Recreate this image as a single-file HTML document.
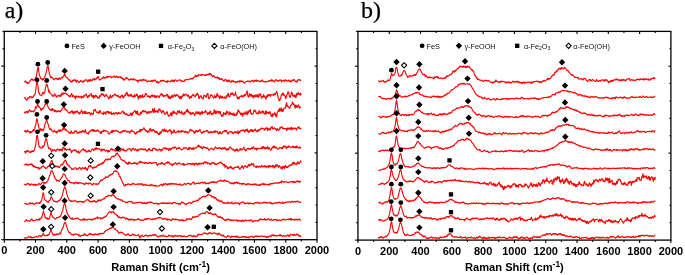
<!DOCTYPE html><html><head><meta charset="utf-8"><style>
html,body{margin:0;padding:0;background:#fff;width:685px;height:275px;overflow:hidden}
svg{display:block;will-change:transform;filter:blur(0.3px)}
.ax{fill:none;stroke:#000;stroke-width:1.3}
.tk{stroke:#000;stroke-width:1.1}
.sp{fill:none;stroke:#ff0000;stroke-width:1.1;stroke-linejoin:round}
.mk{fill:#000}
.od{fill:#fff;stroke:#000;stroke-width:1.1}
text{font-family:"Liberation Sans",sans-serif}
.tl{font-size:11px;font-weight:bold;text-anchor:middle;fill:#000}
.at{font-size:11.1px;font-weight:bold;text-anchor:middle;fill:#000}
.sup{font-size:8.4px}
.sub{font-size:5px}
.lg{font-size:7.3px;fill:#111}
.pl{font-family:"Liberation Serif",serif;font-size:24px;fill:#000;stroke:#000;stroke-width:0.25}
</style></head><body>
<svg width="685" height="275" viewBox="0 0 685 275">
<text class="pl" x="4.7" y="18.2">a)</text>
<text class="pl" x="361.0" y="18.2">b)</text>
<rect class="ax" x="4.25" y="31.40" width="312.75" height="208.30"/>
<line class="tk" x1="4.25" y1="239.70" x2="4.25" y2="242.70"/>
<line class="tk" x1="19.89" y1="239.70" x2="19.89" y2="241.50"/>
<line class="tk" x1="19.89" y1="31.40" x2="19.89" y2="32.90"/>
<line class="tk" x1="35.52" y1="239.70" x2="35.52" y2="242.70"/>
<line class="tk" x1="35.52" y1="31.40" x2="35.52" y2="33.90"/>
<line class="tk" x1="51.16" y1="239.70" x2="51.16" y2="241.50"/>
<line class="tk" x1="51.16" y1="31.40" x2="51.16" y2="32.90"/>
<line class="tk" x1="66.80" y1="239.70" x2="66.80" y2="242.70"/>
<line class="tk" x1="66.80" y1="31.40" x2="66.80" y2="33.90"/>
<line class="tk" x1="82.44" y1="239.70" x2="82.44" y2="241.50"/>
<line class="tk" x1="82.44" y1="31.40" x2="82.44" y2="32.90"/>
<line class="tk" x1="98.07" y1="239.70" x2="98.07" y2="242.70"/>
<line class="tk" x1="98.07" y1="31.40" x2="98.07" y2="33.90"/>
<line class="tk" x1="113.71" y1="239.70" x2="113.71" y2="241.50"/>
<line class="tk" x1="113.71" y1="31.40" x2="113.71" y2="32.90"/>
<line class="tk" x1="129.35" y1="239.70" x2="129.35" y2="242.70"/>
<line class="tk" x1="129.35" y1="31.40" x2="129.35" y2="33.90"/>
<line class="tk" x1="144.99" y1="239.70" x2="144.99" y2="241.50"/>
<line class="tk" x1="144.99" y1="31.40" x2="144.99" y2="32.90"/>
<line class="tk" x1="160.62" y1="239.70" x2="160.62" y2="242.70"/>
<line class="tk" x1="160.62" y1="31.40" x2="160.62" y2="33.90"/>
<line class="tk" x1="176.26" y1="239.70" x2="176.26" y2="241.50"/>
<line class="tk" x1="176.26" y1="31.40" x2="176.26" y2="32.90"/>
<line class="tk" x1="191.90" y1="239.70" x2="191.90" y2="242.70"/>
<line class="tk" x1="191.90" y1="31.40" x2="191.90" y2="33.90"/>
<line class="tk" x1="207.54" y1="239.70" x2="207.54" y2="241.50"/>
<line class="tk" x1="207.54" y1="31.40" x2="207.54" y2="32.90"/>
<line class="tk" x1="223.17" y1="239.70" x2="223.17" y2="242.70"/>
<line class="tk" x1="223.17" y1="31.40" x2="223.17" y2="33.90"/>
<line class="tk" x1="238.81" y1="239.70" x2="238.81" y2="241.50"/>
<line class="tk" x1="238.81" y1="31.40" x2="238.81" y2="32.90"/>
<line class="tk" x1="254.45" y1="239.70" x2="254.45" y2="242.70"/>
<line class="tk" x1="254.45" y1="31.40" x2="254.45" y2="33.90"/>
<line class="tk" x1="270.09" y1="239.70" x2="270.09" y2="241.50"/>
<line class="tk" x1="270.09" y1="31.40" x2="270.09" y2="32.90"/>
<line class="tk" x1="285.72" y1="239.70" x2="285.72" y2="242.70"/>
<line class="tk" x1="285.72" y1="31.40" x2="285.72" y2="33.90"/>
<line class="tk" x1="301.36" y1="239.70" x2="301.36" y2="241.50"/>
<line class="tk" x1="301.36" y1="31.40" x2="301.36" y2="32.90"/>
<line class="tk" x1="317.00" y1="239.70" x2="317.00" y2="242.70"/>
<line class="tk" x1="2.45" y1="31.40" x2="4.25" y2="31.40"/>
<line class="tk" x1="2.45" y1="48.76" x2="4.25" y2="48.76"/>
<line class="tk" x1="315.50" y1="48.76" x2="317.00" y2="48.76"/>
<line class="tk" x1="1.25" y1="66.12" x2="4.25" y2="66.12"/>
<line class="tk" x1="314.50" y1="66.12" x2="317.00" y2="66.12"/>
<line class="tk" x1="2.45" y1="83.47" x2="4.25" y2="83.47"/>
<line class="tk" x1="315.50" y1="83.47" x2="317.00" y2="83.47"/>
<line class="tk" x1="2.45" y1="100.83" x2="4.25" y2="100.83"/>
<line class="tk" x1="315.50" y1="100.83" x2="317.00" y2="100.83"/>
<line class="tk" x1="2.45" y1="118.19" x2="4.25" y2="118.19"/>
<line class="tk" x1="315.50" y1="118.19" x2="317.00" y2="118.19"/>
<line class="tk" x1="2.45" y1="135.55" x2="4.25" y2="135.55"/>
<line class="tk" x1="315.50" y1="135.55" x2="317.00" y2="135.55"/>
<line class="tk" x1="1.25" y1="152.91" x2="4.25" y2="152.91"/>
<line class="tk" x1="314.50" y1="152.91" x2="317.00" y2="152.91"/>
<line class="tk" x1="2.45" y1="170.27" x2="4.25" y2="170.27"/>
<line class="tk" x1="315.50" y1="170.27" x2="317.00" y2="170.27"/>
<line class="tk" x1="2.45" y1="187.62" x2="4.25" y2="187.62"/>
<line class="tk" x1="315.50" y1="187.62" x2="317.00" y2="187.62"/>
<line class="tk" x1="2.45" y1="204.98" x2="4.25" y2="204.98"/>
<line class="tk" x1="315.50" y1="204.98" x2="317.00" y2="204.98"/>
<line class="tk" x1="2.45" y1="222.34" x2="4.25" y2="222.34"/>
<line class="tk" x1="315.50" y1="222.34" x2="317.00" y2="222.34"/>
<line class="tk" x1="1.25" y1="239.70" x2="4.25" y2="239.70"/>
<text class="tl" x="4.25" y="254.40">0</text>
<text class="tl" x="35.52" y="254.40">200</text>
<text class="tl" x="66.80" y="254.40">400</text>
<text class="tl" x="98.07" y="254.40">600</text>
<text class="tl" x="129.35" y="254.40">800</text>
<text class="tl" x="160.62" y="254.40">1000</text>
<text class="tl" x="191.90" y="254.40">1200</text>
<text class="tl" x="223.17" y="254.40">1400</text>
<text class="tl" x="254.45" y="254.40">1600</text>
<text class="tl" x="285.72" y="254.40">1800</text>
<text class="tl" x="317.00" y="254.40">2000</text>
<text class="at" x="160.62" y="270.60">Raman Shift (cm<tspan class="sup" dy="-4.0">-1</tspan><tspan dy="4.0">)</tspan></text>
<rect class="ax" x="357.95" y="31.40" width="312.95" height="208.70"/>
<line class="tk" x1="357.95" y1="240.10" x2="357.95" y2="243.10"/>
<line class="tk" x1="373.60" y1="240.10" x2="373.60" y2="241.90"/>
<line class="tk" x1="373.60" y1="31.40" x2="373.60" y2="32.90"/>
<line class="tk" x1="389.25" y1="240.10" x2="389.25" y2="243.10"/>
<line class="tk" x1="389.25" y1="31.40" x2="389.25" y2="33.90"/>
<line class="tk" x1="404.89" y1="240.10" x2="404.89" y2="241.90"/>
<line class="tk" x1="404.89" y1="31.40" x2="404.89" y2="32.90"/>
<line class="tk" x1="420.54" y1="240.10" x2="420.54" y2="243.10"/>
<line class="tk" x1="420.54" y1="31.40" x2="420.54" y2="33.90"/>
<line class="tk" x1="436.19" y1="240.10" x2="436.19" y2="241.90"/>
<line class="tk" x1="436.19" y1="31.40" x2="436.19" y2="32.90"/>
<line class="tk" x1="451.83" y1="240.10" x2="451.83" y2="243.10"/>
<line class="tk" x1="451.83" y1="31.40" x2="451.83" y2="33.90"/>
<line class="tk" x1="467.48" y1="240.10" x2="467.48" y2="241.90"/>
<line class="tk" x1="467.48" y1="31.40" x2="467.48" y2="32.90"/>
<line class="tk" x1="483.13" y1="240.10" x2="483.13" y2="243.10"/>
<line class="tk" x1="483.13" y1="31.40" x2="483.13" y2="33.90"/>
<line class="tk" x1="498.78" y1="240.10" x2="498.78" y2="241.90"/>
<line class="tk" x1="498.78" y1="31.40" x2="498.78" y2="32.90"/>
<line class="tk" x1="514.42" y1="240.10" x2="514.42" y2="243.10"/>
<line class="tk" x1="514.42" y1="31.40" x2="514.42" y2="33.90"/>
<line class="tk" x1="530.07" y1="240.10" x2="530.07" y2="241.90"/>
<line class="tk" x1="530.07" y1="31.40" x2="530.07" y2="32.90"/>
<line class="tk" x1="545.72" y1="240.10" x2="545.72" y2="243.10"/>
<line class="tk" x1="545.72" y1="31.40" x2="545.72" y2="33.90"/>
<line class="tk" x1="561.37" y1="240.10" x2="561.37" y2="241.90"/>
<line class="tk" x1="561.37" y1="31.40" x2="561.37" y2="32.90"/>
<line class="tk" x1="577.01" y1="240.10" x2="577.01" y2="243.10"/>
<line class="tk" x1="577.01" y1="31.40" x2="577.01" y2="33.90"/>
<line class="tk" x1="592.66" y1="240.10" x2="592.66" y2="241.90"/>
<line class="tk" x1="592.66" y1="31.40" x2="592.66" y2="32.90"/>
<line class="tk" x1="608.31" y1="240.10" x2="608.31" y2="243.10"/>
<line class="tk" x1="608.31" y1="31.40" x2="608.31" y2="33.90"/>
<line class="tk" x1="623.96" y1="240.10" x2="623.96" y2="241.90"/>
<line class="tk" x1="623.96" y1="31.40" x2="623.96" y2="32.90"/>
<line class="tk" x1="639.61" y1="240.10" x2="639.61" y2="243.10"/>
<line class="tk" x1="639.61" y1="31.40" x2="639.61" y2="33.90"/>
<line class="tk" x1="655.25" y1="240.10" x2="655.25" y2="241.90"/>
<line class="tk" x1="655.25" y1="31.40" x2="655.25" y2="32.90"/>
<line class="tk" x1="670.90" y1="240.10" x2="670.90" y2="243.10"/>
<line class="tk" x1="356.15" y1="31.40" x2="357.95" y2="31.40"/>
<line class="tk" x1="356.15" y1="48.79" x2="357.95" y2="48.79"/>
<line class="tk" x1="669.40" y1="48.79" x2="670.90" y2="48.79"/>
<line class="tk" x1="354.95" y1="66.18" x2="357.95" y2="66.18"/>
<line class="tk" x1="668.40" y1="66.18" x2="670.90" y2="66.18"/>
<line class="tk" x1="356.15" y1="83.57" x2="357.95" y2="83.57"/>
<line class="tk" x1="669.40" y1="83.57" x2="670.90" y2="83.57"/>
<line class="tk" x1="356.15" y1="100.97" x2="357.95" y2="100.97"/>
<line class="tk" x1="669.40" y1="100.97" x2="670.90" y2="100.97"/>
<line class="tk" x1="356.15" y1="118.36" x2="357.95" y2="118.36"/>
<line class="tk" x1="669.40" y1="118.36" x2="670.90" y2="118.36"/>
<line class="tk" x1="356.15" y1="135.75" x2="357.95" y2="135.75"/>
<line class="tk" x1="669.40" y1="135.75" x2="670.90" y2="135.75"/>
<line class="tk" x1="354.95" y1="153.14" x2="357.95" y2="153.14"/>
<line class="tk" x1="668.40" y1="153.14" x2="670.90" y2="153.14"/>
<line class="tk" x1="356.15" y1="170.53" x2="357.95" y2="170.53"/>
<line class="tk" x1="669.40" y1="170.53" x2="670.90" y2="170.53"/>
<line class="tk" x1="356.15" y1="187.93" x2="357.95" y2="187.93"/>
<line class="tk" x1="669.40" y1="187.93" x2="670.90" y2="187.93"/>
<line class="tk" x1="356.15" y1="205.32" x2="357.95" y2="205.32"/>
<line class="tk" x1="669.40" y1="205.32" x2="670.90" y2="205.32"/>
<line class="tk" x1="356.15" y1="222.71" x2="357.95" y2="222.71"/>
<line class="tk" x1="669.40" y1="222.71" x2="670.90" y2="222.71"/>
<line class="tk" x1="354.95" y1="240.10" x2="357.95" y2="240.10"/>
<text class="tl" x="357.95" y="254.80">0</text>
<text class="tl" x="389.25" y="254.80">200</text>
<text class="tl" x="420.54" y="254.80">400</text>
<text class="tl" x="451.83" y="254.80">600</text>
<text class="tl" x="483.13" y="254.80">800</text>
<text class="tl" x="514.42" y="254.80">1000</text>
<text class="tl" x="545.72" y="254.80">1200</text>
<text class="tl" x="577.01" y="254.80">1400</text>
<text class="tl" x="608.31" y="254.80">1600</text>
<text class="tl" x="639.61" y="254.80">1800</text>
<text class="tl" x="670.90" y="254.80">2000</text>
<text class="at" x="514.42" y="270.60">Raman Shift (cm<tspan class="sup" dy="-4.0">-1</tspan><tspan dy="4.0">)</tspan></text>
<g class="sp">
<path d="M24.3 82.0L24.7 81.8L25.1 81.1L25.5 80.9L25.9 82.3L26.3 82.4L26.7 83.0L27.1 82.1L27.5 83.5L27.9 83.0L28.3 83.0L28.7 83.5L29.1 82.1L29.5 81.6L29.9 81.0L30.3 80.2L30.7 80.6L31.1 79.6L31.5 79.4L31.9 78.7L32.3 79.8L32.7 79.5L33.1 80.4L33.5 79.8L33.9 80.1L34.3 80.0L34.7 79.6L35.1 80.4L35.5 77.3L35.9 78.3L36.3 76.9L36.7 74.1L37.1 71.8L37.5 69.7L37.9 67.3L38.3 67.4L38.7 70.7L39.1 74.0L39.5 74.5L39.9 76.8L40.3 77.0L40.7 78.5L41.1 78.6L41.5 79.1L41.9 79.5L42.3 78.8L42.7 80.1L43.1 78.7L43.5 79.3L43.9 78.2L44.3 78.0L44.7 77.5L45.1 75.7L45.5 74.5L45.9 73.6L46.3 72.1L46.7 70.2L47.1 67.3L47.5 66.5L47.9 65.2L48.3 67.0L48.7 70.4L49.1 71.8L49.5 74.0L49.9 75.2L50.3 76.2L50.7 77.8L51.1 77.3L51.5 76.8L51.9 77.8L52.3 78.2L52.7 78.0L53.1 78.3L53.5 79.4L53.9 79.3L54.3 79.8L54.7 79.1L55.1 78.3L55.5 78.6L55.9 78.5L56.3 78.5L56.7 79.1L57.1 78.0L57.5 79.0L57.9 79.8L58.3 78.4L58.7 79.3L59.1 78.9L59.5 78.0L59.9 78.4L60.3 79.4L60.7 78.2L61.1 78.2L61.5 77.7L61.9 77.0L62.3 78.0L62.7 77.7L63.1 77.0L63.5 76.1L63.9 75.1L64.3 74.7L64.7 75.6L65.1 74.4L65.5 76.4L65.9 76.8L66.3 77.4L66.7 77.7L67.1 77.5L67.5 77.9L67.9 78.5L68.3 79.2L68.7 79.9L69.1 79.7L69.5 80.1L69.9 79.9L70.3 81.1L70.7 81.3L71.1 82.2L71.5 81.9L71.9 81.4L72.3 80.7L72.7 81.6L73.1 80.0L73.5 80.2L73.9 80.4L74.3 80.2L74.7 79.5L75.1 79.7L75.5 81.0L75.9 81.0L76.3 82.3L76.7 80.4L77.1 80.1L77.5 80.7L77.9 81.2L78.3 81.8L78.7 82.5L79.1 82.5L79.5 81.9L79.9 81.2L80.3 81.3L80.7 80.6L81.1 81.3L81.5 80.9L81.9 81.0L82.3 82.1L82.7 82.2L83.1 82.3L83.5 80.8L83.9 81.5L84.3 81.5L84.7 80.8L85.1 79.9L85.5 80.0L85.9 80.1L86.3 79.7L86.7 79.8L87.1 80.7L87.5 81.7L87.9 81.7L88.3 80.4L88.7 79.9L89.1 81.3L89.5 81.0L89.9 80.1L90.3 79.2L90.7 80.9L91.1 80.1L91.5 80.2L91.9 80.5L92.3 80.5L92.7 79.3L93.1 79.0L93.5 79.3L93.9 79.0L94.3 78.2L94.7 80.1L95.1 79.7L95.5 79.5L95.9 79.5L96.3 78.0L96.7 78.7L97.1 78.3L97.5 77.2L97.9 76.5L98.3 76.6L98.7 78.2L99.1 79.2L99.5 79.2L99.9 80.2L100.3 79.3L100.7 79.4L101.1 79.1L101.5 78.6L101.9 78.3L102.3 78.4L102.7 78.3L103.1 76.8L103.5 77.7L103.9 77.2L104.3 78.3L104.7 77.7L105.1 77.2L105.5 77.9L105.9 77.7L106.3 77.8L106.7 76.3L107.1 77.0L107.5 76.5L107.9 77.6L108.3 77.1L108.7 76.5L109.1 76.5L109.5 76.5L109.9 76.3L110.3 76.2L110.7 76.3L111.1 77.8L111.5 77.0L111.9 77.6L112.3 77.5L112.7 77.0L113.1 76.4L113.5 76.6L113.9 76.0L114.3 76.0L114.7 77.0L115.1 77.0L115.5 77.3L115.9 76.8L116.3 76.0L116.7 76.9L117.1 77.0L117.5 77.8L117.9 76.8L118.3 77.4L118.7 76.9L119.1 76.8L119.5 76.9L119.9 77.3L120.3 76.7L120.7 78.0L121.1 76.9L121.5 77.6L121.9 77.9L122.3 78.7L122.7 78.1L123.1 79.5L123.5 78.4L123.9 80.4L124.3 79.6L124.7 79.5L125.1 79.0L125.5 79.0L125.9 77.9L126.3 77.3L126.7 78.4L127.1 78.4L127.5 78.3L127.9 78.6L128.3 79.2L128.7 79.7L129.1 80.3L129.5 79.5L129.9 79.6L130.3 79.7L130.7 78.8L131.1 79.2L131.5 78.9L131.9 79.4L132.3 79.4L132.7 80.1L133.1 79.2L133.5 78.7L133.9 79.4L134.3 79.0L134.7 80.1L135.1 79.9L135.5 79.8L135.9 79.8L136.3 80.6L136.7 80.5L137.1 80.4L137.5 80.6L137.9 82.3L138.3 80.2L138.7 80.5L139.1 80.6L139.5 80.6L139.9 79.8L140.3 80.0L140.7 79.9L141.1 81.2L141.5 80.0L141.9 80.4L142.3 79.8L142.7 80.2L143.1 79.3L143.5 80.3L143.9 79.4L144.3 79.9L144.7 80.2L145.1 80.7L145.5 80.3L145.9 79.9L146.3 80.0L146.7 81.1L147.1 81.9L147.5 81.8L147.9 81.3L148.3 81.4L148.7 80.8L149.1 80.7L149.5 81.0L149.9 81.5L150.3 81.6L150.7 81.3L151.1 80.6L151.5 81.1L151.9 80.2L152.3 81.6L152.7 80.7L153.1 81.1L153.5 80.9L153.9 80.1L154.3 80.6L154.7 80.3L155.1 79.9L155.5 81.1L155.9 81.4L156.3 81.7L156.7 82.5L157.1 81.3L157.5 81.2L157.9 82.7L158.3 83.1L158.7 82.9L159.1 82.4L159.5 82.0L159.9 81.6L160.3 81.1L160.7 80.7L161.1 81.4L161.5 80.6L161.9 80.3L162.3 81.0L162.7 80.5L163.1 80.3L163.5 81.0L163.9 80.2L164.3 80.6L164.7 81.1L165.1 81.4L165.5 81.9L165.9 82.0L166.3 81.4L166.7 81.1L167.1 82.5L167.5 81.2L167.9 80.7L168.3 81.2L168.7 81.3L169.1 81.6L169.5 81.5L169.9 81.5L170.3 81.3L170.7 81.9L171.1 80.5L171.5 80.5L171.9 80.6L172.3 79.7L172.7 81.6L173.1 81.4L173.5 80.5L173.9 81.9L174.3 81.4L174.7 80.6L175.1 79.8L175.5 79.7L175.9 80.3L176.3 80.4L176.7 81.2L177.1 81.0L177.5 81.1L177.9 80.6L178.3 80.4L178.7 80.2L179.1 79.9L179.5 79.8L179.9 80.0L180.3 80.0L180.7 80.2L181.1 81.6L181.5 80.6L181.9 80.9L182.3 80.8L182.7 81.5L183.1 81.5L183.5 81.2L183.9 81.7L184.3 81.3L184.7 80.1L185.1 79.7L185.5 79.7L185.9 80.2L186.3 79.8L186.7 79.2L187.1 79.6L187.5 79.8L187.9 79.8L188.3 79.8L188.7 79.5L189.1 79.4L189.5 79.1L189.9 78.7L190.3 78.5L190.7 79.1L191.1 79.3L191.5 78.5L191.9 78.2L192.3 78.7L192.7 79.0L193.1 78.7L193.5 77.5L193.9 77.2L194.3 77.1L194.7 76.8L195.1 76.4L195.5 75.1L195.9 76.6L196.3 76.5L196.7 75.9L197.1 76.3L197.5 75.5L197.9 75.5L198.3 76.0L198.7 74.5L199.1 75.0L199.5 75.1L199.9 75.1L200.3 75.2L200.7 74.9L201.1 75.8L201.5 74.5L201.9 75.3L202.3 74.5L202.7 74.7L203.1 74.5L203.5 74.7L203.9 74.9L204.3 75.4L204.7 75.3L205.1 75.5L205.5 74.6L205.9 75.4L206.3 74.9L206.7 75.0L207.1 74.4L207.5 75.0L207.9 74.1L208.3 74.1L208.7 74.8L209.1 73.8L209.5 74.3L209.9 73.4L210.3 73.5L210.7 73.7L211.1 75.3L211.5 74.6L211.9 75.8L212.3 76.1L212.7 76.8L213.1 76.0L213.5 75.5L213.9 75.7L214.3 77.2L214.7 77.0L215.1 77.6L215.5 77.7L215.9 77.2L216.3 77.2L216.7 77.8L217.1 77.1L217.5 77.7L217.9 78.1L218.3 78.6L218.7 77.5L219.1 77.7L219.5 79.4L219.9 79.5L220.3 79.2L220.7 79.2L221.1 79.4L221.5 78.4L221.9 78.6L222.3 79.5L222.7 79.7L223.1 80.4L223.5 80.3L223.9 81.2L224.3 80.2L224.7 80.2L225.1 79.2L225.5 79.6L225.9 79.3L226.3 80.8L226.7 81.3L227.1 80.6L227.5 80.6L227.9 81.8L228.3 81.5L228.7 79.7L229.1 80.3L229.5 81.1L229.9 81.0L230.3 82.2L230.7 81.9L231.1 82.1L231.5 81.6L231.9 80.4L232.3 81.1L232.7 80.9L233.1 82.0L233.5 80.8L233.9 81.4L234.3 81.4L234.7 81.7L235.1 81.6L235.5 82.8L235.9 82.0L236.3 81.9L236.7 82.0L237.1 82.4L237.5 81.1L237.9 81.4L238.3 81.7L238.7 81.3L239.1 81.7L239.5 80.7L239.9 82.4L240.3 81.5L240.7 81.2L241.1 80.6L241.5 81.5L241.9 81.7L242.3 81.2L242.7 81.6L243.1 81.3L243.5 82.5L243.9 82.7L244.3 83.2L244.7 82.7L245.1 82.8L245.5 81.9L245.9 81.8L246.3 81.5L246.7 81.5L247.1 81.1L247.5 81.2L247.9 80.9L248.3 81.6L248.7 81.2L249.1 81.2L249.5 81.1L249.9 81.9L250.3 81.6L250.7 81.6L251.1 80.9L251.5 81.0L251.9 80.4L252.3 80.4L252.7 80.7L253.1 82.0L253.5 81.2L253.9 81.7L254.3 80.4L254.7 80.8L255.1 80.2L255.5 80.7L255.9 81.4L256.3 81.2L256.7 80.0L257.1 80.7L257.5 81.0L257.9 80.7L258.3 80.9L258.7 80.9L259.1 81.6L259.5 81.0L259.9 81.6L260.3 81.8L260.7 81.1L261.1 80.6L261.5 81.2L261.9 80.5L262.3 79.9L262.7 80.8L263.1 81.4L263.5 81.2L263.9 81.9L264.3 81.9L264.7 82.0L265.1 81.5L265.5 81.4L265.9 82.0L266.3 81.6L266.7 81.7L267.1 81.7L267.5 81.6L267.9 81.5L268.3 81.3L268.7 80.9L269.1 80.5L269.5 81.1L269.9 80.7L270.3 80.3L270.7 80.7L271.1 81.0L271.5 79.6L271.9 80.4L272.3 81.2L272.7 80.1L273.1 80.9L273.5 81.0L273.9 80.9L274.3 82.1L274.7 81.6L275.1 80.8L275.5 79.8L275.9 80.2L276.3 79.7L276.7 80.4L277.1 80.2L277.5 80.8L277.9 81.5L278.3 81.2L278.7 80.5L279.1 80.4L279.5 80.0L279.9 80.8L280.3 80.0L280.7 80.2L281.1 80.0L281.5 81.0L281.9 82.1L282.3 81.0L282.7 80.7L283.1 80.3L283.5 80.4L283.9 80.4L284.3 81.4L284.7 80.8L285.1 80.2L285.5 79.7L285.9 81.0L286.3 80.7L286.7 80.3L287.1 80.9L287.5 80.9L287.9 81.4L288.3 80.9L288.7 80.1L289.1 80.6L289.5 81.4L289.9 81.1L290.3 81.0L290.7 80.9L291.1 82.1L291.5 81.3L291.9 79.9L292.3 80.5L292.7 80.7L293.1 80.4L293.5 79.8L293.9 80.1L294.3 79.5L294.7 80.7L295.1 81.0L295.5 81.6L295.9 81.1L296.3 81.0L296.7 82.2L297.1 81.8L297.5 80.8L297.9 79.7L298.3 79.6L298.7 80.1L299.1 79.9L299.5 79.6L299.9 80.0L300.3 80.5L300.7 80.1L301.1 79.8"/>
<path d="M24.3 98.2L24.7 97.5L25.1 97.5L25.5 98.9L25.9 98.9L26.3 99.7L26.7 100.2L27.1 100.0L27.5 98.8L27.9 98.2L28.3 97.6L28.7 98.2L29.1 98.0L29.5 96.6L29.9 96.7L30.3 96.6L30.7 97.2L31.1 96.9L31.5 96.9L31.9 97.9L32.3 97.6L32.7 96.9L33.1 97.2L33.5 95.9L33.9 96.1L34.3 95.0L34.7 94.6L35.1 94.5L35.5 91.5L35.9 89.1L36.3 85.3L36.7 82.2L37.1 81.7L37.5 83.1L37.9 85.3L38.3 90.3L38.7 92.3L39.1 92.5L39.5 94.2L39.9 94.9L40.3 95.0L40.7 95.1L41.1 95.8L41.5 95.2L41.9 95.0L42.3 93.6L42.7 92.4L43.1 92.6L43.5 93.3L43.9 93.9L44.3 92.3L44.7 92.0L45.1 90.9L45.5 87.3L45.9 86.9L46.3 84.5L46.7 84.2L47.1 84.4L47.5 86.0L47.9 87.6L48.3 89.4L48.7 92.2L49.1 90.4L49.5 92.3L49.9 92.5L50.3 93.5L50.7 93.5L51.1 94.2L51.5 94.8L51.9 95.0L52.3 96.3L52.7 95.3L53.1 95.9L53.5 96.1L53.9 96.4L54.3 94.2L54.7 93.9L55.1 95.0L55.5 95.2L55.9 95.0L56.3 97.1L56.7 96.9L57.1 96.5L57.5 96.1L57.9 95.8L58.3 95.2L58.7 95.8L59.1 96.2L59.5 95.6L59.9 95.3L60.3 96.7L60.7 95.0L61.1 95.9L61.5 94.6L61.9 92.9L62.3 94.8L62.7 94.2L63.1 93.1L63.5 94.0L63.9 92.8L64.3 92.9L64.7 93.6L65.1 93.5L65.5 93.4L65.9 93.7L66.3 94.0L66.7 93.7L67.1 93.7L67.5 94.4L67.9 95.2L68.3 95.2L68.7 96.0L69.1 96.5L69.5 95.9L69.9 96.9L70.3 96.6L70.7 95.4L71.1 94.3L71.5 93.7L71.9 93.8L72.3 96.7L72.7 96.4L73.1 95.9L73.5 95.3L73.9 96.3L74.3 97.2L74.7 97.0L75.1 96.4L75.5 99.0L75.9 97.2L76.3 95.7L76.7 96.6L77.1 96.7L77.5 97.1L77.9 96.9L78.3 96.0L78.7 97.2L79.1 96.7L79.5 97.3L79.9 97.0L80.3 97.2L80.7 96.6L81.1 96.2L81.5 98.2L81.9 96.4L82.3 96.4L82.7 97.2L83.1 97.3L83.5 97.4L83.9 95.4L84.3 95.6L84.7 96.2L85.1 95.2L85.5 94.9L85.9 93.9L86.3 94.4L86.7 95.7L87.1 97.1L87.5 97.7L87.9 97.6L88.3 95.5L88.7 96.5L89.1 96.4L89.5 95.6L89.9 95.1L90.3 94.3L90.7 94.5L91.1 93.3L91.5 96.1L91.9 95.8L92.3 96.9L92.7 95.6L93.1 95.3L93.5 98.2L93.9 95.6L94.3 96.1L94.7 97.3L95.1 97.2L95.5 95.3L95.9 95.4L96.3 95.7L96.7 96.7L97.1 96.2L97.5 97.6L97.9 98.0L98.3 97.2L98.7 97.2L99.1 98.4L99.5 96.5L99.9 95.5L100.3 96.2L100.7 96.0L101.1 94.2L101.5 93.6L101.9 94.7L102.3 93.9L102.7 94.1L103.1 95.4L103.5 94.3L103.9 94.5L104.3 96.7L104.7 96.8L105.1 96.1L105.5 96.2L105.9 94.8L106.3 94.4L106.7 95.1L107.1 95.9L107.5 96.6L107.9 96.7L108.3 97.9L108.7 98.7L109.1 98.1L109.5 97.0L109.9 97.9L110.3 95.1L110.7 95.6L111.1 96.9L111.5 97.7L111.9 97.5L112.3 96.3L112.7 95.2L113.1 95.9L113.5 95.8L113.9 95.5L114.3 94.1L114.7 94.0L115.1 94.4L115.5 94.4L115.9 95.7L116.3 95.6L116.7 95.9L117.1 95.4L117.5 96.2L117.9 95.2L118.3 96.6L118.7 96.0L119.1 97.2L119.5 97.5L119.9 97.0L120.3 97.9L120.7 96.0L121.1 96.0L121.5 95.3L121.9 95.4L122.3 96.8L122.7 95.3L123.1 98.0L123.5 98.0L123.9 97.2L124.3 96.0L124.7 95.8L125.1 94.8L125.5 95.6L125.9 93.2L126.3 93.1L126.7 93.8L127.1 92.1L127.5 95.4L127.9 94.6L128.3 95.9L128.7 95.9L129.1 94.8L129.5 96.2L129.9 96.3L130.3 94.7L130.7 94.4L131.1 94.4L131.5 96.2L131.9 95.3L132.3 96.0L132.7 96.9L133.1 96.8L133.5 95.9L133.9 97.1L134.3 96.7L134.7 94.4L135.1 96.8L135.5 95.9L135.9 95.8L136.3 95.6L136.7 93.9L137.1 94.3L137.5 96.4L137.9 96.3L138.3 99.1L138.7 96.4L139.1 97.0L139.5 95.5L139.9 98.0L140.3 97.9L140.7 95.3L141.1 96.7L141.5 96.5L141.9 97.5L142.3 94.3L142.7 96.1L143.1 97.4L143.5 96.7L143.9 96.5L144.3 95.7L144.7 96.5L145.1 95.2L145.5 93.4L145.9 94.3L146.3 93.8L146.7 94.9L147.1 95.9L147.5 96.8L147.9 96.7L148.3 95.8L148.7 96.4L149.1 96.4L149.5 97.5L149.9 96.1L150.3 97.6L150.7 96.1L151.1 96.3L151.5 95.2L151.9 96.3L152.3 94.7L152.7 96.4L153.1 95.7L153.5 96.2L153.9 96.2L154.3 95.4L154.7 97.4L155.1 95.4L155.5 97.0L155.9 97.7L156.3 97.6L156.7 96.0L157.1 95.9L157.5 96.2L157.9 95.9L158.3 96.9L158.7 96.7L159.1 97.8L159.5 96.9L159.9 95.6L160.3 94.9L160.7 95.0L161.1 94.0L161.5 93.7L161.9 94.4L162.3 95.7L162.7 94.3L163.1 96.0L163.5 96.8L163.9 95.8L164.3 96.1L164.7 95.2L165.1 95.5L165.5 95.7L165.9 96.2L166.3 95.3L166.7 94.4L167.1 94.7L167.5 94.4L167.9 97.2L168.3 96.0L168.7 98.3L169.1 96.1L169.5 96.7L169.9 98.6L170.3 96.9L170.7 98.4L171.1 97.1L171.5 97.4L171.9 95.0L172.3 96.4L172.7 96.1L173.1 97.5L173.5 95.5L173.9 95.6L174.3 94.9L174.7 94.4L175.1 96.5L175.5 95.8L175.9 96.2L176.3 94.9L176.7 95.3L177.1 94.5L177.5 94.7L177.9 95.6L178.3 95.7L178.7 97.2L179.1 96.3L179.5 97.2L179.9 98.8L180.3 97.2L180.7 96.5L181.1 99.0L181.5 97.6L181.9 96.3L182.3 95.7L182.7 96.7L183.1 94.8L183.5 93.9L183.9 95.5L184.3 95.0L184.7 95.1L185.1 94.2L185.5 95.0L185.9 94.0L186.3 94.7L186.7 95.3L187.1 95.5L187.5 96.2L187.9 95.9L188.3 94.8L188.7 95.7L189.1 97.6L189.5 98.5L189.9 97.7L190.3 96.6L190.7 96.8L191.1 97.5L191.5 97.6L191.9 95.7L192.3 95.0L192.7 95.4L193.1 94.6L193.5 95.2L193.9 94.8L194.3 96.0L194.7 96.2L195.1 96.8L195.5 96.4L195.9 95.2L196.3 94.0L196.7 95.3L197.1 93.9L197.5 93.3L197.9 94.7L198.3 94.5L198.7 98.1L199.1 98.0L199.5 98.3L199.9 96.4L200.3 96.1L200.7 96.1L201.1 95.7L201.5 96.8L201.9 97.9L202.3 97.5L202.7 98.2L203.1 99.1L203.5 97.4L203.9 95.1L204.3 95.5L204.7 95.7L205.1 96.2L205.5 96.8L205.9 95.8L206.3 97.3L206.7 95.0L207.1 94.8L207.5 93.6L207.9 93.3L208.3 96.8L208.7 98.2L209.1 99.0L209.5 98.1L209.9 97.9L210.3 96.2L210.7 94.7L211.1 95.5L211.5 95.3L211.9 95.1L212.3 95.7L212.7 96.5L213.1 97.2L213.5 97.9L213.9 97.7L214.3 96.8L214.7 95.3L215.1 97.1L215.5 97.8L215.9 96.5L216.3 97.1L216.7 95.5L217.1 93.2L217.5 96.2L217.9 94.9L218.3 96.0L218.7 96.1L219.1 96.8L219.5 98.6L219.9 98.1L220.3 95.7L220.7 97.1L221.1 96.1L221.5 97.9L221.9 98.1L222.3 96.4L222.7 97.6L223.1 97.8L223.5 97.5L223.9 97.8L224.3 96.8L224.7 97.7L225.1 98.0L225.5 98.5L225.9 98.2L226.3 95.7L226.7 96.6L227.1 97.0L227.5 94.6L227.9 95.1L228.3 93.2L228.7 96.3L229.1 96.2L229.5 96.9L229.9 97.0L230.3 94.2L230.7 93.6L231.1 94.2L231.5 93.2L231.9 94.4L232.3 92.7L232.7 94.3L233.1 94.0L233.5 94.1L233.9 95.9L234.3 94.9L234.7 95.0L235.1 94.4L235.5 91.9L235.9 95.1L236.3 95.4L236.7 96.1L237.1 96.6L237.5 98.9L237.9 98.3L238.3 97.2L238.7 98.5L239.1 98.8L239.5 97.1L239.9 96.5L240.3 96.4L240.7 96.4L241.1 96.0L241.5 95.5L241.9 96.8L242.3 96.1L242.7 96.0L243.1 97.2L243.5 95.6L243.9 95.0L244.3 96.1L244.7 94.5L245.1 95.8L245.5 94.3L245.9 94.5L246.3 93.1L246.7 92.0L247.1 90.7L247.5 93.5L247.9 96.5L248.3 95.8L248.7 97.1L249.1 96.8L249.5 93.6L249.9 94.3L250.3 94.4L250.7 96.0L251.1 96.2L251.5 94.4L251.9 96.2L252.3 96.5L252.7 95.6L253.1 97.7L253.5 98.0L253.9 95.2L254.3 96.4L254.7 95.2L255.1 96.7L255.5 96.5L255.9 94.8L256.3 94.9L256.7 96.8L257.1 95.5L257.5 96.8L257.9 94.4L258.3 94.8L258.7 97.2L259.1 96.2L259.5 95.1L259.9 93.8L260.3 94.8L260.7 93.9L261.1 96.1L261.5 98.1L261.9 98.0L262.3 96.8L262.7 96.3L263.1 96.7L263.5 94.5L263.9 97.1L264.3 95.8L264.7 96.3L265.1 97.2L265.5 97.4L265.9 99.3L266.3 96.9L266.7 95.7L267.1 97.1L267.5 94.8L267.9 96.4L268.3 95.6L268.7 94.6L269.1 95.4L269.5 94.5L269.9 94.5L270.3 96.5L270.7 95.0L271.1 95.0L271.5 94.6L271.9 95.1L272.3 94.7L272.7 94.8L273.1 94.6L273.5 95.6L273.9 93.9L274.3 94.3L274.7 94.6L275.1 93.5L275.5 94.4L275.9 93.0L276.3 91.8L276.7 91.4L277.1 92.7L277.5 94.4L277.9 96.3L278.3 98.3L278.7 98.6L279.1 100.9L279.5 99.9L279.9 100.3L280.3 98.1L280.7 98.2L281.1 96.0L281.5 94.3L281.9 94.3L282.3 94.9L282.7 93.2L283.1 94.9L283.5 93.1L283.9 95.5L284.3 95.2L284.7 95.3L285.1 96.3L285.5 98.3L285.9 98.5L286.3 95.8L286.7 96.3L287.1 93.8L287.5 93.8L287.9 91.7L288.3 92.6L288.7 92.0L289.1 95.4L289.5 96.2L289.9 97.1L290.3 97.5L290.7 95.1L291.1 94.9L291.5 92.0L291.9 92.8L292.3 93.0L292.7 95.8L293.1 96.1L293.5 95.9L293.9 95.3L294.3 96.8L294.7 95.7L295.1 94.6L295.5 97.3L295.9 97.6L296.3 96.7L296.7 93.2L297.1 93.9L297.5 94.7L297.9 93.5L298.3 92.3L298.7 94.3L299.1 93.7L299.5 94.5L299.9 94.3L300.3 95.2L300.7 93.0L301.1 94.9"/>
<path d="M24.3 113.0L24.7 112.1L25.1 113.3L25.5 112.1L25.9 112.3L26.3 111.2L26.7 111.8L27.1 111.8L27.5 112.9L27.9 111.4L28.3 112.4L28.7 111.4L29.1 110.9L29.5 109.8L29.9 110.7L30.3 110.7L30.7 111.4L31.1 110.9L31.5 111.0L31.9 111.9L32.3 111.5L32.7 111.0L33.1 111.4L33.5 111.8L33.9 111.2L34.3 110.6L34.7 110.6L35.1 108.6L35.5 106.6L35.9 108.0L36.3 108.1L36.7 107.3L37.1 106.2L37.5 103.7L37.9 104.4L38.3 105.8L38.7 106.7L39.1 107.2L39.5 106.8L39.9 107.6L40.3 108.3L40.7 109.6L41.1 110.6L41.5 108.5L41.9 109.3L42.3 108.4L42.7 109.2L43.1 108.5L43.5 108.1L43.9 107.3L44.3 106.1L44.7 105.2L45.1 104.6L45.5 104.4L45.9 104.2L46.3 103.1L46.7 102.4L47.1 104.4L47.5 105.0L47.9 106.3L48.3 107.7L48.7 107.9L49.1 108.1L49.5 108.9L49.9 109.6L50.3 110.1L50.7 109.5L51.1 110.2L51.5 108.9L51.9 110.5L52.3 109.0L52.7 108.7L53.1 110.0L53.5 110.0L53.9 109.8L54.3 111.8L54.7 110.2L55.1 111.0L55.5 110.5L55.9 111.7L56.3 112.0L56.7 111.1L57.1 110.9L57.5 111.9L57.9 111.0L58.3 111.1L58.7 110.8L59.1 111.5L59.5 111.4L59.9 110.7L60.3 112.0L60.7 110.7L61.1 110.5L61.5 110.1L61.9 110.1L62.3 108.0L62.7 108.0L63.1 107.6L63.5 107.6L63.9 107.3L64.3 106.5L64.7 108.2L65.1 109.8L65.5 109.3L65.9 109.3L66.3 109.7L66.7 110.8L67.1 110.6L67.5 110.9L67.9 111.9L68.3 112.7L68.7 112.7L69.1 113.1L69.5 112.2L69.9 112.3L70.3 113.0L70.7 111.8L71.1 111.0L71.5 111.1L71.9 111.4L72.3 113.0L72.7 110.8L73.1 112.0L73.5 113.9L73.9 112.1L74.3 113.0L74.7 111.7L75.1 113.0L75.5 111.3L75.9 112.0L76.3 112.2L76.7 111.3L77.1 110.7L77.5 111.5L77.9 112.6L78.3 113.1L78.7 113.4L79.1 112.3L79.5 114.2L79.9 113.7L80.3 113.2L80.7 112.3L81.1 111.3L81.5 110.0L81.9 111.2L82.3 112.0L82.7 113.6L83.1 113.2L83.5 111.7L83.9 112.8L84.3 111.4L84.7 113.6L85.1 113.8L85.5 112.0L85.9 111.4L86.3 113.2L86.7 113.1L87.1 113.7L87.5 113.6L87.9 112.6L88.3 113.2L88.7 113.3L89.1 112.5L89.5 112.4L89.9 113.0L90.3 114.5L90.7 115.0L91.1 113.9L91.5 112.9L91.9 113.9L92.3 113.4L92.7 113.7L93.1 114.6L93.5 113.3L93.9 109.8L94.3 109.8L94.7 110.4L95.1 109.3L95.5 109.7L95.9 111.6L96.3 112.0L96.7 112.2L97.1 112.6L97.5 111.8L97.9 112.2L98.3 112.5L98.7 113.6L99.1 111.3L99.5 112.8L99.9 110.5L100.3 110.6L100.7 112.2L101.1 112.8L101.5 113.3L101.9 113.4L102.3 113.8L102.7 113.2L103.1 113.8L103.5 114.5L103.9 111.6L104.3 113.1L104.7 113.1L105.1 112.8L105.5 114.2L105.9 114.3L106.3 111.8L106.7 111.4L107.1 112.3L107.5 111.4L107.9 112.4L108.3 111.4L108.7 113.4L109.1 112.6L109.5 112.1L109.9 113.3L110.3 113.0L110.7 113.4L111.1 111.9L111.5 114.4L111.9 113.9L112.3 113.9L112.7 113.6L113.1 114.3L113.5 112.8L113.9 112.8L114.3 113.8L114.7 114.1L115.1 113.4L115.5 112.7L115.9 112.6L116.3 112.6L116.7 112.8L117.1 114.3L117.5 113.2L117.9 113.9L118.3 112.5L118.7 113.6L119.1 112.5L119.5 113.6L119.9 113.3L120.3 113.6L120.7 113.0L121.1 113.0L121.5 112.6L121.9 112.0L122.3 111.0L122.7 111.8L123.1 111.9L123.5 111.6L123.9 113.8L124.3 113.1L124.7 112.5L125.1 114.0L125.5 114.6L125.9 114.3L126.3 114.6L126.7 113.6L127.1 114.3L127.5 114.7L127.9 115.5L128.3 115.2L128.7 115.1L129.1 115.5L129.5 115.4L129.9 114.5L130.3 114.2L130.7 113.2L131.1 115.3L131.5 113.1L131.9 115.8L132.3 113.3L132.7 114.1L133.1 112.3L133.5 112.6L133.9 111.9L134.3 111.2L134.7 110.6L135.1 111.6L135.5 111.2L135.9 113.7L136.3 111.6L136.7 113.8L137.1 112.1L137.5 111.0L137.9 114.6L138.3 114.7L138.7 114.2L139.1 114.5L139.5 114.5L139.9 115.3L140.3 112.4L140.7 112.3L141.1 113.1L141.5 113.7L141.9 111.3L142.3 111.2L142.7 110.8L143.1 112.0L143.5 110.3L143.9 110.7L144.3 111.4L144.7 111.8L145.1 112.0L145.5 110.8L145.9 111.7L146.3 112.2L146.7 113.0L147.1 113.8L147.5 113.4L147.9 111.8L148.3 112.4L148.7 111.2L149.1 113.3L149.5 112.0L149.9 112.0L150.3 112.3L150.7 111.5L151.1 112.3L151.5 112.0L151.9 111.3L152.3 111.1L152.7 108.6L153.1 111.5L153.5 112.6L153.9 112.0L154.3 108.3L154.7 111.7L155.1 112.1L155.5 110.9L155.9 110.9L156.3 112.0L156.7 111.0L157.1 110.9L157.5 110.6L157.9 112.6L158.3 111.1L158.7 109.7L159.1 108.7L159.5 110.0L159.9 109.3L160.3 110.0L160.7 111.1L161.1 111.6L161.5 112.7L161.9 113.2L162.3 110.8L162.7 110.7L163.1 111.7L163.5 110.8L163.9 112.0L164.3 114.0L164.7 113.7L165.1 114.2L165.5 113.9L165.9 113.3L166.3 112.2L166.7 113.1L167.1 111.6L167.5 112.6L167.9 115.1L168.3 115.1L168.7 116.3L169.1 115.4L169.5 115.8L169.9 114.7L170.3 114.8L170.7 113.4L171.1 112.6L171.5 115.5L171.9 115.9L172.3 113.2L172.7 112.2L173.1 111.1L173.5 113.5L173.9 111.4L174.3 112.9L174.7 113.2L175.1 112.7L175.5 113.1L175.9 112.9L176.3 114.0L176.7 114.4L177.1 113.9L177.5 111.0L177.9 110.8L178.3 111.4L178.7 112.4L179.1 112.8L179.5 110.5L179.9 112.5L180.3 113.2L180.7 112.5L181.1 112.5L181.5 111.2L181.9 114.3L182.3 113.6L182.7 112.8L183.1 112.8L183.5 114.2L183.9 114.7L184.3 113.3L184.7 112.1L185.1 113.5L185.5 112.0L185.9 111.8L186.3 111.0L186.7 109.8L187.1 111.6L187.5 109.4L187.9 112.0L188.3 110.7L188.7 111.9L189.1 112.7L189.5 113.1L189.9 111.9L190.3 114.3L190.7 112.7L191.1 114.4L191.5 113.9L191.9 113.2L192.3 112.5L192.7 113.6L193.1 113.6L193.5 112.7L193.9 113.7L194.3 114.9L194.7 115.5L195.1 114.2L195.5 113.6L195.9 112.4L196.3 111.6L196.7 113.3L197.1 112.6L197.5 112.2L197.9 113.8L198.3 113.8L198.7 111.8L199.1 111.7L199.5 114.2L199.9 113.7L200.3 114.7L200.7 112.3L201.1 113.4L201.5 112.9L201.9 111.3L202.3 114.1L202.7 111.7L203.1 112.7L203.5 112.6L203.9 112.7L204.3 112.0L204.7 111.9L205.1 112.5L205.5 110.4L205.9 111.6L206.3 111.9L206.7 112.1L207.1 112.5L207.5 114.6L207.9 113.3L208.3 113.3L208.7 112.6L209.1 114.3L209.5 113.8L209.9 111.4L210.3 111.2L210.7 111.5L211.1 114.0L211.5 114.1L211.9 114.9L212.3 113.2L212.7 113.6L213.1 113.3L213.5 113.9L213.9 111.6L214.3 109.5L214.7 111.5L215.1 112.9L215.5 113.7L215.9 110.5L216.3 113.0L216.7 113.2L217.1 112.2L217.5 111.2L217.9 111.9L218.3 111.7L218.7 113.2L219.1 111.2L219.5 113.1L219.9 111.5L220.3 111.7L220.7 114.3L221.1 114.6L221.5 116.3L221.9 116.4L222.3 115.3L222.7 115.0L223.1 116.1L223.5 112.5L223.9 113.2L224.3 113.7L224.7 113.5L225.1 114.5L225.5 112.9L225.9 114.4L226.3 114.2L226.7 111.1L227.1 112.6L227.5 111.8L227.9 112.0L228.3 113.8L228.7 113.9L229.1 115.0L229.5 114.0L229.9 111.7L230.3 112.6L230.7 113.7L231.1 114.4L231.5 113.4L231.9 114.4L232.3 113.4L232.7 115.2L233.1 114.7L233.5 115.2L233.9 112.8L234.3 115.5L234.7 115.6L235.1 114.4L235.5 114.4L235.9 115.6L236.3 114.4L236.7 114.8L237.1 112.3L237.5 113.7L237.9 110.4L238.3 109.8L238.7 111.6L239.1 111.4L239.5 111.6L239.9 113.5L240.3 113.1L240.7 114.7L241.1 113.6L241.5 114.7L241.9 112.9L242.3 114.1L242.7 116.5L243.1 114.2L243.5 113.0L243.9 113.4L244.3 113.7L244.7 114.3L245.1 111.6L245.5 114.1L245.9 113.7L246.3 113.1L246.7 114.0L247.1 111.1L247.5 114.6L247.9 112.9L248.3 113.1L248.7 110.8L249.1 111.3L249.5 110.5L249.9 111.2L250.3 109.4L250.7 113.2L251.1 112.5L251.5 114.5L251.9 114.0L252.3 114.1L252.7 113.9L253.1 114.0L253.5 112.6L253.9 110.3L254.3 110.2L254.7 111.2L255.1 110.0L255.5 111.9L255.9 111.5L256.3 113.4L256.7 113.4L257.1 113.6L257.5 112.9L257.9 114.0L258.3 112.4L258.7 113.4L259.1 110.6L259.5 111.8L259.9 111.3L260.3 113.4L260.7 113.1L261.1 113.1L261.5 111.7L261.9 112.0L262.3 110.9L262.7 111.1L263.1 113.2L263.5 111.2L263.9 112.9L264.3 113.7L264.7 113.5L265.1 114.2L265.5 110.9L265.9 113.2L266.3 113.9L266.7 111.4L267.1 112.5L267.5 112.6L267.9 112.4L268.3 113.7L268.7 112.1L269.1 113.0L269.5 113.2L269.9 111.5L270.3 112.7L270.7 114.1L271.1 116.5L271.5 115.7L271.9 115.9L272.3 113.7L272.7 116.6L273.1 114.1L273.5 114.1L273.9 114.6L274.3 113.8L274.7 112.8L275.1 113.2L275.5 116.0L275.9 113.8L276.3 116.4L276.7 116.8L277.1 113.3L277.5 111.9L277.9 111.6L278.3 110.5L278.7 109.6L279.1 111.6L279.5 108.3L279.9 109.8L280.3 111.0L280.7 108.7L281.1 107.9L281.5 111.2L281.9 109.3L282.3 111.5L282.7 109.6L283.1 111.4L283.5 108.7L283.9 108.6L284.3 107.9L284.7 108.2L285.1 108.1L285.5 107.6L285.9 105.3L286.3 103.8L286.7 102.6L287.1 106.7L287.5 106.3L287.9 105.9L288.3 107.1L288.7 107.0L289.1 108.1L289.5 108.3L289.9 108.4L290.3 106.7L290.7 105.4L291.1 104.7L291.5 104.9L291.9 104.7L292.3 102.0L292.7 102.7L293.1 103.1L293.5 104.8L293.9 104.1L294.3 105.4L294.7 106.3L295.1 108.2L295.5 105.1L295.9 107.2L296.3 105.1L296.7 106.2L297.1 107.5L297.5 106.0L297.9 106.0L298.3 105.1L298.7 104.8L299.1 108.3L299.5 107.2L299.9 107.8L300.3 107.1L300.7 107.1L301.1 107.2"/>
<path d="M24.3 131.7L24.7 131.1L25.1 130.7L25.5 131.2L25.9 132.2L26.3 132.0L26.7 131.9L27.1 130.6L27.5 130.0L27.9 131.6L28.3 131.5L28.7 131.4L29.1 131.7L29.5 131.7L29.9 133.2L30.3 131.3L30.7 132.1L31.1 132.5L31.5 131.8L31.9 132.4L32.3 131.4L32.7 130.5L33.1 130.4L33.5 129.4L33.9 131.1L34.3 129.5L34.7 128.7L35.1 126.3L35.5 125.2L35.9 124.3L36.3 120.9L36.7 118.7L37.1 119.3L37.5 120.3L37.9 122.9L38.3 125.1L38.7 126.5L39.1 128.7L39.5 129.4L39.9 131.3L40.3 130.3L40.7 128.5L41.1 129.3L41.5 129.0L41.9 130.7L42.3 129.9L42.7 129.4L43.1 129.9L43.5 130.3L43.9 129.2L44.3 127.4L44.7 125.8L45.1 123.4L45.5 122.7L45.9 121.6L46.3 120.3L46.7 120.8L47.1 120.5L47.5 123.1L47.9 123.6L48.3 124.8L48.7 125.9L49.1 127.5L49.5 128.8L49.9 129.3L50.3 128.8L50.7 129.5L51.1 128.9L51.5 129.8L51.9 130.8L52.3 131.2L52.7 131.3L53.1 131.5L53.5 132.1L53.9 131.6L54.3 130.2L54.7 130.7L55.1 131.4L55.5 131.9L55.9 131.9L56.3 133.0L56.7 131.4L57.1 132.9L57.5 131.5L57.9 131.5L58.3 130.6L58.7 130.7L59.1 129.5L59.5 131.6L59.9 130.7L60.3 131.1L60.7 129.8L61.1 131.0L61.5 130.3L61.9 130.7L62.3 129.9L62.7 128.9L63.1 127.9L63.5 129.4L63.9 128.0L64.3 128.9L64.7 129.3L65.1 130.1L65.5 128.8L65.9 129.3L66.3 130.2L66.7 130.3L67.1 131.3L67.5 131.2L67.9 131.5L68.3 131.6L68.7 132.3L69.1 133.0L69.5 133.1L69.9 132.7L70.3 133.6L70.7 132.2L71.1 131.0L71.5 131.0L71.9 133.1L72.3 133.0L72.7 133.2L73.1 132.5L73.5 133.2L73.9 133.3L74.3 132.2L74.7 130.9L75.1 131.3L75.5 131.6L75.9 131.0L76.3 131.0L76.7 131.1L77.1 133.3L77.5 133.2L77.9 132.3L78.3 132.5L78.7 133.1L79.1 132.9L79.5 132.5L79.9 131.3L80.3 131.2L80.7 132.0L81.1 132.5L81.5 132.2L81.9 131.3L82.3 130.5L82.7 132.0L83.1 130.6L83.5 131.6L83.9 131.8L84.3 132.0L84.7 132.3L85.1 130.0L85.5 129.6L85.9 132.1L86.3 133.0L86.7 133.2L87.1 133.4L87.5 133.1L87.9 133.0L88.3 134.2L88.7 132.0L89.1 132.8L89.5 131.5L89.9 131.3L90.3 130.5L90.7 130.9L91.1 130.7L91.5 130.1L91.9 130.2L92.3 129.5L92.7 131.1L93.1 129.6L93.5 130.0L93.9 131.4L94.3 130.9L94.7 130.3L95.1 131.4L95.5 131.1L95.9 131.3L96.3 130.3L96.7 131.3L97.1 130.8L97.5 130.3L97.9 130.0L98.3 130.8L98.7 130.8L99.1 131.8L99.5 132.2L99.9 131.8L100.3 133.4L100.7 133.1L101.1 131.6L101.5 133.3L101.9 131.7L102.3 130.7L102.7 131.3L103.1 131.6L103.5 131.4L103.9 129.9L104.3 130.5L104.7 130.6L105.1 131.4L105.5 131.1L105.9 130.8L106.3 130.9L106.7 131.1L107.1 131.4L107.5 131.5L107.9 131.7L108.3 133.8L108.7 133.7L109.1 134.1L109.5 133.6L109.9 133.5L110.3 132.2L110.7 132.3L111.1 131.7L111.5 132.4L111.9 130.4L112.3 132.5L112.7 131.6L113.1 130.4L113.5 131.2L113.9 130.6L114.3 131.1L114.7 130.8L115.1 131.1L115.5 130.9L115.9 130.5L116.3 130.2L116.7 131.1L117.1 131.4L117.5 131.7L117.9 131.0L118.3 131.5L118.7 131.8L119.1 132.2L119.5 132.4L119.9 132.8L120.3 132.2L120.7 132.8L121.1 131.7L121.5 132.1L121.9 131.7L122.3 131.4L122.7 132.0L123.1 130.3L123.5 131.0L123.9 131.2L124.3 131.6L124.7 130.5L125.1 130.3L125.5 130.7L125.9 131.1L126.3 131.3L126.7 132.1L127.1 131.9L127.5 131.2L127.9 131.1L128.3 131.9L128.7 132.0L129.1 131.8L129.5 131.8L129.9 133.1L130.3 132.0L130.7 130.8L131.1 131.6L131.5 130.0L131.9 130.4L132.3 131.1L132.7 131.3L133.1 131.6L133.5 131.7L133.9 131.8L134.3 131.8L134.7 133.1L135.1 134.1L135.5 133.1L135.9 133.9L136.3 133.6L136.7 131.8L137.1 132.7L137.5 132.4L137.9 131.7L138.3 131.3L138.7 132.0L139.1 131.7L139.5 130.8L139.9 129.5L140.3 131.8L140.7 129.2L141.1 130.8L141.5 129.2L141.9 130.3L142.3 129.8L142.7 129.5L143.1 129.0L143.5 128.6L143.9 127.6L144.3 129.1L144.7 129.6L145.1 129.3L145.5 130.8L145.9 130.6L146.3 131.5L146.7 130.8L147.1 131.8L147.5 132.4L147.9 131.0L148.3 131.1L148.7 131.9L149.1 132.1L149.5 129.4L149.9 129.7L150.3 128.5L150.7 129.1L151.1 131.4L151.5 130.0L151.9 129.9L152.3 129.9L152.7 130.9L153.1 129.3L153.5 129.7L153.9 130.3L154.3 130.3L154.7 131.3L155.1 132.4L155.5 131.1L155.9 131.5L156.3 132.5L156.7 131.8L157.1 131.5L157.5 133.1L157.9 133.6L158.3 134.3L158.7 133.4L159.1 134.4L159.5 134.5L159.9 132.1L160.3 132.9L160.7 133.6L161.1 131.2L161.5 132.2L161.9 131.1L162.3 130.2L162.7 129.4L163.1 130.4L163.5 129.8L163.9 131.6L164.3 128.8L164.7 131.0L165.1 130.5L165.5 131.5L165.9 129.9L166.3 131.0L166.7 130.3L167.1 131.6L167.5 132.2L167.9 131.4L168.3 130.7L168.7 131.0L169.1 130.8L169.5 130.1L169.9 129.5L170.3 131.1L170.7 130.2L171.1 131.5L171.5 133.9L171.9 133.2L172.3 131.5L172.7 132.0L173.1 132.7L173.5 131.4L173.9 129.9L174.3 130.0L174.7 132.3L175.1 132.6L175.5 132.8L175.9 132.5L176.3 132.4L176.7 132.2L177.1 131.5L177.5 131.7L177.9 131.6L178.3 130.4L178.7 132.3L179.1 131.5L179.5 132.0L179.9 131.2L180.3 131.9L180.7 131.5L181.1 130.6L181.5 130.6L181.9 132.3L182.3 130.9L182.7 131.1L183.1 131.0L183.5 131.2L183.9 131.0L184.3 132.2L184.7 131.6L185.1 132.5L185.5 131.2L185.9 131.5L186.3 131.8L186.7 132.5L187.1 131.8L187.5 132.8L187.9 133.1L188.3 133.1L188.7 132.4L189.1 131.9L189.5 131.0L189.9 129.6L190.3 130.2L190.7 129.4L191.1 129.9L191.5 130.9L191.9 130.5L192.3 130.4L192.7 130.6L193.1 131.1L193.5 131.2L193.9 132.5L194.3 133.4L194.7 132.5L195.1 131.4L195.5 132.4L195.9 130.7L196.3 130.3L196.7 131.3L197.1 131.2L197.5 132.0L197.9 130.5L198.3 131.6L198.7 131.4L199.1 130.8L199.5 130.4L199.9 129.2L200.3 131.0L200.7 131.2L201.1 132.7L201.5 132.5L201.9 133.5L202.3 132.7L202.7 132.0L203.1 131.7L203.5 131.1L203.9 132.2L204.3 131.8L204.7 131.5L205.1 131.2L205.5 131.1L205.9 131.3L206.3 131.1L206.7 130.6L207.1 130.3L207.5 130.7L207.9 132.3L208.3 131.4L208.7 132.5L209.1 133.2L209.5 132.4L209.9 132.0L210.3 132.0L210.7 132.5L211.1 131.2L211.5 131.9L211.9 132.8L212.3 132.1L212.7 132.2L213.1 132.4L213.5 132.1L213.9 131.3L214.3 132.5L214.7 132.3L215.1 130.5L215.5 131.4L215.9 132.1L216.3 131.7L216.7 131.7L217.1 131.1L217.5 131.5L217.9 132.8L218.3 133.9L218.7 132.8L219.1 134.0L219.5 131.8L219.9 131.9L220.3 133.2L220.7 131.8L221.1 133.6L221.5 133.7L221.9 133.6L222.3 132.9L222.7 132.3L223.1 131.3L223.5 131.7L223.9 131.4L224.3 130.7L224.7 130.6L225.1 131.7L225.5 130.7L225.9 130.5L226.3 131.3L226.7 130.6L227.1 132.5L227.5 133.1L227.9 134.0L228.3 132.7L228.7 133.4L229.1 132.3L229.5 131.9L229.9 131.7L230.3 132.0L230.7 131.5L231.1 131.9L231.5 131.6L231.9 131.8L232.3 133.3L232.7 132.2L233.1 132.8L233.5 133.8L233.9 132.7L234.3 132.4L234.7 131.7L235.1 131.3L235.5 132.5L235.9 131.9L236.3 132.3L236.7 133.0L237.1 132.3L237.5 133.0L237.9 130.8L238.3 133.8L238.7 133.5L239.1 131.6L239.5 132.6L239.9 132.2L240.3 130.7L240.7 130.9L241.1 130.4L241.5 130.2L241.9 130.5L242.3 130.9L242.7 130.0L243.1 130.1L243.5 130.1L243.9 129.8L244.3 131.0L244.7 132.2L245.1 131.5L245.5 129.8L245.9 130.6L246.3 129.6L246.7 130.6L247.1 129.0L247.5 131.4L247.9 130.1L248.3 131.9L248.7 132.4L249.1 131.4L249.5 131.9L249.9 130.5L250.3 131.4L250.7 129.6L251.1 129.6L251.5 130.0L251.9 131.5L252.3 129.8L252.7 130.1L253.1 131.8L253.5 131.1L253.9 130.2L254.3 130.1L254.7 130.4L255.1 129.1L255.5 129.3L255.9 130.7L256.3 131.3L256.7 130.8L257.1 131.1L257.5 131.9L257.9 130.0L258.3 129.8L258.7 131.0L259.1 130.1L259.5 130.2L259.9 129.1L260.3 129.1L260.7 129.4L261.1 128.0L261.5 128.1L261.9 128.7L262.3 128.3L262.7 128.4L263.1 128.6L263.5 128.9L263.9 128.8L264.3 130.3L264.7 130.1L265.1 128.4L265.5 129.2L265.9 128.4L266.3 128.4L266.7 127.4L267.1 128.0L267.5 130.5L267.9 128.6L268.3 128.9L268.7 129.9L269.1 128.2L269.5 129.8L269.9 130.0L270.3 129.7L270.7 128.8L271.1 126.8L271.5 127.7L271.9 128.0L272.3 126.7L272.7 129.0L273.1 128.8L273.5 129.0L273.9 128.4L274.3 127.7L274.7 128.1L275.1 128.4L275.5 129.4L275.9 129.5L276.3 128.9L276.7 130.6L277.1 129.6L277.5 128.6L277.9 130.1L278.3 130.1L278.7 130.2L279.1 130.1L279.5 128.8L279.9 127.6L280.3 128.4L280.7 127.1L281.1 127.1L281.5 127.6L281.9 126.9L282.3 127.0L282.7 128.6L283.1 128.1L283.5 128.7L283.9 128.4L284.3 128.6L284.7 128.3L285.1 128.8L285.5 128.5L285.9 128.6L286.3 128.4L286.7 130.7L287.1 129.7L287.5 128.4L287.9 127.9L288.3 129.2L288.7 128.6L289.1 128.1L289.5 128.8L289.9 128.0L290.3 129.6L290.7 128.4L291.1 127.6L291.5 127.4L291.9 129.6L292.3 128.3L292.7 128.5L293.1 129.1L293.5 128.3L293.9 127.9L294.3 128.1L294.7 128.7L295.1 128.5L295.5 128.0L295.9 128.6L296.3 130.0L296.7 129.6L297.1 128.3L297.5 128.1L297.9 127.3L298.3 127.3L298.7 128.3L299.1 126.9L299.5 128.1L299.9 128.4L300.3 128.9L300.7 128.7L301.1 128.2"/>
<path d="M24.3 152.1L24.7 151.5L25.1 151.8L25.5 153.2L25.9 151.2L26.3 150.8L26.7 151.9L27.1 151.3L27.5 150.8L27.9 150.2L28.3 151.7L28.7 151.5L29.1 151.4L29.5 152.2L29.9 152.4L30.3 152.0L30.7 152.4L31.1 151.1L31.5 152.0L31.9 151.0L32.3 151.2L32.7 151.7L33.1 150.5L33.5 151.4L33.9 150.7L34.3 149.9L34.7 148.0L35.1 147.5L35.5 146.0L35.9 143.8L36.3 140.0L36.7 135.9L37.1 135.6L37.5 135.5L37.9 138.8L38.3 141.1L38.7 144.5L39.1 146.5L39.5 147.3L39.9 146.7L40.3 147.9L40.7 147.9L41.1 148.0L41.5 148.0L41.9 147.4L42.3 147.9L42.7 146.1L43.1 146.9L43.5 146.7L43.9 145.5L44.3 145.4L44.7 143.5L45.1 141.0L45.5 140.0L45.9 138.5L46.3 139.2L46.7 139.7L47.1 142.5L47.5 143.9L47.9 145.5L48.3 147.1L48.7 148.6L49.1 148.1L49.5 148.7L49.9 148.9L50.3 149.3L50.7 148.4L51.1 150.8L51.5 151.4L51.9 151.6L52.3 150.8L52.7 149.6L53.1 149.8L53.5 150.4L53.9 150.1L54.3 149.7L54.7 150.5L55.1 150.2L55.5 150.6L55.9 151.5L56.3 150.6L56.7 149.7L57.1 149.3L57.5 148.9L57.9 149.5L58.3 149.9L58.7 150.1L59.1 149.6L59.5 149.6L59.9 150.8L60.3 149.6L60.7 149.1L61.1 150.0L61.5 149.2L61.9 150.8L62.3 150.8L62.7 149.6L63.1 146.8L63.5 148.1L63.9 148.2L64.3 148.1L64.7 149.6L65.1 148.2L65.5 148.6L65.9 149.9L66.3 149.5L66.7 150.2L67.1 149.7L67.5 149.5L67.9 149.3L68.3 149.7L68.7 149.3L69.1 149.7L69.5 149.4L69.9 148.4L70.3 150.6L70.7 150.4L71.1 150.5L71.5 152.6L71.9 151.3L72.3 151.2L72.7 151.1L73.1 149.8L73.5 150.3L73.9 150.3L74.3 149.8L74.7 150.4L75.1 150.9L75.5 150.8L75.9 149.7L76.3 151.0L76.7 151.8L77.1 152.6L77.5 152.0L77.9 151.7L78.3 150.7L78.7 152.0L79.1 153.4L79.5 152.2L79.9 151.9L80.3 152.0L80.7 151.9L81.1 150.8L81.5 150.6L81.9 149.6L82.3 149.7L82.7 149.5L83.1 149.0L83.5 148.8L83.9 150.7L84.3 150.1L84.7 150.7L85.1 149.6L85.5 150.6L85.9 150.7L86.3 152.3L86.7 151.7L87.1 151.2L87.5 151.7L87.9 151.5L88.3 151.6L88.7 150.4L89.1 150.0L89.5 151.3L89.9 151.5L90.3 151.4L90.7 152.0L91.1 150.7L91.5 150.3L91.9 149.6L92.3 148.7L92.7 149.1L93.1 149.5L93.5 149.9L93.9 150.8L94.3 149.9L94.7 149.2L95.1 148.1L95.5 149.4L95.9 148.7L96.3 147.5L96.7 149.1L97.1 149.1L97.5 148.9L97.9 148.6L98.3 148.4L98.7 149.1L99.1 148.6L99.5 149.0L99.9 149.4L100.3 149.8L100.7 149.7L101.1 151.3L101.5 150.2L101.9 148.7L102.3 150.4L102.7 150.1L103.1 150.3L103.5 149.4L103.9 149.3L104.3 149.2L104.7 150.3L105.1 150.8L105.5 151.0L105.9 151.1L106.3 150.1L106.7 150.5L107.1 150.9L107.5 150.7L107.9 152.0L108.3 150.2L108.7 151.9L109.1 151.6L109.5 151.4L109.9 150.6L110.3 149.8L110.7 149.4L111.1 149.1L111.5 148.4L111.9 149.7L112.3 149.9L112.7 149.1L113.1 150.1L113.5 149.9L113.9 150.1L114.3 150.0L114.7 149.8L115.1 150.7L115.5 149.7L115.9 151.6L116.3 150.1L116.7 149.9L117.1 150.3L117.5 149.7L117.9 150.2L118.3 151.1L118.7 150.9L119.1 150.9L119.5 150.7L119.9 151.3L120.3 150.6L120.7 150.8L121.1 148.7L121.5 149.5L121.9 149.5L122.3 149.2L122.7 150.1L123.1 150.1L123.5 148.7L123.9 150.7L124.3 150.0L124.7 150.6L125.1 151.0L125.5 150.7L125.9 151.0L126.3 151.1L126.7 150.0L127.1 149.9L127.5 149.9L127.9 149.1L128.3 148.9L128.7 148.8L129.1 148.7L129.5 148.9L129.9 148.4L130.3 149.6L130.7 149.7L131.1 150.5L131.5 151.1L131.9 150.0L132.3 148.5L132.7 148.6L133.1 148.4L133.5 148.4L133.9 149.7L134.3 150.3L134.7 150.0L135.1 149.4L135.5 148.8L135.9 149.3L136.3 150.3L136.7 150.6L137.1 151.1L137.5 150.4L137.9 149.0L138.3 150.7L138.7 150.1L139.1 150.0L139.5 149.5L139.9 149.2L140.3 148.7L140.7 148.6L141.1 149.4L141.5 149.3L141.9 148.8L142.3 149.2L142.7 149.8L143.1 148.9L143.5 149.5L143.9 150.0L144.3 149.3L144.7 149.6L145.1 149.3L145.5 148.8L145.9 150.2L146.3 150.8L146.7 151.2L147.1 150.8L147.5 150.2L147.9 151.0L148.3 148.8L148.7 149.7L149.1 149.2L149.5 148.7L149.9 150.1L150.3 150.6L150.7 149.8L151.1 150.2L151.5 150.7L151.9 150.3L152.3 151.0L152.7 148.6L153.1 148.1L153.5 148.6L153.9 148.2L154.3 148.4L154.7 148.7L155.1 149.1L155.5 149.9L155.9 148.9L156.3 150.0L156.7 149.2L157.1 149.3L157.5 150.6L157.9 150.4L158.3 150.4L158.7 150.1L159.1 149.1L159.5 148.9L159.9 149.8L160.3 149.4L160.7 150.1L161.1 151.3L161.5 149.6L161.9 149.5L162.3 150.2L162.7 149.6L163.1 148.3L163.5 148.2L163.9 147.8L164.3 147.9L164.7 148.5L165.1 149.0L165.5 147.9L165.9 147.8L166.3 149.0L166.7 148.7L167.1 149.4L167.5 148.9L167.9 148.6L168.3 148.9L168.7 150.7L169.1 149.0L169.5 148.6L169.9 148.1L170.3 149.6L170.7 150.2L171.1 149.2L171.5 148.7L171.9 148.0L172.3 147.7L172.7 147.3L173.1 147.7L173.5 147.9L173.9 147.8L174.3 148.4L174.7 146.9L175.1 147.0L175.5 147.0L175.9 147.7L176.3 148.3L176.7 149.4L177.1 148.3L177.5 148.2L177.9 148.5L178.3 148.0L178.7 148.3L179.1 147.0L179.5 148.3L179.9 148.3L180.3 148.5L180.7 149.3L181.1 149.2L181.5 149.9L181.9 149.8L182.3 149.4L182.7 149.2L183.1 149.0L183.5 148.6L183.9 147.4L184.3 147.7L184.7 148.1L185.1 148.0L185.5 148.3L185.9 148.0L186.3 147.6L186.7 148.1L187.1 149.0L187.5 149.4L187.9 149.8L188.3 149.7L188.7 147.5L189.1 149.6L189.5 148.5L189.9 147.3L190.3 147.7L190.7 148.1L191.1 148.2L191.5 149.2L191.9 148.4L192.3 149.4L192.7 149.1L193.1 147.3L193.5 148.2L193.9 149.3L194.3 149.0L194.7 148.5L195.1 148.2L195.5 147.7L195.9 147.4L196.3 148.0L196.7 147.5L197.1 146.8L197.5 145.9L197.9 146.9L198.3 146.4L198.7 145.0L199.1 146.7L199.5 146.1L199.9 147.0L200.3 146.9L200.7 147.6L201.1 146.5L201.5 148.2L201.9 147.7L202.3 148.9L202.7 147.8L203.1 147.3L203.5 146.4L203.9 147.8L204.3 147.6L204.7 147.2L205.1 147.3L205.5 147.6L205.9 148.0L206.3 148.3L206.7 147.6L207.1 147.7L207.5 148.4L207.9 148.4L208.3 148.8L208.7 150.1L209.1 150.4L209.5 149.7L209.9 149.3L210.3 148.8L210.7 148.4L211.1 148.4L211.5 148.7L211.9 148.4L212.3 148.7L212.7 149.3L213.1 149.4L213.5 149.9L213.9 149.8L214.3 148.9L214.7 147.8L215.1 147.4L215.5 146.9L215.9 147.9L216.3 148.5L216.7 147.9L217.1 148.2L217.5 148.5L217.9 148.3L218.3 148.5L218.7 147.8L219.1 147.7L219.5 147.6L219.9 148.3L220.3 147.8L220.7 148.6L221.1 148.5L221.5 149.4L221.9 148.8L222.3 148.0L222.7 147.6L223.1 149.0L223.5 148.1L223.9 148.5L224.3 147.6L224.7 148.3L225.1 147.8L225.5 149.2L225.9 148.2L226.3 149.2L226.7 150.4L227.1 149.8L227.5 149.5L227.9 148.5L228.3 149.8L228.7 149.7L229.1 148.0L229.5 147.7L229.9 147.1L230.3 146.9L230.7 147.6L231.1 148.2L231.5 148.5L231.9 149.1L232.3 149.0L232.7 149.1L233.1 150.0L233.5 149.1L233.9 150.0L234.3 150.6L234.7 151.1L235.1 150.0L235.5 151.0L235.9 149.3L236.3 149.4L236.7 150.4L237.1 148.7L237.5 150.0L237.9 151.3L238.3 151.1L238.7 150.6L239.1 150.2L239.5 150.2L239.9 148.7L240.3 150.1L240.7 148.7L241.1 148.5L241.5 149.7L241.9 149.8L242.3 149.7L242.7 149.6L243.1 149.0L243.5 147.6L243.9 147.2L244.3 149.0L244.7 149.4L245.1 149.6L245.5 150.9L245.9 149.8L246.3 149.6L246.7 150.1L247.1 148.8L247.5 148.4L247.9 148.7L248.3 148.3L248.7 148.8L249.1 149.3L249.5 148.4L249.9 148.9L250.3 149.3L250.7 148.6L251.1 148.7L251.5 148.8L251.9 147.4L252.3 147.8L252.7 148.8L253.1 147.3L253.5 146.8L253.9 147.5L254.3 148.1L254.7 149.2L255.1 149.2L255.5 148.8L255.9 147.9L256.3 149.0L256.7 150.2L257.1 148.1L257.5 148.9L257.9 148.8L258.3 148.6L258.7 148.2L259.1 148.4L259.5 148.8L259.9 148.7L260.3 148.8L260.7 148.2L261.1 148.0L261.5 147.6L261.9 148.7L262.3 146.6L262.7 148.4L263.1 146.6L263.5 147.4L263.9 146.8L264.3 148.8L264.7 147.6L265.1 147.5L265.5 148.7L265.9 148.5L266.3 147.6L266.7 148.1L267.1 148.8L267.5 146.6L267.9 147.1L268.3 148.0L268.7 149.2L269.1 147.6L269.5 148.4L269.9 148.7L270.3 150.0L270.7 150.1L271.1 150.0L271.5 149.1L271.9 147.7L272.3 148.0L272.7 147.7L273.1 146.2L273.5 146.1L273.9 147.8L274.3 146.5L274.7 146.2L275.1 147.8L275.5 147.7L275.9 148.0L276.3 147.0L276.7 147.6L277.1 148.0L277.5 149.0L277.9 149.0L278.3 149.2L278.7 149.0L279.1 148.5L279.5 147.5L279.9 147.9L280.3 147.7L280.7 147.8L281.1 147.6L281.5 148.4L281.9 148.8L282.3 147.3L282.7 148.4L283.1 147.0L283.5 145.9L283.9 147.3L284.3 146.1L284.7 146.8L285.1 146.8L285.5 146.2L285.9 146.9L286.3 148.7L286.7 148.3L287.1 146.7L287.5 147.5L287.9 146.8L288.3 147.4L288.7 145.9L289.1 146.0L289.5 146.8L289.9 146.8L290.3 147.6L290.7 147.8L291.1 147.5L291.5 147.0L291.9 147.2L292.3 146.8L292.7 146.2L293.1 147.7L293.5 146.4L293.9 146.6L294.3 147.3L294.7 147.6L295.1 147.1L295.5 146.5L295.9 148.0L296.3 146.1L296.7 147.4L297.1 146.1L297.5 147.2L297.9 147.8L298.3 148.0L298.7 147.6L299.1 147.9L299.5 147.5L299.9 146.7L300.3 148.2L300.7 147.8L301.1 147.9"/>
<path d="M24.3 165.0L24.7 164.9L25.1 164.2L25.5 164.1L25.9 164.9L26.3 164.6L26.7 163.9L27.1 164.5L27.5 165.1L27.9 164.7L28.3 165.2L28.7 164.4L29.1 164.8L29.5 164.5L29.9 164.6L30.3 164.4L30.7 164.2L31.1 163.6L31.5 164.8L31.9 164.3L32.3 164.4L32.7 166.0L33.1 165.6L33.5 166.7L33.9 165.5L34.3 166.8L34.7 166.9L35.1 166.7L35.5 167.6L35.9 166.8L36.3 167.4L36.7 167.4L37.1 168.1L37.5 167.4L37.9 168.1L38.3 168.1L38.7 167.2L39.1 169.4L39.5 168.2L39.9 168.3L40.3 168.5L40.7 168.0L41.1 167.7L41.5 166.7L41.9 167.1L42.3 166.7L42.7 166.3L43.1 165.7L43.5 166.1L43.9 166.5L44.3 167.0L44.7 167.4L45.1 167.7L45.5 168.4L45.9 167.5L46.3 168.0L46.7 168.3L47.1 167.5L47.5 166.6L47.9 166.4L48.3 166.1L48.7 165.9L49.1 166.3L49.5 165.5L49.9 163.8L50.3 163.2L50.7 162.9L51.1 160.8L51.5 160.8L51.9 160.5L52.3 161.1L52.7 162.7L53.1 164.1L53.5 165.7L53.9 165.7L54.3 167.2L54.7 166.8L55.1 166.9L55.5 166.5L55.9 165.9L56.3 166.8L56.7 166.4L57.1 166.7L57.5 166.6L57.9 165.9L58.3 166.9L58.7 167.5L59.1 167.6L59.5 167.4L59.9 166.8L60.3 165.8L60.7 165.5L61.1 164.8L61.5 164.5L61.9 164.3L62.3 164.1L62.7 164.9L63.1 163.3L63.5 162.3L63.9 162.5L64.3 161.0L64.7 160.5L65.1 160.0L65.5 160.5L65.9 160.8L66.3 161.7L66.7 163.8L67.1 164.4L67.5 164.0L67.9 164.8L68.3 165.9L68.7 165.6L69.1 165.3L69.5 166.5L69.9 167.2L70.3 167.2L70.7 167.8L71.1 167.8L71.5 169.0L71.9 169.6L72.3 169.0L72.7 168.9L73.1 169.5L73.5 169.2L73.9 168.9L74.3 168.2L74.7 168.0L75.1 167.7L75.5 167.7L75.9 168.1L76.3 168.3L76.7 169.7L77.1 169.0L77.5 168.8L77.9 168.8L78.3 169.0L78.7 168.7L79.1 167.5L79.5 167.5L79.9 167.6L80.3 168.3L80.7 168.7L81.1 169.6L81.5 169.5L81.9 168.4L82.3 167.5L82.7 167.9L83.1 168.2L83.5 168.5L83.9 168.7L84.3 167.8L84.7 168.8L85.1 168.8L85.5 167.4L85.9 168.0L86.3 169.6L86.7 168.7L87.1 168.9L87.5 170.5L87.9 168.5L88.3 167.6L88.7 165.9L89.1 166.3L89.5 166.1L89.9 165.4L90.3 166.5L90.7 165.6L91.1 167.0L91.5 166.9L91.9 166.8L92.3 167.8L92.7 168.6L93.1 168.3L93.5 167.2L93.9 167.9L94.3 167.0L94.7 167.4L95.1 167.4L95.5 167.0L95.9 167.4L96.3 166.4L96.7 166.8L97.1 165.6L97.5 165.7L97.9 165.2L98.3 164.7L98.7 165.5L99.1 164.1L99.5 165.0L99.9 164.2L100.3 164.1L100.7 164.0L101.1 163.8L101.5 164.4L101.9 163.6L102.3 162.5L102.7 163.4L103.1 162.3L103.5 163.2L103.9 162.2L104.3 161.6L104.7 160.3L105.1 160.7L105.5 159.6L105.9 159.3L106.3 159.2L106.7 159.5L107.1 160.3L107.5 159.8L107.9 159.2L108.3 158.7L108.7 158.9L109.1 159.7L109.5 159.4L109.9 159.3L110.3 159.7L110.7 158.5L111.1 158.1L111.5 156.8L111.9 157.0L112.3 156.7L112.7 156.6L113.1 156.6L113.5 155.9L113.9 156.3L114.3 156.6L114.7 155.8L115.1 155.8L115.5 155.3L115.9 153.8L116.3 154.4L116.7 153.3L117.1 153.4L117.5 152.9L117.9 154.6L118.3 155.4L118.7 155.8L119.1 155.9L119.5 156.9L119.9 156.4L120.3 158.1L120.7 158.8L121.1 159.4L121.5 160.1L121.9 159.6L122.3 160.0L122.7 160.5L123.1 160.6L123.5 160.2L123.9 160.7L124.3 160.8L124.7 161.3L125.1 161.6L125.5 162.5L125.9 162.8L126.3 163.3L126.7 162.7L127.1 163.7L127.5 163.4L127.9 164.5L128.3 163.2L128.7 161.9L129.1 163.7L129.5 162.3L129.9 162.8L130.3 162.8L130.7 163.0L131.1 164.1L131.5 163.8L131.9 163.6L132.3 163.2L132.7 163.3L133.1 163.6L133.5 163.6L133.9 163.2L134.3 162.3L134.7 163.4L135.1 163.3L135.5 162.9L135.9 163.6L136.3 163.7L136.7 163.2L137.1 164.7L137.5 163.0L137.9 163.3L138.3 163.2L138.7 162.9L139.1 163.0L139.5 161.8L139.9 161.3L140.3 162.5L140.7 161.4L141.1 161.7L141.5 162.1L141.9 162.6L142.3 162.8L142.7 162.2L143.1 162.6L143.5 162.7L143.9 162.9L144.3 163.3L144.7 162.2L145.1 163.0L145.5 163.1L145.9 163.3L146.3 162.2L146.7 162.8L147.1 163.4L147.5 163.2L147.9 163.4L148.3 163.3L148.7 163.6L149.1 162.4L149.5 162.2L149.9 162.3L150.3 163.2L150.7 162.5L151.1 163.7L151.5 163.7L151.9 163.4L152.3 162.7L152.7 163.3L153.1 163.3L153.5 163.1L153.9 162.6L154.3 162.7L154.7 162.4L155.1 162.4L155.5 162.7L155.9 162.5L156.3 162.7L156.7 164.7L157.1 164.6L157.5 165.5L157.9 164.8L158.3 163.7L158.7 163.9L159.1 163.7L159.5 163.7L159.9 163.9L160.3 163.6L160.7 164.0L161.1 163.9L161.5 162.3L161.9 163.4L162.3 163.5L162.7 163.0L163.1 164.2L163.5 163.8L163.9 164.5L164.3 164.8L164.7 164.6L165.1 163.5L165.5 163.6L165.9 163.3L166.3 162.5L166.7 162.8L167.1 163.1L167.5 161.9L167.9 162.9L168.3 162.0L168.7 162.0L169.1 163.0L169.5 162.6L169.9 164.0L170.3 164.3L170.7 164.2L171.1 163.8L171.5 164.2L171.9 165.2L172.3 165.8L172.7 164.7L173.1 163.8L173.5 164.4L173.9 164.2L174.3 163.9L174.7 163.8L175.1 162.7L175.5 162.7L175.9 162.9L176.3 164.1L176.7 163.8L177.1 164.3L177.5 164.0L177.9 163.7L178.3 163.0L178.7 163.2L179.1 162.8L179.5 163.4L179.9 163.5L180.3 163.7L180.7 163.9L181.1 164.2L181.5 164.2L181.9 164.3L182.3 164.2L182.7 163.5L183.1 164.8L183.5 164.9L183.9 163.2L184.3 165.2L184.7 165.1L185.1 164.8L185.5 164.7L185.9 164.7L186.3 164.3L186.7 164.2L187.1 164.3L187.5 164.5L187.9 163.2L188.3 163.8L188.7 163.7L189.1 163.9L189.5 163.6L189.9 164.0L190.3 164.2L190.7 163.5L191.1 164.4L191.5 164.1L191.9 163.7L192.3 164.5L192.7 163.4L193.1 163.8L193.5 163.4L193.9 163.4L194.3 165.5L194.7 164.3L195.1 163.6L195.5 164.0L195.9 163.9L196.3 163.0L196.7 163.6L197.1 164.9L197.5 164.7L197.9 164.0L198.3 163.2L198.7 164.6L199.1 164.3L199.5 163.0L199.9 163.0L200.3 163.8L200.7 164.1L201.1 164.1L201.5 163.4L201.9 163.0L202.3 163.1L202.7 163.0L203.1 163.6L203.5 164.1L203.9 162.6L204.3 161.9L204.7 162.3L205.1 162.8L205.5 161.8L205.9 162.6L206.3 162.3L206.7 162.2L207.1 163.9L207.5 163.2L207.9 162.8L208.3 163.1L208.7 163.1L209.1 163.6L209.5 164.2L209.9 163.4L210.3 164.5L210.7 163.9L211.1 164.2L211.5 163.0L211.9 162.6L212.3 163.2L212.7 163.0L213.1 162.8L213.5 163.1L213.9 162.3L214.3 163.7L214.7 164.3L215.1 163.7L215.5 164.3L215.9 163.9L216.3 164.5L216.7 163.9L217.1 163.7L217.5 164.0L217.9 163.6L218.3 163.7L218.7 163.7L219.1 162.5L219.5 163.0L219.9 162.2L220.3 162.7L220.7 161.9L221.1 162.0L221.5 163.3L221.9 163.0L222.3 163.6L222.7 164.6L223.1 164.4L223.5 164.1L223.9 166.0L224.3 164.8L224.7 164.4L225.1 167.4L225.5 165.8L225.9 166.6L226.3 165.8L226.7 166.8L227.1 166.7L227.5 168.6L227.9 167.2L228.3 168.5L228.7 167.9L229.1 168.1L229.5 167.4L229.9 167.2L230.3 166.3L230.7 167.8L231.1 166.5L231.5 167.8L231.9 168.4L232.3 167.9L232.7 168.6L233.1 169.1L233.5 168.7L233.9 167.8L234.3 167.4L234.7 167.9L235.1 167.5L235.5 167.2L235.9 166.9L236.3 167.2L236.7 167.2L237.1 166.8L237.5 167.4L237.9 167.3L238.3 166.2L238.7 166.6L239.1 168.4L239.5 169.0L239.9 169.4L240.3 168.8L240.7 168.2L241.1 167.2L241.5 167.5L241.9 166.0L242.3 165.6L242.7 167.2L243.1 167.4L243.5 168.5L243.9 166.8L244.3 166.5L244.7 166.0L245.1 165.5L245.5 166.5L245.9 166.5L246.3 167.1L246.7 166.4L247.1 166.9L247.5 167.4L247.9 166.0L248.3 165.2L248.7 164.4L249.1 166.1L249.5 165.6L249.9 164.2L250.3 165.1L250.7 165.4L251.1 165.2L251.5 163.2L251.9 164.1L252.3 164.1L252.7 164.6L253.1 164.5L253.5 163.6L253.9 166.3L254.3 166.3L254.7 166.0L255.1 166.4L255.5 166.8L255.9 167.5L256.3 167.6L256.7 165.8L257.1 166.7L257.5 166.5L257.9 167.2L258.3 166.7L258.7 167.1L259.1 166.0L259.5 166.7L259.9 166.4L260.3 167.2L260.7 166.9L261.1 167.0L261.5 165.2L261.9 165.7L262.3 166.1L262.7 167.0L263.1 166.6L263.5 166.7L263.9 166.2L264.3 166.8L264.7 165.8L265.1 165.6L265.5 166.4L265.9 167.4L266.3 167.7L266.7 166.4L267.1 166.9L267.5 166.3L267.9 166.3L268.3 165.6L268.7 167.8L269.1 166.3L269.5 165.7L269.9 165.8L270.3 166.7L270.7 165.8L271.1 166.3L271.5 166.6L271.9 166.5L272.3 165.9L272.7 165.4L273.1 167.6L273.5 165.5L273.9 166.0L274.3 166.2L274.7 168.2L275.1 166.3L275.5 166.5L275.9 164.4L276.3 165.2L276.7 166.2L277.1 165.2L277.5 164.8L277.9 165.4L278.3 166.8L278.7 167.3L279.1 166.5L279.5 165.6L279.9 166.6L280.3 166.7L280.7 167.3L281.1 168.5L281.5 167.7L281.9 167.0L282.3 169.3L282.7 166.3L283.1 167.2L283.5 167.4L283.9 166.3L284.3 168.7L284.7 167.8L285.1 166.1L285.5 165.3L285.9 166.3L286.3 167.6L286.7 167.3L287.1 166.6L287.5 167.6L287.9 167.1L288.3 166.5L288.7 166.4L289.1 165.3L289.5 165.0L289.9 165.9L290.3 165.0L290.7 165.2L291.1 165.1L291.5 164.4L291.9 165.3L292.3 164.1L292.7 162.7L293.1 163.4L293.5 162.2L293.9 164.2L294.3 162.5L294.7 163.9L295.1 163.5L295.5 164.3L295.9 164.1L296.3 163.9L296.7 164.6L297.1 162.3L297.5 162.8L297.9 161.6L298.3 163.6L298.7 163.6L299.1 163.8L299.5 163.3L299.9 162.6L300.3 161.3L300.7 160.8L301.1 162.4"/>
<path d="M24.3 184.9L24.7 184.4L25.1 184.4L25.5 185.0L25.9 184.7L26.3 184.5L26.7 184.6L27.1 183.4L27.5 183.7L27.9 183.3L28.3 183.9L28.7 184.2L29.1 183.9L29.5 185.0L29.9 185.5L30.3 184.4L30.7 184.7L31.1 184.4L31.5 183.9L31.9 184.3L32.3 184.3L32.7 184.3L33.1 185.0L33.5 185.3L33.9 184.3L34.3 184.4L34.7 184.8L35.1 184.3L35.5 185.4L35.9 184.7L36.3 185.3L36.7 184.7L37.1 184.8L37.5 184.8L37.9 185.0L38.3 184.4L38.7 183.4L39.1 183.8L39.5 184.0L39.9 184.2L40.3 185.1L40.7 184.4L41.1 183.6L41.5 183.3L41.9 183.1L42.3 182.3L42.7 182.3L43.1 182.1L43.5 182.8L43.9 182.5L44.3 183.9L44.7 183.2L45.1 182.7L45.5 183.1L45.9 182.8L46.3 182.2L46.7 182.5L47.1 181.5L47.5 181.1L47.9 180.4L48.3 179.6L48.7 178.4L49.1 177.3L49.5 175.6L49.9 175.3L50.3 173.9L50.7 172.2L51.1 171.3L51.5 170.5L51.9 170.9L52.3 171.1L52.7 171.8L53.1 173.0L53.5 174.2L53.9 175.3L54.3 177.2L54.7 176.6L55.1 178.5L55.5 179.1L55.9 178.9L56.3 179.9L56.7 181.1L57.1 180.2L57.5 180.3L57.9 180.4L58.3 180.9L58.7 180.8L59.1 181.2L59.5 181.1L59.9 179.9L60.3 179.6L60.7 178.8L61.1 178.7L61.5 177.4L61.9 177.4L62.3 176.9L62.7 175.9L63.1 174.4L63.5 173.9L63.9 174.0L64.3 174.1L64.7 174.7L65.1 175.2L65.5 175.4L65.9 177.0L66.3 178.1L66.7 178.3L67.1 178.9L67.5 180.2L67.9 180.4L68.3 180.4L68.7 180.6L69.1 180.4L69.5 181.8L69.9 182.4L70.3 182.4L70.7 182.7L71.1 182.4L71.5 182.9L71.9 183.0L72.3 182.7L72.7 183.0L73.1 183.3L73.5 182.9L73.9 183.1L74.3 183.9L74.7 183.1L75.1 182.1L75.5 182.8L75.9 182.2L76.3 182.5L76.7 182.9L77.1 183.5L77.5 183.3L77.9 182.2L78.3 183.0L78.7 183.6L79.1 183.2L79.5 182.6L79.9 183.0L80.3 183.0L80.7 182.9L81.1 182.6L81.5 183.0L81.9 183.0L82.3 183.5L82.7 183.8L83.1 183.5L83.5 183.7L83.9 183.6L84.3 184.4L84.7 184.6L85.1 184.0L85.5 183.9L85.9 182.8L86.3 183.1L86.7 183.5L87.1 183.4L87.5 183.7L87.9 183.5L88.3 184.2L88.7 183.5L89.1 182.9L89.5 183.4L89.9 183.0L90.3 183.2L90.7 183.3L91.1 183.9L91.5 184.5L91.9 184.1L92.3 185.0L92.7 184.6L93.1 184.1L93.5 183.4L93.9 183.7L94.3 183.8L94.7 184.0L95.1 184.0L95.5 184.1L95.9 183.8L96.3 184.4L96.7 183.7L97.1 184.1L97.5 184.1L97.9 184.0L98.3 184.3L98.7 183.4L99.1 183.4L99.5 182.1L99.9 181.6L100.3 181.3L100.7 180.0L101.1 180.8L101.5 180.2L101.9 180.1L102.3 180.2L102.7 179.5L103.1 179.4L103.5 178.9L103.9 178.6L104.3 178.4L104.7 178.4L105.1 178.0L105.5 176.9L105.9 176.6L106.3 176.9L106.7 177.4L107.1 177.5L107.5 177.1L107.9 177.4L108.3 176.6L108.7 175.8L109.1 175.9L109.5 175.3L109.9 175.6L110.3 174.5L110.7 174.6L111.1 174.8L111.5 174.8L111.9 174.1L112.3 174.2L112.7 173.4L113.1 173.2L113.5 172.5L113.9 171.5L114.3 171.5L114.7 171.0L115.1 170.8L115.5 170.5L115.9 171.5L116.3 171.2L116.7 171.1L117.1 171.8L117.5 171.7L117.9 172.5L118.3 172.8L118.7 174.3L119.1 175.1L119.5 176.5L119.9 176.7L120.3 176.8L120.7 178.5L121.1 178.9L121.5 180.1L121.9 180.8L122.3 182.1L122.7 182.7L123.1 183.7L123.5 184.2L123.9 185.2L124.3 186.0L124.7 185.5L125.1 185.6L125.5 184.3L125.9 185.4L126.3 184.5L126.7 184.5L127.1 184.4L127.5 184.4L127.9 183.7L128.3 183.7L128.7 184.3L129.1 184.1L129.5 184.6L129.9 184.6L130.3 184.5L130.7 184.4L131.1 185.0L131.5 184.7L131.9 184.4L132.3 183.1L132.7 183.4L133.1 184.1L133.5 183.5L133.9 183.9L134.3 184.1L134.7 184.3L135.1 184.6L135.5 184.3L135.9 184.2L136.3 184.1L136.7 184.4L137.1 184.5L137.5 184.1L137.9 183.6L138.3 184.1L138.7 184.6L139.1 183.8L139.5 184.3L139.9 184.3L140.3 183.9L140.7 183.6L141.1 184.4L141.5 184.2L141.9 184.1L142.3 183.6L142.7 184.9L143.1 185.5L143.5 185.4L143.9 184.7L144.3 184.9L144.7 184.2L145.1 184.5L145.5 185.1L145.9 184.7L146.3 185.0L146.7 185.4L147.1 185.2L147.5 184.9L147.9 185.3L148.3 185.5L148.7 185.6L149.1 185.1L149.5 185.2L149.9 185.5L150.3 185.9L150.7 185.0L151.1 184.3L151.5 185.2L151.9 184.7L152.3 184.7L152.7 185.5L153.1 185.4L153.5 185.8L153.9 186.2L154.3 185.8L154.7 185.5L155.1 185.1L155.5 186.1L155.9 185.6L156.3 185.8L156.7 186.0L157.1 186.3L157.5 186.2L157.9 186.2L158.3 186.0L158.7 185.9L159.1 186.0L159.5 185.7L159.9 185.2L160.3 184.9L160.7 184.9L161.1 184.7L161.5 184.1L161.9 185.2L162.3 185.4L162.7 185.9L163.1 184.5L163.5 183.8L163.9 184.7L164.3 184.1L164.7 184.7L165.1 183.5L165.5 183.5L165.9 183.5L166.3 184.2L166.7 184.6L167.1 184.5L167.5 185.0L167.9 183.7L168.3 184.2L168.7 184.5L169.1 183.7L169.5 183.8L169.9 183.4L170.3 184.5L170.7 183.6L171.1 184.2L171.5 183.9L171.9 183.4L172.3 183.8L172.7 183.4L173.1 184.0L173.5 183.7L173.9 183.8L174.3 184.2L174.7 183.8L175.1 183.7L175.5 184.2L175.9 183.8L176.3 184.6L176.7 183.9L177.1 184.3L177.5 184.2L177.9 184.6L178.3 184.8L178.7 184.5L179.1 184.4L179.5 184.9L179.9 183.7L180.3 184.1L180.7 184.4L181.1 185.2L181.5 185.3L181.9 185.5L182.3 185.1L182.7 184.9L183.1 184.8L183.5 184.4L183.9 184.4L184.3 183.4L184.7 183.5L185.1 183.7L185.5 184.4L185.9 184.3L186.3 184.1L186.7 184.2L187.1 183.5L187.5 183.3L187.9 183.4L188.3 183.3L188.7 183.5L189.1 183.4L189.5 184.1L189.9 183.6L190.3 184.6L190.7 184.6L191.1 184.0L191.5 184.1L191.9 183.4L192.3 182.8L192.7 182.9L193.1 182.0L193.5 182.7L193.9 182.2L194.3 183.1L194.7 184.3L195.1 184.2L195.5 183.8L195.9 183.9L196.3 183.0L196.7 183.3L197.1 183.5L197.5 183.4L197.9 183.2L198.3 182.8L198.7 183.0L199.1 183.6L199.5 183.8L199.9 183.7L200.3 182.5L200.7 182.8L201.1 182.6L201.5 182.6L201.9 182.3L202.3 182.5L202.7 182.2L203.1 183.3L203.5 182.8L203.9 182.8L204.3 182.6L204.7 182.0L205.1 183.3L205.5 182.7L205.9 184.0L206.3 183.8L206.7 183.5L207.1 183.5L207.5 183.1L207.9 182.9L208.3 183.9L208.7 183.0L209.1 183.0L209.5 183.3L209.9 182.5L210.3 182.3L210.7 182.6L211.1 181.7L211.5 182.6L211.9 182.2L212.3 181.9L212.7 182.0L213.1 181.8L213.5 182.5L213.9 181.5L214.3 182.6L214.7 182.2L215.1 182.0L215.5 182.2L215.9 182.7L216.3 182.9L216.7 181.9L217.1 182.1L217.5 182.0L217.9 181.2L218.3 181.1L218.7 181.3L219.1 181.3L219.5 181.3L219.9 180.5L220.3 180.0L220.7 180.5L221.1 181.0L221.5 180.3L221.9 181.1L222.3 181.0L222.7 181.5L223.1 180.9L223.5 181.2L223.9 180.5L224.3 179.8L224.7 180.9L225.1 181.3L225.5 180.7L225.9 180.8L226.3 180.7L226.7 181.4L227.1 181.1L227.5 181.3L227.9 181.6L228.3 181.9L228.7 181.7L229.1 181.7L229.5 182.7L229.9 182.9L230.3 183.3L230.7 182.9L231.1 182.7L231.5 183.2L231.9 183.9L232.3 183.3L232.7 182.8L233.1 183.1L233.5 184.1L233.9 183.4L234.3 182.4L234.7 183.5L235.1 182.6L235.5 183.0L235.9 182.3L236.3 182.6L236.7 181.9L237.1 182.0L237.5 183.5L237.9 182.8L238.3 182.9L238.7 182.7L239.1 183.0L239.5 183.9L239.9 183.9L240.3 183.5L240.7 183.8L241.1 183.6L241.5 184.2L241.9 183.7L242.3 183.3L242.7 184.5L243.1 183.3L243.5 183.6L243.9 183.7L244.3 183.3L244.7 183.9L245.1 184.4L245.5 184.6L245.9 184.9L246.3 185.0L246.7 184.7L247.1 183.7L247.5 184.3L247.9 183.5L248.3 183.6L248.7 184.2L249.1 184.2L249.5 184.0L249.9 184.1L250.3 184.8L250.7 184.5L251.1 184.2L251.5 184.2L251.9 184.7L252.3 184.9L252.7 184.9L253.1 184.1L253.5 184.0L253.9 184.4L254.3 183.9L254.7 184.5L255.1 184.9L255.5 184.3L255.9 183.8L256.3 184.4L256.7 185.3L257.1 185.1L257.5 185.0L257.9 184.9L258.3 185.5L258.7 184.7L259.1 185.5L259.5 184.9L259.9 184.5L260.3 185.3L260.7 184.1L261.1 184.7L261.5 184.1L261.9 184.1L262.3 184.2L262.7 184.0L263.1 183.2L263.5 184.5L263.9 184.7L264.3 183.7L264.7 184.0L265.1 184.7L265.5 184.2L265.9 184.2L266.3 184.4L266.7 184.4L267.1 184.4L267.5 184.7L267.9 184.6L268.3 184.4L268.7 184.2L269.1 185.3L269.5 184.8L269.9 183.3L270.3 183.7L270.7 184.1L271.1 184.1L271.5 183.6L271.9 183.5L272.3 183.9L272.7 183.6L273.1 183.2L273.5 183.8L273.9 183.6L274.3 183.4L274.7 182.8L275.1 183.0L275.5 182.9L275.9 182.7L276.3 183.2L276.7 183.0L277.1 182.8L277.5 183.1L277.9 183.1L278.3 183.0L278.7 183.2L279.1 182.2L279.5 183.0L279.9 182.3L280.3 182.4L280.7 181.7L281.1 182.0L281.5 182.9L281.9 180.9L282.3 181.5L282.7 181.3L283.1 181.7L283.5 182.2L283.9 182.0L284.3 182.1L284.7 181.6L285.1 181.8L285.5 181.8L285.9 182.1L286.3 182.0L286.7 181.8L287.1 182.0L287.5 182.4L287.9 182.5L288.3 182.6L288.7 182.5L289.1 182.1L289.5 181.9L289.9 181.8L290.3 181.9L290.7 181.8L291.1 182.0L291.5 181.4L291.9 181.7L292.3 181.9L292.7 182.4L293.1 181.2L293.5 181.8L293.9 182.5L294.3 181.5L294.7 182.2L295.1 182.6L295.5 182.1L295.9 181.8L296.3 181.6L296.7 181.7L297.1 180.8L297.5 181.5L297.9 181.0L298.3 181.0L298.7 181.7L299.1 182.4L299.5 181.3L299.9 181.9L300.3 181.3L300.7 181.2L301.1 181.1"/>
<path d="M24.3 203.1L24.7 203.4L25.1 203.5L25.5 203.8L25.9 203.2L26.3 203.6L26.7 204.1L27.1 204.5L27.5 204.1L27.9 204.0L28.3 203.9L28.7 203.9L29.1 204.0L29.5 203.2L29.9 202.6L30.3 202.8L30.7 203.2L31.1 203.9L31.5 203.4L31.9 203.1L32.3 203.7L32.7 203.3L33.1 203.1L33.5 204.0L33.9 203.9L34.3 204.5L34.7 204.2L35.1 203.8L35.5 203.2L35.9 203.2L36.3 202.6L36.7 203.1L37.1 203.2L37.5 202.9L37.9 203.1L38.3 202.9L38.7 203.2L39.1 203.1L39.5 203.5L39.9 202.4L40.3 203.0L40.7 201.7L41.1 201.2L41.5 200.3L41.9 199.4L42.3 196.9L42.7 195.0L43.1 192.7L43.5 192.9L43.9 195.7L44.3 198.5L44.7 199.3L45.1 200.2L45.5 200.3L45.9 200.7L46.3 200.7L46.7 201.4L47.1 202.1L47.5 202.3L47.9 201.7L48.3 202.3L48.7 201.3L49.1 200.5L49.5 200.6L49.9 200.1L50.3 199.7L50.7 198.1L51.1 196.8L51.5 196.7L51.9 197.7L52.3 198.8L52.7 199.6L53.1 200.3L53.5 200.8L53.9 201.4L54.3 201.1L54.7 201.1L55.1 201.5L55.5 201.8L55.9 201.5L56.3 201.6L56.7 201.7L57.1 202.1L57.5 202.0L57.9 201.7L58.3 200.5L58.7 200.6L59.1 200.6L59.5 200.1L59.9 199.5L60.3 199.8L60.7 198.4L61.1 198.5L61.5 197.2L61.9 196.7L62.3 195.1L62.7 194.0L63.1 191.8L63.5 190.2L63.9 188.9L64.3 188.1L64.7 186.8L65.1 187.3L65.5 188.2L65.9 189.6L66.3 191.6L66.7 193.7L67.1 194.5L67.5 196.4L67.9 197.2L68.3 198.0L68.7 199.0L69.1 199.7L69.5 200.4L69.9 200.4L70.3 201.2L70.7 201.6L71.1 201.1L71.5 201.2L71.9 200.7L72.3 201.2L72.7 201.3L73.1 201.2L73.5 200.8L73.9 201.2L74.3 201.1L74.7 200.7L75.1 200.6L75.5 200.8L75.9 201.0L76.3 201.6L76.7 201.7L77.1 202.1L77.5 201.6L77.9 202.2L78.3 201.3L78.7 201.8L79.1 201.6L79.5 201.8L79.9 201.4L80.3 201.4L80.7 201.8L81.1 201.6L81.5 202.0L81.9 201.6L82.3 201.9L82.7 201.6L83.1 201.6L83.5 202.8L83.9 202.1L84.3 201.8L84.7 201.8L85.1 201.1L85.5 201.0L85.9 200.7L86.3 199.9L86.7 200.0L87.1 199.9L87.5 199.6L87.9 199.7L88.3 199.9L88.7 200.8L89.1 200.3L89.5 201.4L89.9 201.7L90.3 201.5L90.7 201.9L91.1 201.4L91.5 201.1L91.9 201.7L92.3 202.0L92.7 201.1L93.1 201.5L93.5 201.1L93.9 201.7L94.3 200.5L94.7 201.0L95.1 201.3L95.5 202.1L95.9 201.8L96.3 201.5L96.7 202.1L97.1 201.3L97.5 200.8L97.9 200.1L98.3 201.2L98.7 200.7L99.1 199.8L99.5 200.0L99.9 200.1L100.3 200.0L100.7 201.0L101.1 200.2L101.5 200.0L101.9 199.6L102.3 199.8L102.7 199.6L103.1 198.8L103.5 198.8L103.9 198.3L104.3 198.9L104.7 198.5L105.1 197.3L105.5 196.8L105.9 197.0L106.3 196.3L106.7 196.3L107.1 196.9L107.5 196.0L107.9 195.9L108.3 195.4L108.7 195.6L109.1 195.3L109.5 195.9L109.9 195.5L110.3 196.0L110.7 196.0L111.1 195.7L111.5 196.0L111.9 194.7L112.3 195.1L112.7 194.7L113.1 195.2L113.5 195.2L113.9 195.6L114.3 195.8L114.7 196.1L115.1 197.3L115.5 197.1L115.9 197.3L116.3 198.1L116.7 198.4L117.1 198.6L117.5 198.9L117.9 199.3L118.3 199.1L118.7 198.8L119.1 199.2L119.5 199.3L119.9 199.9L120.3 199.7L120.7 199.9L121.1 200.4L121.5 199.7L121.9 200.2L122.3 200.4L122.7 201.6L123.1 201.3L123.5 201.2L123.9 201.2L124.3 201.2L124.7 201.8L125.1 202.0L125.5 202.6L125.9 202.4L126.3 202.4L126.7 202.6L127.1 201.9L127.5 202.6L127.9 202.2L128.3 201.8L128.7 201.7L129.1 201.3L129.5 201.2L129.9 201.5L130.3 202.0L130.7 201.7L131.1 201.9L131.5 201.5L131.9 201.6L132.3 202.3L132.7 203.2L133.1 203.0L133.5 203.0L133.9 203.5L134.3 203.3L134.7 202.7L135.1 202.4L135.5 202.8L135.9 203.1L136.3 202.9L136.7 202.5L137.1 202.4L137.5 202.6L137.9 202.6L138.3 202.6L138.7 202.7L139.1 202.2L139.5 202.3L139.9 202.2L140.3 202.5L140.7 202.4L141.1 202.2L141.5 202.6L141.9 203.3L142.3 202.5L142.7 202.7L143.1 203.5L143.5 203.3L143.9 203.6L144.3 202.3L144.7 203.3L145.1 203.5L145.5 203.6L145.9 203.1L146.3 203.6L146.7 202.8L147.1 203.6L147.5 202.4L147.9 202.4L148.3 202.5L148.7 202.6L149.1 202.8L149.5 201.9L149.9 202.4L150.3 202.7L150.7 202.2L151.1 202.5L151.5 202.2L151.9 202.8L152.3 202.7L152.7 202.7L153.1 203.1L153.5 203.3L153.9 204.0L154.3 203.8L154.7 203.4L155.1 203.2L155.5 203.5L155.9 203.4L156.3 203.4L156.7 203.4L157.1 203.2L157.5 204.3L157.9 204.2L158.3 203.6L158.7 203.5L159.1 203.9L159.5 203.7L159.9 203.4L160.3 203.4L160.7 203.3L161.1 203.3L161.5 202.7L161.9 202.5L162.3 203.2L162.7 203.5L163.1 203.1L163.5 203.4L163.9 202.7L164.3 203.4L164.7 203.2L165.1 202.9L165.5 202.7L165.9 203.6L166.3 203.4L166.7 203.0L167.1 203.6L167.5 203.0L167.9 203.6L168.3 202.8L168.7 203.1L169.1 203.2L169.5 203.6L169.9 203.2L170.3 202.9L170.7 202.9L171.1 203.4L171.5 203.3L171.9 203.7L172.3 204.0L172.7 203.2L173.1 202.6L173.5 202.4L173.9 202.7L174.3 202.5L174.7 202.7L175.1 202.6L175.5 203.0L175.9 203.1L176.3 203.3L176.7 203.7L177.1 203.7L177.5 203.4L177.9 203.4L178.3 203.9L178.7 204.4L179.1 204.2L179.5 203.6L179.9 203.4L180.3 204.0L180.7 204.2L181.1 203.0L181.5 202.1L181.9 201.9L182.3 202.6L182.7 202.7L183.1 202.6L183.5 203.1L183.9 203.1L184.3 203.4L184.7 203.6L185.1 204.2L185.5 204.0L185.9 203.8L186.3 204.3L186.7 203.8L187.1 203.5L187.5 203.8L187.9 203.4L188.3 203.3L188.7 202.5L189.1 202.4L189.5 202.6L189.9 202.6L190.3 202.7L190.7 203.7L191.1 202.9L191.5 203.3L191.9 203.0L192.3 202.5L192.7 202.4L193.1 201.3L193.5 201.6L193.9 201.2L194.3 201.2L194.7 201.4L195.1 201.0L195.5 201.0L195.9 201.2L196.3 201.2L196.7 200.6L197.1 200.0L197.5 200.4L197.9 201.0L198.3 200.4L198.7 199.9L199.1 198.9L199.5 198.3L199.9 199.0L200.3 198.8L200.7 198.2L201.1 197.4L201.5 197.9L201.9 197.5L202.3 196.6L202.7 196.8L203.1 196.6L203.5 196.3L203.9 196.1L204.3 196.9L204.7 196.8L205.1 196.3L205.5 196.7L205.9 195.8L206.3 196.0L206.7 195.7L207.1 195.8L207.5 195.4L207.9 194.6L208.3 195.0L208.7 195.0L209.1 195.0L209.5 195.1L209.9 194.9L210.3 195.3L210.7 195.7L211.1 195.3L211.5 196.2L211.9 197.1L212.3 196.6L212.7 196.8L213.1 197.0L213.5 196.9L213.9 198.1L214.3 198.0L214.7 197.0L215.1 197.7L215.5 198.3L215.9 197.7L216.3 199.1L216.7 199.8L217.1 199.9L217.5 199.8L217.9 200.8L218.3 200.5L218.7 199.7L219.1 200.5L219.5 201.2L219.9 202.0L220.3 201.0L220.7 200.9L221.1 200.8L221.5 201.6L221.9 201.0L222.3 201.8L222.7 202.3L223.1 203.3L223.5 202.9L223.9 202.5L224.3 203.1L224.7 203.1L225.1 203.1L225.5 202.9L225.9 203.4L226.3 203.4L226.7 203.0L227.1 203.0L227.5 203.1L227.9 202.0L228.3 202.6L228.7 202.5L229.1 203.5L229.5 203.5L229.9 203.0L230.3 203.1L230.7 202.8L231.1 202.5L231.5 203.2L231.9 202.0L232.3 203.0L232.7 203.0L233.1 203.8L233.5 204.0L233.9 203.4L234.3 203.5L234.7 202.9L235.1 203.2L235.5 203.1L235.9 202.4L236.3 203.1L236.7 203.3L237.1 203.3L237.5 203.0L237.9 202.9L238.3 203.4L238.7 202.9L239.1 204.2L239.5 204.7L239.9 203.7L240.3 203.0L240.7 203.3L241.1 202.9L241.5 202.5L241.9 202.3L242.3 201.7L242.7 201.8L243.1 202.3L243.5 202.4L243.9 202.3L244.3 202.7L244.7 203.8L245.1 204.0L245.5 203.4L245.9 203.3L246.3 203.4L246.7 203.2L247.1 203.1L247.5 203.4L247.9 202.7L248.3 203.3L248.7 203.9L249.1 203.9L249.5 203.1L249.9 202.9L250.3 203.4L250.7 203.4L251.1 203.5L251.5 203.2L251.9 203.4L252.3 203.6L252.7 203.7L253.1 203.5L253.5 204.1L253.9 203.7L254.3 203.1L254.7 202.6L255.1 202.8L255.5 203.0L255.9 202.7L256.3 203.2L256.7 203.0L257.1 202.2L257.5 202.3L257.9 202.3L258.3 202.8L258.7 203.1L259.1 202.8L259.5 203.3L259.9 203.0L260.3 203.2L260.7 202.8L261.1 203.2L261.5 203.3L261.9 203.1L262.3 202.8L262.7 203.1L263.1 202.6L263.5 202.7L263.9 202.2L264.3 202.7L264.7 202.4L265.1 202.5L265.5 202.8L265.9 202.1L266.3 203.1L266.7 202.7L267.1 202.5L267.5 203.1L267.9 202.6L268.3 202.7L268.7 202.7L269.1 202.7L269.5 202.8L269.9 202.2L270.3 203.4L270.7 202.5L271.1 202.8L271.5 203.7L271.9 203.8L272.3 203.3L272.7 204.1L273.1 203.4L273.5 203.1L273.9 203.5L274.3 203.0L274.7 203.0L275.1 202.5L275.5 202.9L275.9 203.1L276.3 202.7L276.7 203.1L277.1 202.8L277.5 203.2L277.9 202.3L278.3 202.3L278.7 202.6L279.1 202.6L279.5 202.1L279.9 202.9L280.3 202.4L280.7 203.1L281.1 203.0L281.5 203.0L281.9 203.1L282.3 202.4L282.7 202.0L283.1 203.5L283.5 202.7L283.9 203.3L284.3 203.2L284.7 202.7L285.1 202.3L285.5 202.2L285.9 202.5L286.3 202.1L286.7 202.2L287.1 202.0L287.5 201.8L287.9 201.9L288.3 202.2L288.7 201.9L289.1 202.0L289.5 201.8L289.9 202.1L290.3 202.4L290.7 202.6L291.1 202.0L291.5 201.4L291.9 201.7L292.3 201.3L292.7 201.4L293.1 202.2L293.5 201.9L293.9 201.7L294.3 201.3L294.7 201.9L295.1 201.4L295.5 201.9L295.9 201.9L296.3 201.6L296.7 201.6L297.1 201.0L297.5 201.0L297.9 201.3L298.3 202.2L298.7 202.0L299.1 202.0L299.5 201.9L299.9 202.0L300.3 202.4L300.7 202.3L301.1 201.9"/>
<path d="M24.3 221.2L24.7 221.7L25.1 221.1L25.5 221.0L25.9 220.6L26.3 219.5L26.7 220.4L27.1 220.8L27.5 220.8L27.9 221.2L28.3 220.7L28.7 220.8L29.1 220.8L29.5 220.7L29.9 221.6L30.3 220.7L30.7 220.1L31.1 220.1L31.5 219.0L31.9 218.9L32.3 220.3L32.7 220.1L33.1 220.9L33.5 220.8L33.9 220.5L34.3 220.5L34.7 220.5L35.1 220.4L35.5 220.2L35.9 219.9L36.3 219.5L36.7 219.4L37.1 219.6L37.5 219.8L37.9 220.3L38.3 219.9L38.7 219.3L39.1 219.9L39.5 218.5L39.9 219.9L40.3 218.9L40.7 218.5L41.1 218.2L41.5 217.1L41.9 217.3L42.3 215.6L42.7 213.9L43.1 212.2L43.5 211.1L43.9 212.8L44.3 214.7L44.7 215.5L45.1 217.9L45.5 217.8L45.9 217.4L46.3 218.4L46.7 218.1L47.1 218.9L47.5 218.2L47.9 219.2L48.3 218.6L48.7 219.2L49.1 218.8L49.5 218.0L49.9 216.7L50.3 215.4L50.7 213.3L51.1 212.5L51.5 214.1L51.9 215.4L52.3 216.7L52.7 217.0L53.1 217.4L53.5 217.4L53.9 217.8L54.3 218.4L54.7 218.5L55.1 219.2L55.5 219.0L55.9 218.7L56.3 218.3L56.7 217.5L57.1 217.7L57.5 217.6L57.9 217.5L58.3 217.0L58.7 217.2L59.1 217.4L59.5 217.1L59.9 216.2L60.3 216.4L60.7 215.7L61.1 214.6L61.5 214.1L61.9 212.4L62.3 211.5L62.7 210.3L63.1 208.4L63.5 206.7L63.9 204.6L64.3 204.2L64.7 204.1L65.1 204.6L65.5 205.3L65.9 208.2L66.3 209.9L66.7 212.0L67.1 213.1L67.5 213.8L67.9 214.9L68.3 214.9L68.7 216.0L69.1 216.5L69.5 216.4L69.9 217.6L70.3 218.0L70.7 218.9L71.1 219.1L71.5 218.5L71.9 218.3L72.3 217.9L72.7 219.3L73.1 219.5L73.5 219.3L73.9 219.0L74.3 219.0L74.7 218.6L75.1 218.2L75.5 218.5L75.9 218.8L76.3 218.8L76.7 218.3L77.1 218.1L77.5 217.8L77.9 218.2L78.3 218.6L78.7 219.1L79.1 219.2L79.5 219.2L79.9 219.5L80.3 220.3L80.7 219.9L81.1 219.9L81.5 220.1L81.9 219.9L82.3 219.3L82.7 220.2L83.1 219.2L83.5 218.9L83.9 219.5L84.3 220.2L84.7 218.6L85.1 219.7L85.5 220.0L85.9 219.6L86.3 219.5L86.7 219.7L87.1 219.5L87.5 220.0L87.9 219.1L88.3 219.1L88.7 219.4L89.1 219.4L89.5 219.6L89.9 219.3L90.3 219.2L90.7 219.1L91.1 219.8L91.5 219.3L91.9 220.2L92.3 219.8L92.7 219.9L93.1 218.8L93.5 218.7L93.9 219.3L94.3 218.8L94.7 218.7L95.1 219.3L95.5 218.1L95.9 218.0L96.3 218.0L96.7 218.0L97.1 216.8L97.5 217.9L97.9 218.8L98.3 218.0L98.7 217.8L99.1 217.5L99.5 217.7L99.9 217.8L100.3 218.4L100.7 219.1L101.1 218.1L101.5 218.3L101.9 218.7L102.3 217.9L102.7 218.5L103.1 217.6L103.5 217.2L103.9 217.5L104.3 217.0L104.7 217.4L105.1 216.8L105.5 216.7L105.9 216.3L106.3 216.2L106.7 215.2L107.1 214.5L107.5 214.2L107.9 213.7L108.3 212.7L108.7 212.5L109.1 212.1L109.5 211.8L109.9 211.7L110.3 211.5L110.7 212.2L111.1 212.1L111.5 213.0L111.9 212.1L112.3 211.9L112.7 211.9L113.1 211.9L113.5 211.6L113.9 213.0L114.3 213.3L114.7 213.1L115.1 214.0L115.5 214.0L115.9 214.3L116.3 214.4L116.7 215.3L117.1 215.8L117.5 215.4L117.9 216.7L118.3 217.8L118.7 217.3L119.1 216.7L119.5 217.2L119.9 217.5L120.3 217.4L120.7 217.6L121.1 218.2L121.5 217.5L121.9 218.0L122.3 217.4L122.7 217.1L123.1 217.1L123.5 217.6L123.9 217.8L124.3 217.3L124.7 218.1L125.1 218.0L125.5 219.0L125.9 218.6L126.3 218.4L126.7 217.9L127.1 218.9L127.5 219.3L127.9 218.7L128.3 219.1L128.7 220.2L129.1 220.0L129.5 219.3L129.9 219.4L130.3 219.8L130.7 219.0L131.1 219.5L131.5 219.8L131.9 219.1L132.3 219.3L132.7 219.1L133.1 219.7L133.5 220.1L133.9 219.7L134.3 220.7L134.7 219.5L135.1 219.7L135.5 219.6L135.9 219.9L136.3 219.9L136.7 219.8L137.1 219.6L137.5 219.6L137.9 218.5L138.3 218.9L138.7 219.5L139.1 219.6L139.5 219.7L139.9 219.4L140.3 219.6L140.7 219.9L141.1 220.3L141.5 220.6L141.9 220.4L142.3 219.9L142.7 220.3L143.1 220.3L143.5 220.4L143.9 219.9L144.3 219.3L144.7 219.0L145.1 219.6L145.5 218.7L145.9 219.0L146.3 219.8L146.7 218.7L147.1 219.5L147.5 218.5L147.9 218.7L148.3 218.7L148.7 218.3L149.1 218.5L149.5 218.8L149.9 218.9L150.3 219.0L150.7 219.2L151.1 219.5L151.5 219.3L151.9 219.8L152.3 219.8L152.7 218.7L153.1 219.2L153.5 219.1L153.9 219.3L154.3 219.4L154.7 219.2L155.1 218.5L155.5 219.1L155.9 218.8L156.3 218.4L156.7 218.3L157.1 218.4L157.5 218.0L157.9 217.9L158.3 217.4L158.7 217.5L159.1 218.2L159.5 217.6L159.9 217.4L160.3 217.8L160.7 217.7L161.1 218.0L161.5 218.3L161.9 218.6L162.3 219.0L162.7 218.6L163.1 219.0L163.5 219.3L163.9 218.8L164.3 218.7L164.7 218.3L165.1 218.1L165.5 219.0L165.9 219.4L166.3 219.0L166.7 219.3L167.1 220.3L167.5 219.4L167.9 218.7L168.3 219.7L168.7 219.7L169.1 219.4L169.5 219.8L169.9 220.0L170.3 219.8L170.7 220.5L171.1 220.5L171.5 220.2L171.9 219.1L172.3 218.8L172.7 219.4L173.1 218.7L173.5 219.6L173.9 219.4L174.3 219.7L174.7 219.7L175.1 219.7L175.5 218.9L175.9 218.9L176.3 219.7L176.7 219.6L177.1 219.3L177.5 219.5L177.9 220.0L178.3 220.3L178.7 220.0L179.1 219.8L179.5 220.5L179.9 220.7L180.3 220.1L180.7 220.3L181.1 220.1L181.5 220.5L181.9 220.0L182.3 219.2L182.7 220.3L183.1 220.7L183.5 220.2L183.9 221.0L184.3 220.3L184.7 220.3L185.1 220.3L185.5 220.3L185.9 220.4L186.3 219.7L186.7 218.7L187.1 219.6L187.5 218.9L187.9 218.7L188.3 219.2L188.7 219.0L189.1 218.9L189.5 218.5L189.9 219.3L190.3 219.1L190.7 219.7L191.1 219.3L191.5 219.5L191.9 218.3L192.3 218.1L192.7 216.6L193.1 217.5L193.5 216.8L193.9 217.2L194.3 217.2L194.7 217.5L195.1 216.5L195.5 216.6L195.9 216.9L196.3 216.5L196.7 216.6L197.1 216.2L197.5 216.2L197.9 216.6L198.3 216.2L198.7 215.5L199.1 214.5L199.5 214.5L199.9 214.6L200.3 214.6L200.7 213.9L201.1 213.8L201.5 213.6L201.9 213.2L202.3 213.1L202.7 213.4L203.1 213.4L203.5 213.4L203.9 213.1L204.3 213.7L204.7 213.1L205.1 213.6L205.5 212.8L205.9 212.3L206.3 211.9L206.7 211.5L207.1 211.6L207.5 211.9L207.9 212.6L208.3 213.3L208.7 212.8L209.1 213.8L209.5 213.5L209.9 213.4L210.3 212.6L210.7 213.2L211.1 214.0L211.5 213.9L211.9 213.9L212.3 214.3L212.7 214.6L213.1 214.1L213.5 214.8L213.9 214.7L214.3 214.8L214.7 214.7L215.1 213.6L215.5 214.2L215.9 214.7L216.3 214.5L216.7 215.0L217.1 216.3L217.5 216.4L217.9 216.9L218.3 216.6L218.7 217.6L219.1 217.2L219.5 217.4L219.9 216.9L220.3 216.4L220.7 217.5L221.1 217.7L221.5 217.7L221.9 218.5L222.3 217.5L222.7 218.0L223.1 219.0L223.5 219.3L223.9 219.7L224.3 219.5L224.7 219.8L225.1 220.4L225.5 220.1L225.9 220.6L226.3 219.3L226.7 219.4L227.1 220.1L227.5 219.6L227.9 219.0L228.3 219.4L228.7 219.0L229.1 219.5L229.5 220.2L229.9 220.2L230.3 219.6L230.7 220.5L231.1 220.4L231.5 220.6L231.9 219.7L232.3 220.2L232.7 220.2L233.1 220.8L233.5 220.5L233.9 219.8L234.3 220.0L234.7 220.1L235.1 220.1L235.5 220.2L235.9 220.2L236.3 220.6L236.7 219.8L237.1 220.5L237.5 220.9L237.9 221.5L238.3 220.2L238.7 220.5L239.1 220.3L239.5 220.8L239.9 220.9L240.3 220.7L240.7 220.6L241.1 221.6L241.5 220.3L241.9 221.0L242.3 220.2L242.7 220.1L243.1 221.1L243.5 221.5L243.9 220.7L244.3 220.9L244.7 220.4L245.1 219.9L245.5 219.7L245.9 220.6L246.3 220.6L246.7 220.6L247.1 220.6L247.5 220.5L247.9 220.4L248.3 220.3L248.7 220.5L249.1 221.0L249.5 220.4L249.9 220.6L250.3 219.9L250.7 220.3L251.1 219.9L251.5 220.2L251.9 220.3L252.3 221.6L252.7 221.6L253.1 222.1L253.5 221.5L253.9 220.5L254.3 220.8L254.7 220.7L255.1 220.8L255.5 221.2L255.9 220.7L256.3 221.0L256.7 221.0L257.1 221.0L257.5 220.6L257.9 221.0L258.3 220.2L258.7 220.7L259.1 219.8L259.5 220.1L259.9 219.7L260.3 218.6L260.7 219.4L261.1 219.3L261.5 219.3L261.9 219.6L262.3 219.9L262.7 219.6L263.1 219.7L263.5 219.8L263.9 219.5L264.3 220.0L264.7 218.5L265.1 219.4L265.5 220.0L265.9 219.5L266.3 220.0L266.7 219.5L267.1 219.8L267.5 219.7L267.9 218.8L268.3 218.9L268.7 218.7L269.1 219.1L269.5 219.9L269.9 220.3L270.3 219.7L270.7 219.6L271.1 219.0L271.5 220.1L271.9 219.9L272.3 220.3L272.7 220.0L273.1 220.4L273.5 220.3L273.9 219.6L274.3 220.0L274.7 219.6L275.1 219.4L275.5 219.3L275.9 219.3L276.3 220.4L276.7 220.5L277.1 220.2L277.5 219.6L277.9 220.5L278.3 220.3L278.7 220.2L279.1 220.3L279.5 220.0L279.9 219.9L280.3 220.2L280.7 220.2L281.1 220.6L281.5 220.3L281.9 220.3L282.3 219.3L282.7 219.6L283.1 219.4L283.5 219.6L283.9 218.9L284.3 219.2L284.7 219.8L285.1 220.1L285.5 219.9L285.9 219.7L286.3 219.8L286.7 219.5L287.1 219.5L287.5 219.1L287.9 219.2L288.3 219.7L288.7 219.2L289.1 219.6L289.5 218.8L289.9 219.0L290.3 219.4L290.7 218.2L291.1 220.3L291.5 219.0L291.9 219.8L292.3 219.2L292.7 219.4L293.1 219.6L293.5 219.7L293.9 219.4L294.3 220.4L294.7 219.7L295.1 219.3L295.5 219.5L295.9 219.7L296.3 219.0L296.7 219.2L297.1 220.0L297.5 220.1L297.9 219.6L298.3 219.7L298.7 219.3L299.1 219.1L299.5 219.0L299.9 220.0L300.3 220.2L300.7 220.1L301.1 219.9"/>
<path d="M24.3 238.2L24.7 237.9L25.1 238.4L25.5 237.8L25.9 238.1L26.3 237.9L26.7 237.7L27.1 237.9L27.5 237.4L27.9 237.3L28.3 236.4L28.7 236.8L29.1 236.9L29.5 237.1L29.9 237.2L30.3 237.0L30.7 236.4L31.1 237.9L31.5 237.8L31.9 237.4L32.3 237.5L32.7 237.9L33.1 237.5L33.5 237.6L33.9 237.2L34.3 237.3L34.7 237.4L35.1 236.9L35.5 236.7L35.9 236.7L36.3 236.8L36.7 236.2L37.1 237.1L37.5 237.3L37.9 236.9L38.3 236.7L38.7 236.0L39.1 235.3L39.5 235.8L39.9 235.9L40.3 236.0L40.7 235.5L41.1 236.6L41.5 236.3L41.9 235.8L42.3 235.5L42.7 234.4L43.1 233.2L43.5 233.7L43.9 235.0L44.3 235.1L44.7 235.7L45.1 235.5L45.5 235.7L45.9 235.5L46.3 236.0L46.7 235.4L47.1 235.0L47.5 235.6L47.9 235.4L48.3 234.6L48.7 234.8L49.1 234.3L49.5 233.1L49.9 232.4L50.3 231.4L50.7 229.8L51.1 230.4L51.5 231.4L51.9 232.7L52.3 233.1L52.7 233.6L53.1 235.3L53.5 234.7L53.9 235.2L54.3 234.3L54.7 234.7L55.1 234.1L55.5 234.7L55.9 235.3L56.3 234.5L56.7 234.2L57.1 233.6L57.5 234.0L57.9 234.4L58.3 234.7L58.7 234.3L59.1 233.8L59.5 233.3L59.9 232.9L60.3 233.9L60.7 233.5L61.1 231.5L61.5 231.0L61.9 229.3L62.3 228.9L62.7 227.6L63.1 227.3L63.5 226.9L63.9 224.1L64.3 223.7L64.7 222.9L65.1 222.4L65.5 222.3L65.9 224.1L66.3 225.2L66.7 227.2L67.1 227.8L67.5 229.1L67.9 230.6L68.3 230.9L68.7 231.9L69.1 232.5L69.5 232.6L69.9 232.3L70.3 233.3L70.7 233.4L71.1 234.6L71.5 234.5L71.9 234.3L72.3 234.7L72.7 234.6L73.1 234.5L73.5 235.2L73.9 234.2L74.3 234.1L74.7 234.5L75.1 234.5L75.5 234.1L75.9 234.3L76.3 234.0L76.7 234.3L77.1 234.4L77.5 234.4L77.9 234.6L78.3 234.6L78.7 235.7L79.1 234.8L79.5 236.0L79.9 235.9L80.3 236.3L80.7 235.9L81.1 235.5L81.5 235.2L81.9 235.3L82.3 235.5L82.7 235.3L83.1 235.4L83.5 235.2L83.9 234.2L84.3 234.4L84.7 233.5L85.1 235.1L85.5 234.5L85.9 235.0L86.3 235.5L86.7 235.0L87.1 235.4L87.5 235.9L87.9 235.7L88.3 234.6L88.7 234.3L89.1 234.3L89.5 233.5L89.9 233.3L90.3 234.3L90.7 233.7L91.1 234.3L91.5 234.6L91.9 234.4L92.3 234.6L92.7 235.0L93.1 234.4L93.5 234.6L93.9 234.1L94.3 234.9L94.7 234.3L95.1 234.5L95.5 233.8L95.9 234.3L96.3 234.4L96.7 234.2L97.1 234.9L97.5 234.0L97.9 234.5L98.3 234.2L98.7 234.8L99.1 234.4L99.5 233.5L99.9 233.2L100.3 233.4L100.7 234.0L101.1 233.7L101.5 233.6L101.9 233.6L102.3 233.1L102.7 233.4L103.1 233.7L103.5 233.4L103.9 232.9L104.3 232.6L104.7 231.4L105.1 231.5L105.5 231.0L105.9 230.6L106.3 230.2L106.7 230.3L107.1 230.1L107.5 229.6L107.9 229.7L108.3 229.6L108.7 229.0L109.1 229.0L109.5 228.4L109.9 228.9L110.3 228.5L110.7 228.2L111.1 227.6L111.5 228.2L111.9 227.7L112.3 227.4L112.7 227.1L113.1 227.2L113.5 227.5L113.9 228.2L114.3 228.6L114.7 229.0L115.1 229.3L115.5 228.9L115.9 229.8L116.3 230.2L116.7 230.5L117.1 230.7L117.5 230.5L117.9 231.8L118.3 231.9L118.7 233.1L119.1 233.2L119.5 233.2L119.9 232.6L120.3 232.0L120.7 232.7L121.1 232.2L121.5 232.4L121.9 232.6L122.3 232.6L122.7 232.8L123.1 233.4L123.5 233.9L123.9 233.7L124.3 234.3L124.7 234.5L125.1 234.8L125.5 235.5L125.9 235.1L126.3 235.3L126.7 234.5L127.1 234.7L127.5 234.1L127.9 234.5L128.3 233.8L128.7 234.2L129.1 234.7L129.5 235.7L129.9 235.8L130.3 235.4L130.7 235.5L131.1 235.7L131.5 235.3L131.9 234.7L132.3 234.3L132.7 234.0L133.1 235.0L133.5 235.1L133.9 235.3L134.3 235.3L134.7 234.5L135.1 234.9L135.5 235.0L135.9 235.6L136.3 235.4L136.7 235.7L137.1 235.3L137.5 235.3L137.9 235.0L138.3 235.0L138.7 234.7L139.1 236.6L139.5 237.1L139.9 238.2L140.3 236.1L140.7 236.6L141.1 236.2L141.5 235.5L141.9 235.8L142.3 235.1L142.7 235.8L143.1 236.2L143.5 236.5L143.9 236.5L144.3 236.1L144.7 235.6L145.1 235.6L145.5 235.1L145.9 234.9L146.3 235.2L146.7 235.2L147.1 236.1L147.5 236.4L147.9 236.2L148.3 235.5L148.7 235.6L149.1 236.0L149.5 235.2L149.9 235.8L150.3 235.8L150.7 235.2L151.1 235.6L151.5 235.3L151.9 235.7L152.3 235.1L152.7 235.3L153.1 235.1L153.5 234.6L153.9 235.6L154.3 235.0L154.7 234.4L155.1 235.0L155.5 234.9L155.9 234.8L156.3 235.4L156.7 235.6L157.1 236.3L157.5 236.4L157.9 237.2L158.3 236.7L158.7 236.6L159.1 236.3L159.5 236.1L159.9 236.3L160.3 235.8L160.7 236.2L161.1 235.8L161.5 236.2L161.9 235.8L162.3 236.0L162.7 236.2L163.1 234.8L163.5 235.7L163.9 236.1L164.3 236.3L164.7 236.4L165.1 236.1L165.5 235.7L165.9 235.9L166.3 236.6L166.7 236.7L167.1 236.6L167.5 236.7L167.9 236.7L168.3 236.0L168.7 235.0L169.1 235.5L169.5 235.4L169.9 235.8L170.3 236.2L170.7 235.9L171.1 235.6L171.5 236.3L171.9 236.0L172.3 236.1L172.7 235.7L173.1 237.1L173.5 236.3L173.9 236.7L174.3 236.5L174.7 235.9L175.1 235.2L175.5 236.1L175.9 235.6L176.3 235.8L176.7 236.1L177.1 236.5L177.5 235.9L177.9 236.3L178.3 235.8L178.7 235.7L179.1 235.9L179.5 235.8L179.9 235.4L180.3 236.0L180.7 236.6L181.1 236.6L181.5 235.8L181.9 236.2L182.3 236.8L182.7 236.5L183.1 236.5L183.5 236.1L183.9 236.3L184.3 235.8L184.7 236.3L185.1 236.7L185.5 236.7L185.9 237.0L186.3 236.6L186.7 236.7L187.1 236.7L187.5 236.6L187.9 236.0L188.3 235.9L188.7 235.9L189.1 235.6L189.5 235.8L189.9 235.9L190.3 235.1L190.7 235.1L191.1 235.6L191.5 236.3L191.9 236.1L192.3 236.6L192.7 236.1L193.1 235.4L193.5 236.1L193.9 236.5L194.3 235.9L194.7 236.2L195.1 236.6L195.5 236.3L195.9 236.7L196.3 236.1L196.7 236.2L197.1 236.0L197.5 236.1L197.9 234.2L198.3 234.0L198.7 234.8L199.1 234.4L199.5 234.5L199.9 234.6L200.3 234.5L200.7 234.4L201.1 234.2L201.5 234.6L201.9 234.7L202.3 234.1L202.7 234.1L203.1 233.7L203.5 233.3L203.9 233.1L204.3 232.6L204.7 232.9L205.1 233.6L205.5 233.5L205.9 233.5L206.3 233.1L206.7 234.1L207.1 234.0L207.5 234.1L207.9 233.6L208.3 233.6L208.7 233.0L209.1 232.5L209.5 233.5L209.9 232.9L210.3 232.9L210.7 232.9L211.1 233.3L211.5 233.8L211.9 233.3L212.3 233.5L212.7 233.8L213.1 233.0L213.5 233.0L213.9 233.0L214.3 232.7L214.7 233.1L215.1 233.5L215.5 233.7L215.9 233.2L216.3 233.5L216.7 234.2L217.1 234.3L217.5 233.7L217.9 234.8L218.3 234.3L218.7 233.0L219.1 233.3L219.5 233.8L219.9 234.3L220.3 234.2L220.7 235.3L221.1 235.3L221.5 235.1L221.9 235.1L222.3 236.2L222.7 235.7L223.1 234.9L223.5 235.5L223.9 236.3L224.3 236.5L224.7 237.0L225.1 236.7L225.5 236.7L225.9 236.8L226.3 237.8L226.7 237.4L227.1 236.8L227.5 235.8L227.9 235.8L228.3 236.1L228.7 236.1L229.1 236.1L229.5 236.0L229.9 236.8L230.3 237.4L230.7 237.8L231.1 237.4L231.5 236.3L231.9 236.0L232.3 236.7L232.7 236.2L233.1 236.7L233.5 236.9L233.9 236.7L234.3 236.4L234.7 236.5L235.1 237.0L235.5 236.8L235.9 236.0L236.3 237.2L236.7 236.6L237.1 236.0L237.5 236.5L237.9 237.5L238.3 237.0L238.7 237.0L239.1 237.6L239.5 237.3L239.9 237.6L240.3 237.2L240.7 237.2L241.1 237.1L241.5 236.8L241.9 237.3L242.3 236.5L242.7 236.6L243.1 236.3L243.5 237.3L243.9 237.0L244.3 236.6L244.7 237.0L245.1 237.5L245.5 236.6L245.9 236.5L246.3 237.6L246.7 237.5L247.1 237.2L247.5 237.5L247.9 236.7L248.3 237.2L248.7 237.9L249.1 237.3L249.5 236.9L249.9 237.1L250.3 237.1L250.7 236.6L251.1 236.8L251.5 236.2L251.9 236.2L252.3 236.4L252.7 236.3L253.1 237.5L253.5 237.2L253.9 237.6L254.3 236.8L254.7 236.9L255.1 235.8L255.5 236.3L255.9 236.6L256.3 236.6L256.7 236.3L257.1 235.7L257.5 236.6L257.9 236.3L258.3 236.5L258.7 236.3L259.1 236.3L259.5 236.2L259.9 236.8L260.3 236.1L260.7 236.3L261.1 236.0L261.5 236.0L261.9 235.9L262.3 236.1L262.7 236.4L263.1 236.2L263.5 236.3L263.9 236.7L264.3 236.6L264.7 236.5L265.1 236.4L265.5 236.3L265.9 237.1L266.3 236.5L266.7 237.7L267.1 237.0L267.5 236.8L267.9 237.3L268.3 237.3L268.7 236.2L269.1 236.3L269.5 235.8L269.9 235.8L270.3 236.5L270.7 236.6L271.1 236.1L271.5 235.9L271.9 234.7L272.3 235.4L272.7 235.0L273.1 235.4L273.5 235.8L273.9 234.8L274.3 235.7L274.7 235.6L275.1 235.1L275.5 235.6L275.9 235.9L276.3 235.6L276.7 236.3L277.1 236.0L277.5 235.7L277.9 235.6L278.3 235.8L278.7 235.6L279.1 234.7L279.5 235.4L279.9 235.9L280.3 234.8L280.7 235.9L281.1 235.1L281.5 235.3L281.9 235.7L282.3 236.2L282.7 236.5L283.1 236.0L283.5 235.5L283.9 235.7L284.3 235.8L284.7 236.2L285.1 236.3L285.5 236.3L285.9 235.8L286.3 236.4L286.7 235.7L287.1 235.4L287.5 234.9L287.9 235.0L288.3 235.6L288.7 235.2L289.1 236.4L289.5 236.6L289.9 235.8L290.3 234.5L290.7 234.3L291.1 234.6L291.5 234.7L291.9 234.8L292.3 235.1L292.7 234.7L293.1 235.4L293.5 235.4L293.9 234.8L294.3 234.3L294.7 234.5L295.1 235.6L295.5 235.2L295.9 235.1L296.3 234.7L296.7 233.9L297.1 234.9L297.5 234.8L297.9 235.1L298.3 234.4L298.7 235.7L299.1 236.2L299.5 236.1L299.9 235.6L300.3 235.8L300.7 236.6L301.1 235.8"/>
<path d="M378.5 80.7L378.9 80.6L379.3 82.0L379.7 81.8L380.1 81.5L380.5 81.2L380.9 81.8L381.3 81.4L381.7 81.2L382.1 80.7L382.5 80.3L382.9 80.6L383.3 80.8L383.7 81.7L384.1 81.4L384.5 82.0L384.9 82.5L385.3 81.4L385.7 81.8L386.1 81.6L386.5 81.8L386.9 81.0L387.3 81.0L387.7 80.2L388.1 79.9L388.5 80.6L388.9 80.8L389.3 80.2L389.7 80.2L390.1 79.2L390.5 77.2L390.9 76.3L391.3 74.1L391.7 73.5L392.1 74.4L392.5 75.3L392.9 75.7L393.3 75.5L393.7 75.0L394.1 74.8L394.5 73.8L394.9 73.5L395.3 72.1L395.7 68.4L396.1 67.8L396.5 67.3L396.9 68.2L397.3 69.1L397.7 72.3L398.1 73.2L398.5 75.0L398.9 75.9L399.3 76.3L399.7 76.3L400.1 75.7L400.5 76.0L400.9 75.8L401.3 74.6L401.7 75.6L402.1 74.5L402.5 73.4L402.9 72.6L403.3 71.5L403.7 70.7L404.1 70.3L404.5 70.7L404.9 70.9L405.3 71.9L405.7 72.9L406.1 74.6L406.5 75.0L406.9 75.7L407.3 76.6L407.7 77.4L408.1 76.7L408.5 76.9L408.9 77.1L409.3 76.0L409.7 75.4L410.1 76.0L410.5 76.3L410.9 76.1L411.3 76.2L411.7 76.2L412.1 75.8L412.5 75.4L412.9 75.6L413.3 75.2L413.7 75.7L414.1 75.1L414.5 75.1L414.9 74.3L415.3 75.4L415.7 74.4L416.1 74.6L416.5 73.3L416.9 73.0L417.3 72.2L417.7 71.5L418.1 70.1L418.5 69.8L418.9 69.5L419.3 69.2L419.7 68.9L420.1 69.2L420.5 69.7L420.9 70.7L421.3 71.8L421.7 72.7L422.1 72.9L422.5 74.1L422.9 74.6L423.3 74.7L423.7 74.4L424.1 74.2L424.5 74.5L424.9 75.3L425.3 76.6L425.7 76.2L426.1 75.2L426.5 76.3L426.9 76.7L427.3 77.0L427.7 77.7L428.1 78.0L428.5 76.9L428.9 77.3L429.3 77.5L429.7 76.8L430.1 77.7L430.5 77.7L430.9 77.9L431.3 77.4L431.7 77.3L432.1 77.4L432.5 77.7L432.9 77.9L433.3 77.7L433.7 78.8L434.1 78.1L434.5 78.0L434.9 76.6L435.3 77.6L435.7 77.2L436.1 77.5L436.5 76.6L436.9 76.4L437.3 77.1L437.7 76.6L438.1 78.4L438.5 77.3L438.9 77.8L439.3 78.2L439.7 78.2L440.1 78.2L440.5 78.1L440.9 77.9L441.3 78.3L441.7 78.1L442.1 78.0L442.5 78.7L442.9 78.2L443.3 78.3L443.7 78.4L444.1 78.5L444.5 78.2L444.9 77.6L445.3 77.8L445.7 78.1L446.1 76.4L446.5 77.2L446.9 75.7L447.3 76.3L447.7 75.7L448.1 75.9L448.5 75.8L448.9 75.7L449.3 75.0L449.7 74.9L450.1 75.1L450.5 74.4L450.9 74.1L451.3 74.4L451.7 73.4L452.1 73.4L452.5 73.1L452.9 70.9L453.3 71.2L453.7 71.2L454.1 72.3L454.5 71.4L454.9 70.4L455.3 70.3L455.7 71.3L456.1 70.4L456.5 69.5L456.9 69.4L457.3 69.0L457.7 68.3L458.1 68.7L458.5 68.0L458.9 67.2L459.3 67.5L459.7 66.2L460.1 66.4L460.5 66.6L460.9 66.9L461.3 66.4L461.7 66.7L462.1 66.2L462.5 66.4L462.9 67.5L463.3 66.1L463.7 66.8L464.1 66.2L464.5 66.6L464.9 67.0L465.3 67.4L465.7 66.3L466.1 67.4L466.5 67.4L466.9 66.7L467.3 67.3L467.7 66.1L468.1 66.6L468.5 67.0L468.9 66.6L469.3 66.6L469.7 67.7L470.1 67.9L470.5 68.4L470.9 69.1L471.3 69.1L471.7 69.2L472.1 70.5L472.5 70.0L472.9 71.2L473.3 71.0L473.7 71.5L474.1 73.2L474.5 74.4L474.9 75.6L475.3 75.4L475.7 76.2L476.1 77.0L476.5 78.1L476.9 77.3L477.3 78.6L477.7 79.5L478.1 79.5L478.5 79.0L478.9 79.3L479.3 80.0L479.7 80.2L480.1 80.0L480.5 80.2L480.9 80.5L481.3 80.5L481.7 80.1L482.1 80.3L482.5 80.7L482.9 81.2L483.3 81.3L483.7 81.6L484.1 80.8L484.5 80.4L484.9 80.4L485.3 80.2L485.7 80.0L486.1 80.5L486.5 80.9L486.9 80.5L487.3 80.5L487.7 80.9L488.1 81.1L488.5 80.8L488.9 80.5L489.3 81.0L489.7 81.3L490.1 81.7L490.5 82.3L490.9 82.5L491.3 82.6L491.7 82.4L492.1 81.8L492.5 83.1L492.9 82.9L493.3 82.6L493.7 82.7L494.1 81.8L494.5 81.6L494.9 82.2L495.3 81.7L495.7 80.1L496.1 80.0L496.5 81.6L496.9 81.3L497.3 81.2L497.7 82.0L498.1 81.7L498.5 82.0L498.9 82.6L499.3 82.4L499.7 81.6L500.1 81.8L500.5 82.2L500.9 81.0L501.3 81.8L501.7 81.8L502.1 81.3L502.5 81.2L502.9 81.8L503.3 81.6L503.7 81.8L504.1 81.6L504.5 81.7L504.9 82.1L505.3 82.8L505.7 82.3L506.1 82.7L506.5 81.9L506.9 82.6L507.3 82.5L507.7 82.3L508.1 81.9L508.5 82.5L508.9 82.0L509.3 83.0L509.7 82.1L510.1 82.3L510.5 82.7L510.9 83.1L511.3 83.0L511.7 82.4L512.1 81.9L512.5 81.8L512.9 81.1L513.3 81.2L513.7 82.1L514.1 82.5L514.5 81.8L514.9 82.0L515.3 81.7L515.7 82.0L516.1 81.2L516.5 81.9L516.9 81.5L517.3 81.0L517.7 81.7L518.1 82.4L518.5 81.8L518.9 82.9L519.3 82.0L519.7 82.3L520.1 82.6L520.5 82.3L520.9 83.1L521.3 82.9L521.7 82.5L522.1 83.7L522.5 82.6L522.9 83.4L523.3 82.0L523.7 82.2L524.1 82.1L524.5 82.8L524.9 83.3L525.3 82.6L525.7 82.6L526.1 82.1L526.5 82.6L526.9 82.2L527.3 82.3L527.7 82.3L528.1 82.5L528.5 82.0L528.9 82.4L529.3 82.1L529.7 82.2L530.1 82.3L530.5 82.2L530.9 83.4L531.3 81.9L531.7 82.9L532.1 83.2L532.5 82.7L532.9 82.3L533.3 81.7L533.7 82.3L534.1 81.5L534.5 81.6L534.9 81.4L535.3 81.8L535.7 81.5L536.1 81.0L536.5 81.1L536.9 81.3L537.3 81.6L537.7 81.5L538.1 81.7L538.5 81.1L538.9 81.5L539.3 82.5L539.7 82.5L540.1 81.7L540.5 81.6L540.9 81.8L541.3 82.3L541.7 82.6L542.1 81.4L542.5 81.3L542.9 81.0L543.3 80.5L543.7 81.2L544.1 80.5L544.5 80.5L544.9 80.4L545.3 81.2L545.7 80.7L546.1 80.3L546.5 79.7L546.9 79.7L547.3 79.2L547.7 78.3L548.1 79.8L548.5 78.6L548.9 78.5L549.3 79.1L549.7 78.4L550.1 78.2L550.5 78.4L550.9 78.0L551.3 76.6L551.7 76.4L552.1 75.6L552.5 75.0L552.9 75.6L553.3 74.8L553.7 75.0L554.1 74.5L554.5 74.7L554.9 72.0L555.3 72.4L555.7 72.7L556.1 71.7L556.5 70.6L556.9 71.1L557.3 71.0L557.7 69.9L558.1 69.8L558.5 69.6L558.9 68.1L559.3 68.4L559.7 68.7L560.1 69.1L560.5 68.1L560.9 69.2L561.3 68.8L561.7 67.5L562.1 67.8L562.5 68.3L562.9 68.1L563.3 68.9L563.7 68.5L564.1 68.2L564.5 67.4L564.9 67.8L565.3 68.0L565.7 68.2L566.1 69.0L566.5 70.1L566.9 70.3L567.3 70.4L567.7 70.5L568.1 71.2L568.5 70.9L568.9 72.3L569.3 72.2L569.7 72.7L570.1 73.4L570.5 74.1L570.9 74.3L571.3 74.9L571.7 74.5L572.1 74.5L572.5 75.5L572.9 75.0L573.3 75.7L573.7 75.9L574.1 76.4L574.5 77.4L574.9 77.0L575.3 77.4L575.7 77.4L576.1 77.2L576.5 77.3L576.9 77.6L577.3 77.6L577.7 78.1L578.1 77.2L578.5 77.9L578.9 79.0L579.3 79.0L579.7 79.1L580.1 79.0L580.5 78.9L580.9 78.8L581.3 79.0L581.7 78.5L582.1 79.7L582.5 79.7L582.9 79.6L583.3 79.9L583.7 78.6L584.1 78.3L584.5 78.6L584.9 78.4L585.3 78.8L585.7 79.2L586.1 79.9L586.5 80.4L586.9 80.8L587.3 81.4L587.7 81.5L588.1 80.8L588.5 80.2L588.9 79.6L589.3 79.8L589.7 80.1L590.1 79.7L590.5 79.6L590.9 80.8L591.3 80.5L591.7 80.9L592.1 80.1L592.5 79.6L592.9 79.8L593.3 79.7L593.7 80.4L594.1 81.0L594.5 81.2L594.9 81.1L595.3 81.5L595.7 81.2L596.1 80.4L596.5 79.4L596.9 80.3L597.3 81.4L597.7 81.0L598.1 81.2L598.5 81.0L598.9 81.4L599.3 80.6L599.7 80.8L600.1 80.5L600.5 80.9L600.9 81.2L601.3 80.1L601.7 79.8L602.1 79.9L602.5 79.9L602.9 80.2L603.3 80.0L603.7 80.8L604.1 81.1L604.5 80.5L604.9 79.4L605.3 79.9L605.7 80.7L606.1 79.7L606.5 79.8L606.9 79.9L607.3 80.9L607.7 81.4L608.1 81.1L608.5 82.6L608.9 81.6L609.3 82.2L609.7 81.8L610.1 81.7L610.5 80.6L610.9 80.5L611.3 81.6L611.7 80.3L612.1 81.4L612.5 81.2L612.9 80.2L613.3 80.8L613.7 79.9L614.1 80.1L614.5 79.7L614.9 79.9L615.3 80.0L615.7 79.8L616.1 78.8L616.5 79.5L616.9 79.7L617.3 79.0L617.7 80.1L618.1 79.6L618.5 79.8L618.9 80.4L619.3 79.8L619.7 80.7L620.1 80.2L620.5 80.2L620.9 80.6L621.3 79.2L621.7 80.3L622.1 80.0L622.5 80.6L622.9 80.0L623.3 79.2L623.7 80.0L624.1 80.3L624.5 79.9L624.9 80.0L625.3 81.1L625.7 80.5L626.1 80.4L626.5 79.3L626.9 79.2L627.3 79.3L627.7 79.1L628.1 78.9L628.5 79.0L628.9 78.3L629.3 78.9L629.7 78.9L630.1 80.8L630.5 80.0L630.9 79.9L631.3 80.0L631.7 79.8L632.1 80.1L632.5 79.9L632.9 80.3L633.3 79.8L633.7 79.7L634.1 80.4L634.5 80.7L634.9 80.7L635.3 80.6L635.7 79.9L636.1 80.0L636.5 79.4L636.9 80.0L637.3 79.4L637.7 79.1L638.1 79.5L638.5 79.5L638.9 79.2L639.3 79.8L639.7 80.1L640.1 78.8L640.5 78.7L640.9 79.5L641.3 79.2L641.7 79.1L642.1 78.9L642.5 79.7L642.9 79.7L643.3 79.0L643.7 78.5L644.1 80.1L644.5 79.7L644.9 79.1L645.3 78.8L645.7 79.0L646.1 79.3L646.5 78.7L646.9 78.9L647.3 79.7L647.7 79.7L648.1 79.8L648.5 78.9L648.9 80.2L649.3 80.3L649.7 79.9L650.1 79.4L650.5 79.9L650.9 78.6L651.3 79.3L651.7 78.5L652.1 78.5L652.5 78.5L652.9 78.1L653.3 77.6L653.7 78.9L654.1 78.1L654.5 77.8L654.9 78.2L655.3 78.7"/>
<path d="M378.5 96.3L378.9 96.9L379.3 96.4L379.7 96.6L380.1 96.9L380.5 96.6L380.9 97.5L381.3 97.7L381.7 97.9L382.1 98.7L382.5 98.3L382.9 98.3L383.3 98.6L383.7 98.4L384.1 98.7L384.5 98.6L384.9 98.6L385.3 99.0L385.7 98.7L386.1 98.9L386.5 99.6L386.9 99.0L387.3 98.9L387.7 98.4L388.1 98.6L388.5 98.4L388.9 98.2L389.3 98.5L389.7 99.1L390.1 98.5L390.5 98.7L390.9 98.8L391.3 98.0L391.7 98.9L392.1 98.2L392.5 97.7L392.9 97.6L393.3 97.3L393.7 96.4L394.1 96.2L394.5 96.0L394.9 95.2L395.3 94.4L395.7 92.8L396.1 91.3L396.5 89.8L396.9 90.1L397.3 91.5L397.7 93.1L398.1 93.7L398.5 94.2L398.9 95.0L399.3 95.8L399.7 95.6L400.1 95.8L400.5 95.9L400.9 96.5L401.3 97.1L401.7 97.0L402.1 97.2L402.5 96.7L402.9 96.7L403.3 96.9L403.7 96.9L404.1 97.0L404.5 96.9L404.9 96.0L405.3 96.5L405.7 96.2L406.1 96.5L406.5 96.9L406.9 96.8L407.3 96.6L407.7 96.2L408.1 95.8L408.5 95.7L408.9 96.2L409.3 94.8L409.7 95.4L410.1 95.3L410.5 95.2L410.9 95.2L411.3 94.8L411.7 94.4L412.1 94.2L412.5 94.7L412.9 94.1L413.3 93.6L413.7 93.4L414.1 93.5L414.5 93.4L414.9 93.2L415.3 92.8L415.7 93.2L416.1 92.6L416.5 93.0L416.9 92.2L417.3 92.7L417.7 93.0L418.1 92.8L418.5 92.7L418.9 92.5L419.3 93.2L419.7 94.1L420.1 94.7L420.5 94.4L420.9 94.8L421.3 94.9L421.7 94.9L422.1 95.2L422.5 94.8L422.9 95.8L423.3 96.2L423.7 95.8L424.1 96.3L424.5 96.2L424.9 96.0L425.3 96.7L425.7 96.5L426.1 96.2L426.5 96.6L426.9 96.4L427.3 96.9L427.7 96.9L428.1 97.0L428.5 97.0L428.9 96.5L429.3 96.8L429.7 97.2L430.1 97.2L430.5 97.6L430.9 97.3L431.3 97.6L431.7 96.9L432.1 96.3L432.5 96.3L432.9 96.4L433.3 96.0L433.7 96.1L434.1 96.6L434.5 96.2L434.9 96.6L435.3 96.7L435.7 96.5L436.1 96.6L436.5 96.3L436.9 97.3L437.3 97.1L437.7 96.0L438.1 96.2L438.5 96.5L438.9 97.5L439.3 96.6L439.7 97.2L440.1 96.6L440.5 97.2L440.9 97.5L441.3 96.9L441.7 96.8L442.1 96.3L442.5 97.0L442.9 96.7L443.3 96.2L443.7 96.1L444.1 95.5L444.5 95.0L444.9 95.7L445.3 95.1L445.7 95.2L446.1 94.5L446.5 93.9L446.9 94.3L447.3 93.7L447.7 93.2L448.1 93.4L448.5 93.3L448.9 93.3L449.3 92.7L449.7 92.6L450.1 91.6L450.5 91.1L450.9 90.9L451.3 89.7L451.7 90.1L452.1 89.9L452.5 89.8L452.9 89.6L453.3 89.2L453.7 89.0L454.1 88.3L454.5 88.2L454.9 87.7L455.3 87.4L455.7 86.9L456.1 87.0L456.5 86.7L456.9 86.7L457.3 86.6L457.7 85.7L458.1 84.3L458.5 85.3L458.9 84.7L459.3 84.4L459.7 84.0L460.1 84.1L460.5 83.8L460.9 83.9L461.3 84.0L461.7 83.3L462.1 84.0L462.5 83.9L462.9 83.3L463.3 84.0L463.7 84.0L464.1 83.2L464.5 83.9L464.9 84.0L465.3 84.4L465.7 84.1L466.1 84.0L466.5 83.8L466.9 83.8L467.3 83.8L467.7 83.7L468.1 84.1L468.5 84.1L468.9 84.2L469.3 84.0L469.7 83.9L470.1 84.7L470.5 85.1L470.9 85.2L471.3 86.5L471.7 86.8L472.1 87.7L472.5 88.6L472.9 88.8L473.3 89.7L473.7 90.3L474.1 90.9L474.5 91.9L474.9 92.4L475.3 93.4L475.7 93.6L476.1 94.4L476.5 95.0L476.9 95.0L477.3 95.2L477.7 95.6L478.1 96.3L478.5 96.5L478.9 96.0L479.3 96.6L479.7 96.7L480.1 96.7L480.5 96.9L480.9 97.1L481.3 97.0L481.7 97.9L482.1 97.4L482.5 98.6L482.9 98.7L483.3 98.2L483.7 98.2L484.1 97.8L484.5 97.2L484.9 98.1L485.3 98.4L485.7 98.3L486.1 98.8L486.5 99.0L486.9 99.6L487.3 98.9L487.7 98.7L488.1 98.3L488.5 98.3L488.9 98.9L489.3 99.2L489.7 99.1L490.1 99.8L490.5 99.5L490.9 99.4L491.3 99.9L491.7 99.8L492.1 99.5L492.5 99.4L492.9 99.3L493.3 98.8L493.7 98.8L494.1 98.4L494.5 99.3L494.9 99.7L495.3 100.2L495.7 100.0L496.1 99.8L496.5 98.4L496.9 98.6L497.3 98.9L497.7 98.9L498.1 99.4L498.5 99.2L498.9 99.5L499.3 99.6L499.7 99.6L500.1 99.5L500.5 99.6L500.9 99.1L501.3 99.4L501.7 98.6L502.1 99.1L502.5 99.1L502.9 98.8L503.3 99.1L503.7 98.6L504.1 98.6L504.5 98.5L504.9 99.0L505.3 98.8L505.7 98.6L506.1 98.9L506.5 99.0L506.9 98.4L507.3 99.3L507.7 98.9L508.1 98.4L508.5 98.9L508.9 98.7L509.3 99.4L509.7 98.8L510.1 98.8L510.5 98.5L510.9 98.5L511.3 98.9L511.7 98.4L512.1 98.4L512.5 98.6L512.9 98.6L513.3 98.5L513.7 99.0L514.1 99.1L514.5 99.2L514.9 98.7L515.3 98.5L515.7 98.2L516.1 98.2L516.5 97.9L516.9 98.5L517.3 98.7L517.7 98.3L518.1 98.4L518.5 98.7L518.9 98.6L519.3 98.8L519.7 98.6L520.1 98.5L520.5 98.8L520.9 98.0L521.3 97.7L521.7 97.1L522.1 97.7L522.5 97.7L522.9 98.5L523.3 98.4L523.7 99.1L524.1 98.6L524.5 98.7L524.9 98.4L525.3 98.6L525.7 98.8L526.1 98.7L526.5 98.8L526.9 98.7L527.3 98.9L527.7 98.6L528.1 98.6L528.5 99.1L528.9 98.8L529.3 98.9L529.7 98.7L530.1 98.4L530.5 98.0L530.9 98.7L531.3 98.2L531.7 98.1L532.1 98.3L532.5 98.2L532.9 98.1L533.3 98.4L533.7 98.4L534.1 97.9L534.5 98.4L534.9 97.9L535.3 98.3L535.7 98.2L536.1 98.5L536.5 99.1L536.9 98.7L537.3 99.0L537.7 98.6L538.1 99.0L538.5 99.9L538.9 98.9L539.3 99.3L539.7 98.9L540.1 99.0L540.5 98.9L540.9 98.2L541.3 98.1L541.7 98.0L542.1 98.1L542.5 98.0L542.9 98.0L543.3 97.8L543.7 98.0L544.1 97.4L544.5 97.4L544.9 97.6L545.3 97.5L545.7 97.6L546.1 97.4L546.5 97.6L546.9 97.1L547.3 97.5L547.7 97.4L548.1 97.8L548.5 97.2L548.9 96.5L549.3 96.7L549.7 97.0L550.1 96.5L550.5 97.0L550.9 96.1L551.3 96.1L551.7 95.6L552.1 95.2L552.5 94.4L552.9 94.4L553.3 94.6L553.7 94.4L554.1 94.5L554.5 94.9L554.9 94.4L555.3 94.9L555.7 93.2L556.1 93.0L556.5 92.9L556.9 92.8L557.3 93.0L557.7 92.5L558.1 92.6L558.5 91.8L558.9 91.9L559.3 92.2L559.7 92.4L560.1 92.2L560.5 91.3L560.9 91.4L561.3 91.0L561.7 90.7L562.1 90.7L562.5 90.4L562.9 90.3L563.3 90.8L563.7 91.0L564.1 90.6L564.5 90.8L564.9 90.7L565.3 90.7L565.7 90.7L566.1 90.7L566.5 90.9L566.9 90.8L567.3 90.7L567.7 91.7L568.1 91.0L568.5 91.2L568.9 92.0L569.3 92.3L569.7 91.7L570.1 91.8L570.5 91.6L570.9 91.6L571.3 92.0L571.7 92.5L572.1 92.2L572.5 92.2L572.9 92.3L573.3 93.1L573.7 92.8L574.1 92.6L574.5 92.4L574.9 92.8L575.3 92.9L575.7 93.5L576.1 93.3L576.5 93.2L576.9 94.2L577.3 94.0L577.7 94.7L578.1 95.2L578.5 95.1L578.9 94.6L579.3 95.2L579.7 94.6L580.1 94.6L580.5 94.9L580.9 94.6L581.3 94.9L581.7 95.9L582.1 95.1L582.5 96.1L582.9 96.0L583.3 95.8L583.7 96.1L584.1 96.4L584.5 95.7L584.9 96.0L585.3 95.9L585.7 96.3L586.1 96.6L586.5 96.5L586.9 96.2L587.3 96.7L587.7 97.2L588.1 97.0L588.5 96.7L588.9 97.1L589.3 97.4L589.7 97.3L590.1 96.9L590.5 97.7L590.9 96.9L591.3 96.7L591.7 96.4L592.1 96.5L592.5 96.7L592.9 97.3L593.3 96.9L593.7 97.2L594.1 97.0L594.5 96.6L594.9 97.2L595.3 97.0L595.7 96.8L596.1 96.5L596.5 96.6L596.9 97.0L597.3 97.3L597.7 97.7L598.1 97.7L598.5 97.9L598.9 97.8L599.3 98.2L599.7 97.9L600.1 97.6L600.5 98.0L600.9 98.0L601.3 98.0L601.7 98.0L602.1 97.5L602.5 98.1L602.9 98.3L603.3 97.9L603.7 98.3L604.1 97.7L604.5 97.6L604.9 97.9L605.3 97.0L605.7 97.1L606.1 97.3L606.5 97.6L606.9 97.6L607.3 97.8L607.7 97.2L608.1 98.2L608.5 97.8L608.9 98.2L609.3 97.9L609.7 98.1L610.1 98.2L610.5 98.5L610.9 98.6L611.3 98.8L611.7 98.3L612.1 97.8L612.5 97.6L612.9 98.6L613.3 97.9L613.7 97.7L614.1 98.0L614.5 97.5L614.9 98.1L615.3 98.7L615.7 97.7L616.1 96.8L616.5 97.1L616.9 97.6L617.3 97.7L617.7 97.7L618.1 97.8L618.5 97.9L618.9 97.5L619.3 97.6L619.7 97.5L620.1 97.4L620.5 97.3L620.9 96.9L621.3 97.5L621.7 97.6L622.1 98.0L622.5 98.5L622.9 97.6L623.3 97.9L623.7 98.0L624.1 96.6L624.5 97.6L624.9 97.5L625.3 97.3L625.7 97.5L626.1 98.0L626.5 98.4L626.9 98.0L627.3 98.1L627.7 98.0L628.1 97.9L628.5 98.1L628.9 98.1L629.3 98.1L629.7 97.7L630.1 97.9L630.5 97.2L630.9 96.9L631.3 96.7L631.7 97.0L632.1 96.6L632.5 97.0L632.9 97.0L633.3 97.7L633.7 97.1L634.1 97.4L634.5 97.4L634.9 97.2L635.3 97.6L635.7 97.4L636.1 97.3L636.5 96.9L636.9 97.2L637.3 97.3L637.7 97.2L638.1 97.3L638.5 96.9L638.9 97.1L639.3 97.3L639.7 97.0L640.1 96.4L640.5 97.4L640.9 97.2L641.3 97.1L641.7 97.2L642.1 97.3L642.5 96.8L642.9 95.9L643.3 96.2L643.7 96.7L644.1 96.9L644.5 97.4L644.9 97.5L645.3 97.5L645.7 96.6L646.1 96.6L646.5 97.0L646.9 96.6L647.3 97.3L647.7 97.6L648.1 97.4L648.5 97.3L648.9 97.3L649.3 97.1L649.7 97.2L650.1 97.1L650.5 97.0L650.9 97.2L651.3 96.8L651.7 97.6L652.1 97.5L652.5 97.1L652.9 97.7L653.3 97.1L653.7 96.9L654.1 96.9L654.5 96.8L654.9 96.2L655.3 96.0"/>
<path d="M378.5 116.8L378.9 116.6L379.3 116.2L379.7 117.0L380.1 117.0L380.5 117.0L380.9 118.0L381.3 117.8L381.7 117.4L382.1 116.3L382.5 116.4L382.9 116.4L383.3 116.3L383.7 116.7L384.1 116.9L384.5 117.0L384.9 117.0L385.3 116.4L385.7 117.0L386.1 116.7L386.5 117.1L386.9 117.5L387.3 117.2L387.7 116.4L388.1 116.3L388.5 116.6L388.9 116.7L389.3 116.2L389.7 116.3L390.1 116.1L390.5 116.1L390.9 115.6L391.3 115.6L391.7 115.1L392.1 114.7L392.5 114.4L392.9 114.8L393.3 114.9L393.7 114.6L394.1 114.1L394.5 112.3L394.9 110.6L395.3 108.0L395.7 105.4L396.1 102.2L396.5 100.3L396.9 101.5L397.3 104.9L397.7 108.1L398.1 110.4L398.5 112.2L398.9 112.8L399.3 113.8L399.7 114.3L400.1 115.2L400.5 115.2L400.9 115.6L401.3 115.7L401.7 114.8L402.1 114.3L402.5 114.4L402.9 114.7L403.3 114.6L403.7 115.4L404.1 114.8L404.5 115.1L404.9 115.1L405.3 114.5L405.7 114.5L406.1 114.7L406.5 115.8L406.9 115.4L407.3 114.9L407.7 115.3L408.1 115.6L408.5 114.6L408.9 115.6L409.3 114.8L409.7 115.1L410.1 114.6L410.5 114.7L410.9 114.4L411.3 114.1L411.7 114.6L412.1 114.9L412.5 114.5L412.9 115.0L413.3 114.2L413.7 114.0L414.1 113.7L414.5 113.1L414.9 112.1L415.3 111.8L415.7 111.2L416.1 111.4L416.5 110.9L416.9 110.5L417.3 110.7L417.7 109.8L418.1 110.1L418.5 109.7L418.9 110.3L419.3 110.4L419.7 110.1L420.1 110.6L420.5 111.3L420.9 111.4L421.3 112.1L421.7 112.7L422.1 112.4L422.5 112.1L422.9 113.0L423.3 113.5L423.7 113.6L424.1 113.8L424.5 113.8L424.9 113.6L425.3 114.0L425.7 114.0L426.1 114.2L426.5 114.1L426.9 114.3L427.3 113.6L427.7 114.2L428.1 114.6L428.5 113.4L428.9 113.7L429.3 114.4L429.7 113.9L430.1 114.0L430.5 114.0L430.9 114.0L431.3 112.9L431.7 113.6L432.1 114.2L432.5 114.8L432.9 114.5L433.3 114.6L433.7 113.6L434.1 114.4L434.5 114.5L434.9 115.3L435.3 114.9L435.7 115.1L436.1 115.3L436.5 115.7L436.9 115.2L437.3 115.7L437.7 115.3L438.1 115.4L438.5 115.4L438.9 114.6L439.3 114.0L439.7 114.5L440.1 113.9L440.5 113.8L440.9 114.9L441.3 115.1L441.7 114.0L442.1 114.1L442.5 114.9L442.9 113.7L443.3 113.9L443.7 114.3L444.1 113.2L444.5 113.7L444.9 114.3L445.3 114.2L445.7 113.8L446.1 113.9L446.5 114.4L446.9 114.3L447.3 114.4L447.7 114.4L448.1 113.5L448.5 113.7L448.9 113.2L449.3 112.7L449.7 113.1L450.1 112.9L450.5 113.3L450.9 113.1L451.3 112.6L451.7 112.5L452.1 111.1L452.5 111.1L452.9 110.3L453.3 110.2L453.7 110.1L454.1 110.2L454.5 109.7L454.9 109.8L455.3 109.5L455.7 109.2L456.1 108.7L456.5 107.9L456.9 108.6L457.3 108.2L457.7 108.3L458.1 107.8L458.5 107.8L458.9 107.9L459.3 107.7L459.7 107.8L460.1 107.9L460.5 107.6L460.9 107.5L461.3 106.5L461.7 106.5L462.1 106.9L462.5 107.3L462.9 107.5L463.3 107.2L463.7 107.5L464.1 106.2L464.5 106.5L464.9 106.0L465.3 105.6L465.7 106.0L466.1 105.9L466.5 105.6L466.9 106.0L467.3 106.0L467.7 105.9L468.1 106.5L468.5 105.8L468.9 106.9L469.3 106.9L469.7 106.8L470.1 107.3L470.5 107.6L470.9 107.9L471.3 107.5L471.7 108.5L472.1 109.3L472.5 110.4L472.9 110.7L473.3 110.9L473.7 111.8L474.1 112.3L474.5 112.2L474.9 112.3L475.3 113.4L475.7 113.9L476.1 114.4L476.5 114.2L476.9 114.6L477.3 115.4L477.7 115.1L478.1 114.4L478.5 114.7L478.9 114.0L479.3 114.4L479.7 114.5L480.1 114.8L480.5 115.4L480.9 115.4L481.3 115.4L481.7 116.3L482.1 116.9L482.5 115.8L482.9 115.8L483.3 115.7L483.7 115.2L484.1 116.1L484.5 116.2L484.9 116.3L485.3 116.9L485.7 116.7L486.1 116.2L486.5 116.7L486.9 115.8L487.3 116.1L487.7 116.0L488.1 115.8L488.5 115.4L488.9 116.0L489.3 116.2L489.7 116.0L490.1 116.2L490.5 116.8L490.9 116.0L491.3 116.7L491.7 116.0L492.1 116.3L492.5 116.5L492.9 117.0L493.3 116.9L493.7 117.7L494.1 117.1L494.5 117.0L494.9 116.7L495.3 116.3L495.7 116.2L496.1 116.1L496.5 116.6L496.9 116.7L497.3 116.4L497.7 116.7L498.1 116.2L498.5 115.9L498.9 116.0L499.3 115.8L499.7 116.3L500.1 116.1L500.5 116.3L500.9 116.7L501.3 116.4L501.7 117.0L502.1 116.7L502.5 117.3L502.9 117.3L503.3 117.0L503.7 117.4L504.1 117.0L504.5 116.3L504.9 116.2L505.3 116.9L505.7 116.4L506.1 116.3L506.5 116.6L506.9 117.1L507.3 116.4L507.7 116.8L508.1 117.1L508.5 116.5L508.9 117.2L509.3 116.9L509.7 116.8L510.1 117.0L510.5 116.9L510.9 116.9L511.3 116.7L511.7 116.8L512.1 116.7L512.5 117.0L512.9 117.1L513.3 117.2L513.7 117.6L514.1 117.4L514.5 117.3L514.9 117.2L515.3 116.8L515.7 117.3L516.1 116.6L516.5 117.4L516.9 117.1L517.3 117.4L517.7 117.6L518.1 117.2L518.5 116.7L518.9 116.7L519.3 116.9L519.7 116.7L520.1 115.9L520.5 116.5L520.9 115.9L521.3 116.3L521.7 115.9L522.1 116.1L522.5 115.3L522.9 116.1L523.3 115.7L523.7 116.8L524.1 116.2L524.5 116.4L524.9 116.5L525.3 116.3L525.7 116.9L526.1 116.9L526.5 116.8L526.9 116.0L527.3 116.6L527.7 116.1L528.1 116.1L528.5 116.2L528.9 116.2L529.3 116.7L529.7 116.1L530.1 116.4L530.5 116.8L530.9 116.8L531.3 116.7L531.7 116.9L532.1 117.4L532.5 116.8L532.9 116.9L533.3 117.2L533.7 117.1L534.1 116.6L534.5 116.6L534.9 116.6L535.3 116.0L535.7 116.5L536.1 116.0L536.5 116.1L536.9 116.7L537.3 116.9L537.7 116.7L538.1 116.3L538.5 116.5L538.9 116.7L539.3 117.2L539.7 117.5L540.1 117.2L540.5 117.5L540.9 117.1L541.3 116.6L541.7 116.3L542.1 115.5L542.5 116.0L542.9 116.2L543.3 115.5L543.7 115.2L544.1 116.0L544.5 115.5L544.9 115.6L545.3 115.2L545.7 115.6L546.1 115.6L546.5 115.9L546.9 115.5L547.3 116.3L547.7 115.1L548.1 115.8L548.5 115.5L548.9 115.0L549.3 115.5L549.7 114.7L550.1 114.9L550.5 114.5L550.9 114.3L551.3 113.9L551.7 112.7L552.1 112.6L552.5 112.7L552.9 111.9L553.3 112.9L553.7 112.7L554.1 112.8L554.5 112.5L554.9 112.7L555.3 111.9L555.7 112.2L556.1 112.1L556.5 111.2L556.9 112.0L557.3 111.4L557.7 110.7L558.1 110.3L558.5 110.3L558.9 109.9L559.3 108.5L559.7 109.1L560.1 108.6L560.5 108.2L560.9 107.3L561.3 108.0L561.7 108.2L562.1 108.2L562.5 108.3L562.9 108.1L563.3 108.5L563.7 108.1L564.1 108.4L564.5 108.3L564.9 108.0L565.3 108.2L565.7 107.1L566.1 106.7L566.5 107.4L566.9 106.8L567.3 106.7L567.7 107.5L568.1 107.6L568.5 107.0L568.9 107.4L569.3 108.0L569.7 108.5L570.1 107.9L570.5 108.8L570.9 108.8L571.3 108.7L571.7 108.5L572.1 109.2L572.5 109.3L572.9 109.5L573.3 109.2L573.7 109.5L574.1 110.2L574.5 110.5L574.9 109.6L575.3 109.7L575.7 110.2L576.1 110.6L576.5 111.2L576.9 110.1L577.3 110.6L577.7 111.0L578.1 110.9L578.5 111.5L578.9 111.8L579.3 112.5L579.7 111.9L580.1 112.1L580.5 112.6L580.9 112.7L581.3 113.2L581.7 113.0L582.1 113.7L582.5 113.4L582.9 113.3L583.3 113.2L583.7 112.8L584.1 113.4L584.5 113.2L584.9 112.9L585.3 113.5L585.7 113.5L586.1 114.3L586.5 114.3L586.9 114.1L587.3 114.6L587.7 115.1L588.1 114.6L588.5 114.5L588.9 114.9L589.3 114.1L589.7 114.4L590.1 115.1L590.5 115.1L590.9 115.5L591.3 114.6L591.7 114.4L592.1 114.2L592.5 114.9L592.9 115.8L593.3 115.3L593.7 115.8L594.1 115.1L594.5 114.9L594.9 115.9L595.3 115.4L595.7 115.6L596.1 115.9L596.5 116.0L596.9 115.8L597.3 116.0L597.7 115.6L598.1 115.2L598.5 115.7L598.9 115.3L599.3 115.7L599.7 115.2L600.1 115.4L600.5 115.4L600.9 116.1L601.3 116.1L601.7 115.9L602.1 116.2L602.5 116.4L602.9 117.0L603.3 116.2L603.7 115.9L604.1 116.4L604.5 115.5L604.9 116.1L605.3 115.9L605.7 115.0L606.1 115.1L606.5 115.8L606.9 115.8L607.3 115.8L607.7 115.4L608.1 115.9L608.5 115.7L608.9 116.5L609.3 115.7L609.7 116.0L610.1 116.1L610.5 116.1L610.9 115.8L611.3 116.1L611.7 116.1L612.1 115.7L612.5 115.5L612.9 115.5L613.3 115.7L613.7 114.8L614.1 116.2L614.5 115.4L614.9 115.3L615.3 115.1L615.7 115.4L616.1 115.8L616.5 115.5L616.9 115.2L617.3 115.8L617.7 115.1L618.1 115.4L618.5 115.0L618.9 114.7L619.3 114.1L619.7 115.3L620.1 114.8L620.5 115.6L620.9 115.7L621.3 116.5L621.7 116.3L622.1 115.5L622.5 115.7L622.9 116.2L623.3 115.8L623.7 116.2L624.1 115.8L624.5 116.3L624.9 115.3L625.3 115.7L625.7 115.4L626.1 115.2L626.5 114.9L626.9 114.7L627.3 115.6L627.7 115.7L628.1 115.2L628.5 115.6L628.9 115.8L629.3 115.8L629.7 115.2L630.1 115.0L630.5 115.0L630.9 114.7L631.3 114.2L631.7 114.8L632.1 114.6L632.5 115.1L632.9 115.3L633.3 115.4L633.7 114.9L634.1 115.0L634.5 115.3L634.9 114.0L635.3 114.4L635.7 114.0L636.1 114.5L636.5 114.6L636.9 115.1L637.3 115.5L637.7 115.2L638.1 115.8L638.5 115.0L638.9 115.4L639.3 115.3L639.7 115.2L640.1 113.9L640.5 114.9L640.9 114.7L641.3 114.1L641.7 114.3L642.1 114.2L642.5 114.3L642.9 115.1L643.3 114.4L643.7 114.4L644.1 114.9L644.5 114.9L644.9 115.4L645.3 114.8L645.7 115.1L646.1 114.8L646.5 115.2L646.9 114.9L647.3 115.1L647.7 114.8L648.1 114.9L648.5 114.7L648.9 115.6L649.3 115.2L649.7 115.2L650.1 115.5L650.5 114.9L650.9 114.8L651.3 114.7L651.7 115.4L652.1 115.0L652.5 115.1L652.9 114.4L653.3 114.1L653.7 114.6L654.1 114.1L654.5 113.5L654.9 114.2L655.3 114.0"/>
<path d="M378.5 133.2L378.9 133.7L379.3 133.9L379.7 134.1L380.1 134.1L380.5 134.0L380.9 133.6L381.3 133.3L381.7 133.3L382.1 132.4L382.5 132.6L382.9 132.1L383.3 132.9L383.7 132.5L384.1 133.0L384.5 133.1L384.9 133.5L385.3 133.4L385.7 133.2L386.1 133.8L386.5 132.9L386.9 133.0L387.3 132.8L387.7 132.7L388.1 132.3L388.5 133.0L388.9 131.9L389.3 132.5L389.7 132.4L390.1 132.2L390.5 132.8L390.9 132.4L391.3 131.1L391.7 131.6L392.1 132.0L392.5 131.8L392.9 131.6L393.3 130.9L393.7 131.2L394.1 129.0L394.5 127.9L394.9 127.1L395.3 124.7L395.7 121.6L396.1 119.1L396.5 117.2L396.9 119.0L397.3 122.2L397.7 124.5L398.1 125.8L398.5 127.5L398.9 128.6L399.3 129.5L399.7 129.9L400.1 129.6L400.5 130.0L400.9 130.3L401.3 130.4L401.7 131.0L402.1 131.0L402.5 130.8L402.9 130.9L403.3 130.7L403.7 131.0L404.1 130.7L404.5 131.6L404.9 131.4L405.3 131.3L405.7 131.4L406.1 131.6L406.5 131.4L406.9 130.9L407.3 131.8L407.7 130.8L408.1 130.2L408.5 130.4L408.9 130.4L409.3 130.7L409.7 130.2L410.1 130.3L410.5 130.1L410.9 129.9L411.3 129.8L411.7 129.9L412.1 129.7L412.5 129.7L412.9 130.4L413.3 130.0L413.7 130.3L414.1 130.4L414.5 129.9L414.9 129.5L415.3 129.2L415.7 128.7L416.1 128.5L416.5 127.8L416.9 127.5L417.3 127.2L417.7 126.9L418.1 126.8L418.5 126.8L418.9 127.4L419.3 127.3L419.7 127.5L420.1 127.9L420.5 129.0L420.9 129.5L421.3 128.8L421.7 129.8L422.1 129.7L422.5 130.8L422.9 130.9L423.3 130.9L423.7 131.3L424.1 130.7L424.5 130.8L424.9 131.4L425.3 131.5L425.7 131.7L426.1 131.3L426.5 130.6L426.9 130.5L427.3 131.2L427.7 131.2L428.1 130.9L428.5 130.6L428.9 130.7L429.3 131.2L429.7 131.0L430.1 131.1L430.5 130.9L430.9 131.3L431.3 131.3L431.7 131.3L432.1 130.8L432.5 131.5L432.9 131.2L433.3 131.2L433.7 130.8L434.1 131.9L434.5 130.7L434.9 131.2L435.3 130.4L435.7 130.8L436.1 131.4L436.5 131.4L436.9 131.4L437.3 131.5L437.7 131.7L438.1 130.9L438.5 130.8L438.9 131.6L439.3 131.9L439.7 132.2L440.1 132.5L440.5 132.4L440.9 133.0L441.3 132.0L441.7 132.3L442.1 131.3L442.5 131.7L442.9 131.1L443.3 131.3L443.7 132.2L444.1 132.2L444.5 131.2L444.9 131.4L445.3 131.6L445.7 130.8L446.1 130.5L446.5 131.1L446.9 130.6L447.3 130.6L447.7 130.1L448.1 130.6L448.5 129.9L448.9 130.2L449.3 130.1L449.7 129.5L450.1 128.9L450.5 129.6L450.9 129.9L451.3 129.5L451.7 128.8L452.1 129.0L452.5 128.1L452.9 128.0L453.3 127.2L453.7 126.9L454.1 127.0L454.5 126.4L454.9 126.1L455.3 125.3L455.7 125.9L456.1 126.1L456.5 126.0L456.9 126.3L457.3 126.1L457.7 125.9L458.1 125.0L458.5 124.4L458.9 124.5L459.3 123.8L459.7 123.8L460.1 123.6L460.5 123.7L460.9 123.5L461.3 123.6L461.7 123.2L462.1 123.8L462.5 124.5L462.9 124.4L463.3 124.1L463.7 124.0L464.1 123.6L464.5 124.1L464.9 123.1L465.3 123.4L465.7 123.1L466.1 123.4L466.5 122.6L466.9 122.5L467.3 122.6L467.7 122.9L468.1 122.7L468.5 122.3L468.9 123.0L469.3 123.3L469.7 124.0L470.1 123.8L470.5 123.4L470.9 125.1L471.3 125.2L471.7 125.9L472.1 126.2L472.5 125.8L472.9 126.8L473.3 127.6L473.7 127.1L474.1 128.2L474.5 129.2L474.9 129.8L475.3 130.5L475.7 130.8L476.1 131.4L476.5 131.4L476.9 131.6L477.3 131.8L477.7 131.9L478.1 132.1L478.5 132.8L478.9 132.3L479.3 132.1L479.7 132.3L480.1 132.7L480.5 132.3L480.9 133.0L481.3 133.2L481.7 133.4L482.1 133.0L482.5 133.4L482.9 133.3L483.3 132.8L483.7 133.0L484.1 134.2L484.5 134.1L484.9 133.4L485.3 133.4L485.7 134.1L486.1 133.9L486.5 134.6L486.9 135.0L487.3 134.3L487.7 133.9L488.1 134.4L488.5 133.9L488.9 133.5L489.3 134.1L489.7 133.4L490.1 134.3L490.5 134.1L490.9 134.8L491.3 134.5L491.7 134.3L492.1 134.4L492.5 134.5L492.9 134.2L493.3 133.7L493.7 133.6L494.1 132.8L494.5 132.8L494.9 132.4L495.3 134.0L495.7 134.0L496.1 133.8L496.5 133.7L496.9 133.9L497.3 133.7L497.7 133.7L498.1 133.7L498.5 133.9L498.9 133.3L499.3 133.2L499.7 133.4L500.1 133.3L500.5 133.7L500.9 133.7L501.3 134.4L501.7 134.9L502.1 134.2L502.5 133.0L502.9 133.0L503.3 132.6L503.7 132.8L504.1 133.3L504.5 133.4L504.9 133.8L505.3 132.9L505.7 133.2L506.1 133.2L506.5 133.0L506.9 133.3L507.3 133.7L507.7 134.2L508.1 134.1L508.5 133.6L508.9 133.9L509.3 133.8L509.7 133.1L510.1 133.6L510.5 133.6L510.9 134.1L511.3 134.2L511.7 133.9L512.1 133.6L512.5 133.9L512.9 133.4L513.3 133.7L513.7 134.1L514.1 133.9L514.5 133.5L514.9 133.9L515.3 133.9L515.7 134.0L516.1 133.7L516.5 133.5L516.9 134.0L517.3 134.1L517.7 133.8L518.1 133.1L518.5 133.2L518.9 133.4L519.3 133.1L519.7 133.3L520.1 133.3L520.5 133.4L520.9 133.9L521.3 134.2L521.7 134.1L522.1 133.1L522.5 133.9L522.9 133.5L523.3 132.2L523.7 132.5L524.1 132.4L524.5 132.5L524.9 133.2L525.3 133.3L525.7 133.0L526.1 133.3L526.5 133.1L526.9 133.0L527.3 134.0L527.7 133.8L528.1 134.2L528.5 133.5L528.9 133.7L529.3 133.6L529.7 133.2L530.1 133.1L530.5 133.0L530.9 132.6L531.3 133.2L531.7 133.5L532.1 132.8L532.5 132.8L532.9 133.6L533.3 133.2L533.7 133.7L534.1 133.2L534.5 133.9L534.9 133.5L535.3 133.0L535.7 132.6L536.1 133.0L536.5 133.5L536.9 133.8L537.3 133.4L537.7 133.2L538.1 133.3L538.5 134.0L538.9 134.4L539.3 134.2L539.7 133.9L540.1 133.4L540.5 133.6L540.9 132.6L541.3 133.1L541.7 133.8L542.1 134.1L542.5 133.4L542.9 133.2L543.3 133.2L543.7 133.2L544.1 133.4L544.5 133.2L544.9 132.9L545.3 132.6L545.7 132.9L546.1 132.0L546.5 132.5L546.9 132.4L547.3 132.5L547.7 132.1L548.1 132.1L548.5 132.0L548.9 132.2L549.3 131.3L549.7 130.8L550.1 131.0L550.5 130.8L550.9 129.7L551.3 129.8L551.7 130.4L552.1 130.2L552.5 130.4L552.9 129.5L553.3 129.9L553.7 130.1L554.1 129.9L554.5 130.3L554.9 129.2L555.3 128.9L555.7 129.1L556.1 127.5L556.5 127.6L556.9 127.3L557.3 126.8L557.7 126.7L558.1 126.7L558.5 125.8L558.9 126.4L559.3 126.3L559.7 125.9L560.1 126.0L560.5 126.4L560.9 126.0L561.3 125.6L561.7 126.0L562.1 126.1L562.5 125.2L562.9 125.0L563.3 124.9L563.7 124.7L564.1 124.7L564.5 125.2L564.9 125.2L565.3 124.8L565.7 125.0L566.1 124.6L566.5 124.9L566.9 124.1L567.3 124.2L567.7 124.5L568.1 124.2L568.5 125.4L568.9 124.9L569.3 124.8L569.7 125.4L570.1 125.2L570.5 125.2L570.9 125.9L571.3 125.6L571.7 125.6L572.1 125.4L572.5 125.6L572.9 125.8L573.3 125.9L573.7 126.0L574.1 126.2L574.5 126.9L574.9 126.5L575.3 127.8L575.7 128.2L576.1 128.5L576.5 128.2L576.9 128.4L577.3 128.2L577.7 128.7L578.1 127.9L578.5 128.3L578.9 128.1L579.3 128.7L579.7 129.4L580.1 128.7L580.5 128.8L580.9 129.0L581.3 129.3L581.7 128.6L582.1 128.9L582.5 129.1L582.9 129.9L583.3 129.2L583.7 129.5L584.1 129.6L584.5 128.9L584.9 129.5L585.3 129.6L585.7 129.9L586.1 130.3L586.5 130.3L586.9 130.3L587.3 129.7L587.7 130.5L588.1 130.6L588.5 130.5L588.9 131.1L589.3 130.9L589.7 131.3L590.1 131.1L590.5 131.7L590.9 131.7L591.3 131.5L591.7 131.4L592.1 132.1L592.5 131.3L592.9 132.0L593.3 131.6L593.7 131.7L594.1 131.9L594.5 132.2L594.9 132.0L595.3 132.8L595.7 132.6L596.1 132.5L596.5 132.5L596.9 132.2L597.3 132.8L597.7 133.0L598.1 132.7L598.5 133.1L598.9 132.7L599.3 133.2L599.7 132.9L600.1 133.0L600.5 132.6L600.9 133.1L601.3 133.3L601.7 133.1L602.1 132.8L602.5 132.9L602.9 132.6L603.3 132.8L603.7 133.2L604.1 132.8L604.5 133.4L604.9 133.0L605.3 133.0L605.7 133.3L606.1 133.6L606.5 132.9L606.9 133.1L607.3 133.4L607.7 132.9L608.1 133.3L608.5 132.3L608.9 131.9L609.3 132.9L609.7 132.5L610.1 132.9L610.5 132.6L610.9 132.9L611.3 132.6L611.7 132.2L612.1 131.9L612.5 132.4L612.9 132.8L613.3 133.9L613.7 133.6L614.1 133.6L614.5 133.6L614.9 133.5L615.3 132.9L615.7 133.3L616.1 132.4L616.5 133.4L616.9 133.3L617.3 132.9L617.7 132.1L618.1 132.4L618.5 131.5L618.9 131.3L619.3 130.7L619.7 131.6L620.1 132.6L620.5 133.3L620.9 133.4L621.3 133.6L621.7 133.3L622.1 132.8L622.5 132.5L622.9 132.9L623.3 133.0L623.7 133.3L624.1 133.1L624.5 133.8L624.9 132.7L625.3 132.7L625.7 132.9L626.1 132.3L626.5 133.2L626.9 132.8L627.3 133.0L627.7 132.7L628.1 132.4L628.5 132.3L628.9 133.2L629.3 132.3L629.7 132.3L630.1 132.2L630.5 132.1L630.9 132.4L631.3 132.5L631.7 131.9L632.1 133.0L632.5 132.7L632.9 132.7L633.3 132.4L633.7 132.6L634.1 132.7L634.5 132.4L634.9 132.1L635.3 132.2L635.7 132.3L636.1 131.3L636.5 131.3L636.9 131.4L637.3 130.8L637.7 130.3L638.1 131.3L638.5 131.5L638.9 132.0L639.3 131.8L639.7 132.0L640.1 131.0L640.5 131.7L640.9 131.9L641.3 132.2L641.7 132.0L642.1 131.3L642.5 131.2L642.9 131.3L643.3 131.4L643.7 131.5L644.1 131.9L644.5 131.4L644.9 132.1L645.3 132.5L645.7 132.2L646.1 132.0L646.5 131.8L646.9 131.5L647.3 131.7L647.7 131.5L648.1 131.7L648.5 131.8L648.9 131.7L649.3 131.1L649.7 131.5L650.1 131.2L650.5 131.5L650.9 131.5L651.3 132.1L651.7 131.9L652.1 130.5L652.5 131.0L652.9 130.8L653.3 131.6L653.7 131.6L654.1 132.2L654.5 131.6L654.9 130.7L655.3 131.0"/>
<path d="M378.5 152.1L378.9 151.3L379.3 151.0L379.7 151.8L380.1 151.3L380.5 150.7L380.9 150.6L381.3 150.7L381.7 150.0L382.1 150.1L382.5 150.4L382.9 150.0L383.3 150.2L383.7 150.5L384.1 150.6L384.5 150.6L384.9 150.2L385.3 150.7L385.7 150.2L386.1 150.4L386.5 150.2L386.9 150.5L387.3 150.1L387.7 150.3L388.1 150.9L388.5 150.8L388.9 150.7L389.3 150.2L389.7 149.6L390.1 149.4L390.5 149.5L390.9 148.4L391.3 148.3L391.7 147.9L392.1 147.9L392.5 148.2L392.9 147.7L393.3 147.1L393.7 147.4L394.1 147.0L394.5 146.0L394.9 145.6L395.3 143.0L395.7 139.0L396.1 137.1L396.5 136.0L396.9 137.1L397.3 140.2L397.7 142.3L398.1 144.8L398.5 145.9L398.9 146.7L399.3 147.6L399.7 147.5L400.1 148.1L400.5 148.4L400.9 148.9L401.3 148.7L401.7 148.1L402.1 147.9L402.5 148.5L402.9 148.8L403.3 148.4L403.7 148.3L404.1 148.3L404.5 148.1L404.9 148.6L405.3 148.6L405.7 148.5L406.1 148.8L406.5 148.7L406.9 148.6L407.3 148.4L407.7 148.4L408.1 148.6L408.5 148.7L408.9 148.1L409.3 148.0L409.7 148.3L410.1 148.3L410.5 147.8L410.9 147.8L411.3 148.4L411.7 147.5L412.1 147.6L412.5 147.7L412.9 147.1L413.3 147.1L413.7 147.8L414.1 147.3L414.5 147.2L414.9 146.2L415.3 145.5L415.7 144.7L416.1 144.1L416.5 143.6L416.9 142.1L417.3 141.7L417.7 141.6L418.1 141.3L418.5 141.8L418.9 142.5L419.3 143.2L419.7 143.8L420.1 143.8L420.5 143.6L420.9 145.1L421.3 145.0L421.7 145.6L422.1 146.3L422.5 146.7L422.9 146.8L423.3 147.2L423.7 147.8L424.1 147.7L424.5 147.7L424.9 148.1L425.3 147.4L425.7 148.0L426.1 147.3L426.5 147.4L426.9 147.3L427.3 147.3L427.7 147.1L428.1 146.5L428.5 146.5L428.9 146.8L429.3 147.3L429.7 147.3L430.1 146.9L430.5 147.6L430.9 147.8L431.3 149.0L431.7 148.0L432.1 147.7L432.5 147.5L432.9 147.5L433.3 147.2L433.7 147.7L434.1 147.4L434.5 147.1L434.9 146.4L435.3 146.7L435.7 146.7L436.1 146.6L436.5 146.8L436.9 146.9L437.3 146.6L437.7 147.2L438.1 146.8L438.5 147.6L438.9 148.2L439.3 148.4L439.7 148.2L440.1 147.5L440.5 148.1L440.9 148.0L441.3 148.4L441.7 149.1L442.1 148.4L442.5 148.6L442.9 149.4L443.3 149.4L443.7 149.5L444.1 148.9L444.5 148.4L444.9 148.2L445.3 148.2L445.7 147.8L446.1 148.0L446.5 148.7L446.9 148.2L447.3 148.5L447.7 148.2L448.1 147.6L448.5 147.9L448.9 147.9L449.3 147.6L449.7 147.6L450.1 146.9L450.5 147.4L450.9 146.7L451.3 146.6L451.7 146.5L452.1 146.1L452.5 145.8L452.9 146.0L453.3 145.3L453.7 145.8L454.1 145.5L454.5 144.5L454.9 144.3L455.3 143.7L455.7 143.5L456.1 143.3L456.5 142.4L456.9 142.2L457.3 142.0L457.7 141.4L458.1 140.8L458.5 140.6L458.9 140.5L459.3 140.5L459.7 140.3L460.1 140.6L460.5 140.1L460.9 140.1L461.3 140.1L461.7 139.2L462.1 139.4L462.5 139.2L462.9 139.8L463.3 139.5L463.7 139.8L464.1 140.5L464.5 140.1L464.9 139.9L465.3 139.7L465.7 139.9L466.1 138.9L466.5 138.1L466.9 139.1L467.3 138.3L467.7 139.0L468.1 139.0L468.5 139.7L468.9 139.2L469.3 139.4L469.7 139.3L470.1 140.1L470.5 140.7L470.9 140.6L471.3 140.9L471.7 141.9L472.1 142.8L472.5 143.0L472.9 143.7L473.3 143.8L473.7 144.2L474.1 145.6L474.5 145.8L474.9 146.9L475.3 147.4L475.7 147.8L476.1 147.9L476.5 148.9L476.9 149.2L477.3 149.3L477.7 149.2L478.1 149.9L478.5 149.9L478.9 150.0L479.3 150.1L479.7 149.5L480.1 150.1L480.5 150.2L480.9 151.0L481.3 151.6L481.7 151.7L482.1 151.7L482.5 151.2L482.9 151.3L483.3 151.1L483.7 150.5L484.1 150.6L484.5 150.2L484.9 150.7L485.3 150.7L485.7 151.3L486.1 151.4L486.5 151.2L486.9 151.7L487.3 151.0L487.7 151.4L488.1 151.6L488.5 152.2L488.9 152.6L489.3 152.5L489.7 152.0L490.1 152.3L490.5 152.2L490.9 152.3L491.3 151.7L491.7 151.8L492.1 151.1L492.5 151.5L492.9 151.5L493.3 151.4L493.7 151.3L494.1 151.3L494.5 151.1L494.9 151.2L495.3 150.7L495.7 151.1L496.1 152.0L496.5 151.0L496.9 151.4L497.3 151.2L497.7 151.5L498.1 151.4L498.5 151.5L498.9 151.8L499.3 151.9L499.7 151.6L500.1 151.1L500.5 150.9L500.9 151.6L501.3 151.2L501.7 151.2L502.1 150.9L502.5 151.5L502.9 151.3L503.3 151.5L503.7 151.9L504.1 151.6L504.5 151.3L504.9 151.1L505.3 150.7L505.7 151.4L506.1 150.6L506.5 151.3L506.9 151.1L507.3 151.2L507.7 151.2L508.1 150.7L508.5 150.8L508.9 150.2L509.3 150.6L509.7 150.6L510.1 150.2L510.5 150.5L510.9 150.8L511.3 150.6L511.7 150.4L512.1 151.3L512.5 151.0L512.9 151.5L513.3 151.1L513.7 151.2L514.1 150.7L514.5 151.1L514.9 150.5L515.3 151.1L515.7 151.2L516.1 150.9L516.5 151.4L516.9 151.2L517.3 151.1L517.7 150.8L518.1 151.5L518.5 151.5L518.9 151.9L519.3 151.4L519.7 150.7L520.1 151.4L520.5 151.1L520.9 151.2L521.3 150.9L521.7 150.2L522.1 151.0L522.5 150.4L522.9 151.0L523.3 151.8L523.7 152.3L524.1 152.6L524.5 151.8L524.9 151.8L525.3 151.6L525.7 151.3L526.1 151.2L526.5 151.5L526.9 151.0L527.3 150.6L527.7 150.4L528.1 150.3L528.5 149.8L528.9 150.2L529.3 150.9L529.7 151.5L530.1 150.4L530.5 151.0L530.9 151.0L531.3 151.2L531.7 150.4L532.1 151.4L532.5 151.4L532.9 151.4L533.3 151.0L533.7 151.2L534.1 151.4L534.5 151.1L534.9 150.4L535.3 150.3L535.7 150.8L536.1 150.9L536.5 150.8L536.9 150.9L537.3 150.8L537.7 150.7L538.1 151.9L538.5 151.5L538.9 151.2L539.3 151.2L539.7 151.4L540.1 151.1L540.5 151.0L540.9 151.0L541.3 151.3L541.7 151.2L542.1 150.8L542.5 150.5L542.9 150.8L543.3 150.4L543.7 151.1L544.1 151.9L544.5 150.5L544.9 150.2L545.3 150.3L545.7 150.0L546.1 149.9L546.5 150.3L546.9 150.0L547.3 150.4L547.7 149.3L548.1 150.4L548.5 149.4L548.9 149.2L549.3 149.6L549.7 149.1L550.1 149.0L550.5 148.9L550.9 148.4L551.3 148.1L551.7 148.8L552.1 148.4L552.5 148.0L552.9 147.6L553.3 148.1L553.7 147.2L554.1 147.0L554.5 147.0L554.9 147.0L555.3 146.7L555.7 146.3L556.1 146.1L556.5 145.7L556.9 145.7L557.3 144.7L557.7 144.8L558.1 144.4L558.5 144.1L558.9 142.9L559.3 143.0L559.7 143.2L560.1 142.8L560.5 142.5L560.9 142.0L561.3 142.5L561.7 142.2L562.1 142.1L562.5 141.6L562.9 141.8L563.3 141.8L563.7 141.8L564.1 141.6L564.5 141.2L564.9 140.9L565.3 140.2L565.7 141.1L566.1 141.2L566.5 140.9L566.9 141.0L567.3 141.2L567.7 141.8L568.1 142.4L568.5 141.5L568.9 142.0L569.3 142.3L569.7 141.8L570.1 142.3L570.5 142.5L570.9 142.2L571.3 142.0L571.7 141.7L572.1 142.4L572.5 143.1L572.9 142.8L573.3 143.1L573.7 142.9L574.1 143.3L574.5 143.0L574.9 143.5L575.3 143.6L575.7 144.0L576.1 144.8L576.5 144.5L576.9 144.6L577.3 144.5L577.7 145.0L578.1 144.9L578.5 145.9L578.9 145.5L579.3 145.8L579.7 146.1L580.1 146.2L580.5 145.9L580.9 146.2L581.3 146.0L581.7 146.5L582.1 146.6L582.5 146.7L582.9 146.9L583.3 147.6L583.7 147.3L584.1 147.1L584.5 147.2L584.9 147.4L585.3 147.3L585.7 147.4L586.1 147.8L586.5 148.0L586.9 148.1L587.3 148.0L587.7 148.4L588.1 148.5L588.5 148.2L588.9 148.0L589.3 147.9L589.7 148.3L590.1 148.3L590.5 148.7L590.9 148.9L591.3 149.4L591.7 149.2L592.1 149.6L592.5 149.4L592.9 149.6L593.3 150.2L593.7 149.8L594.1 149.9L594.5 149.8L594.9 149.6L595.3 148.8L595.7 148.9L596.1 149.0L596.5 149.4L596.9 149.1L597.3 149.6L597.7 149.8L598.1 149.5L598.5 149.0L598.9 149.5L599.3 149.5L599.7 149.7L600.1 149.6L600.5 150.1L600.9 149.8L601.3 150.4L601.7 150.6L602.1 150.3L602.5 149.8L602.9 150.2L603.3 150.3L603.7 150.0L604.1 149.9L604.5 149.6L604.9 150.4L605.3 149.9L605.7 149.5L606.1 149.0L606.5 150.2L606.9 148.9L607.3 149.7L607.7 149.0L608.1 150.0L608.5 149.9L608.9 150.3L609.3 149.7L609.7 150.4L610.1 149.9L610.5 149.5L610.9 150.5L611.3 150.7L611.7 151.2L612.1 151.0L612.5 150.7L612.9 150.3L613.3 149.4L613.7 149.9L614.1 149.9L614.5 149.6L614.9 149.6L615.3 149.9L615.7 150.1L616.1 149.8L616.5 150.5L616.9 149.5L617.3 150.4L617.7 149.8L618.1 149.8L618.5 150.1L618.9 150.1L619.3 150.1L619.7 150.2L620.1 149.9L620.5 149.9L620.9 150.2L621.3 150.1L621.7 150.3L622.1 150.0L622.5 151.1L622.9 150.5L623.3 149.8L623.7 149.5L624.1 149.8L624.5 149.8L624.9 150.7L625.3 150.2L625.7 149.2L626.1 149.8L626.5 150.4L626.9 150.1L627.3 151.0L627.7 150.3L628.1 150.0L628.5 150.1L628.9 149.6L629.3 150.1L629.7 149.0L630.1 150.1L630.5 149.7L630.9 149.5L631.3 148.5L631.7 149.2L632.1 148.9L632.5 149.8L632.9 149.7L633.3 149.8L633.7 148.9L634.1 149.9L634.5 150.0L634.9 149.8L635.3 148.6L635.7 149.3L636.1 149.2L636.5 149.0L636.9 148.3L637.3 149.1L637.7 149.6L638.1 149.1L638.5 149.9L638.9 150.1L639.3 149.5L639.7 150.2L640.1 150.3L640.5 149.9L640.9 149.9L641.3 150.0L641.7 149.5L642.1 149.5L642.5 149.6L642.9 148.9L643.3 148.8L643.7 149.8L644.1 149.4L644.5 149.6L644.9 148.9L645.3 148.2L645.7 148.9L646.1 149.1L646.5 148.8L646.9 148.9L647.3 149.0L647.7 148.8L648.1 149.8L648.5 149.3L648.9 149.0L649.3 149.1L649.7 148.8L650.1 149.3L650.5 149.5L650.9 149.1L651.3 149.7L651.7 149.4L652.1 149.6L652.5 149.2L652.9 148.8L653.3 149.4L653.7 149.5L654.1 149.3L654.5 150.2L654.9 150.1L655.3 150.5"/>
<path d="M378.5 169.9L378.9 170.4L379.3 170.0L379.7 170.2L380.1 170.2L380.5 170.2L380.9 170.0L381.3 169.7L381.7 169.5L382.1 169.3L382.5 169.4L382.9 169.3L383.3 169.1L383.7 168.8L384.1 169.3L384.5 169.2L384.9 168.6L385.3 168.5L385.7 168.1L386.1 167.9L386.5 167.7L386.9 167.2L387.3 167.2L387.7 166.7L388.1 165.9L388.5 165.3L388.9 164.4L389.3 163.6L389.7 161.9L390.1 159.8L390.5 156.8L390.9 154.9L391.3 152.7L391.7 153.3L392.1 155.4L392.5 158.8L392.9 161.1L393.3 162.4L393.7 163.8L394.1 164.7L394.5 164.5L394.9 165.0L395.3 165.4L395.7 164.0L396.1 164.4L396.5 163.8L396.9 163.7L397.3 163.7L397.7 162.5L398.1 161.7L398.5 160.3L398.9 158.7L399.3 156.5L399.7 154.9L400.1 153.7L400.5 153.6L400.9 154.4L401.3 156.2L401.7 158.3L402.1 159.6L402.5 161.2L402.9 162.3L403.3 163.7L403.7 164.6L404.1 165.4L404.5 165.4L404.9 166.2L405.3 166.4L405.7 166.9L406.1 166.6L406.5 166.4L406.9 166.6L407.3 166.8L407.7 166.7L408.1 167.0L408.5 166.4L408.9 167.0L409.3 167.0L409.7 167.2L410.1 167.5L410.5 167.1L410.9 167.1L411.3 167.1L411.7 166.8L412.1 166.7L412.5 166.9L412.9 166.6L413.3 166.1L413.7 165.9L414.1 166.1L414.5 165.8L414.9 165.9L415.3 165.2L415.7 164.7L416.1 164.8L416.5 163.8L416.9 163.6L417.3 163.6L417.7 163.5L418.1 162.7L418.5 162.9L418.9 163.3L419.3 164.2L419.7 164.3L420.1 164.8L420.5 165.2L420.9 165.6L421.3 165.7L421.7 166.5L422.1 166.6L422.5 166.3L422.9 166.3L423.3 166.8L423.7 166.6L424.1 167.3L424.5 167.3L424.9 167.6L425.3 167.4L425.7 167.3L426.1 167.7L426.5 167.8L426.9 168.0L427.3 167.8L427.7 168.0L428.1 167.8L428.5 167.7L428.9 167.9L429.3 167.7L429.7 167.5L430.1 167.9L430.5 167.9L430.9 168.1L431.3 168.0L431.7 168.4L432.1 168.5L432.5 168.4L432.9 167.9L433.3 168.4L433.7 167.9L434.1 168.1L434.5 167.7L434.9 168.2L435.3 168.1L435.7 168.8L436.1 168.1L436.5 168.4L436.9 167.7L437.3 168.0L437.7 167.9L438.1 167.6L438.5 168.3L438.9 168.4L439.3 168.5L439.7 168.3L440.1 168.4L440.5 167.9L440.9 167.9L441.3 167.9L441.7 168.1L442.1 167.2L442.5 167.4L442.9 168.1L443.3 167.9L443.7 167.5L444.1 167.5L444.5 168.0L444.9 167.9L445.3 167.4L445.7 167.3L446.1 167.5L446.5 167.0L446.9 166.5L447.3 166.4L447.7 165.6L448.1 165.3L448.5 165.0L448.9 165.2L449.3 164.8L449.7 165.0L450.1 165.0L450.5 165.2L450.9 166.2L451.3 166.5L451.7 166.5L452.1 166.4L452.5 166.6L452.9 167.1L453.3 167.3L453.7 167.6L454.1 168.0L454.5 168.3L454.9 168.5L455.3 168.5L455.7 168.3L456.1 167.8L456.5 168.2L456.9 168.0L457.3 168.4L457.7 168.6L458.1 168.6L458.5 168.7L458.9 168.7L459.3 167.9L459.7 169.1L460.1 168.5L460.5 168.1L460.9 168.2L461.3 167.8L461.7 167.8L462.1 168.2L462.5 168.3L462.9 168.1L463.3 168.2L463.7 168.5L464.1 169.1L464.5 168.2L464.9 168.9L465.3 169.2L465.7 168.6L466.1 169.4L466.5 169.2L466.9 169.1L467.3 168.8L467.7 169.0L468.1 169.1L468.5 168.7L468.9 168.8L469.3 168.9L469.7 168.9L470.1 168.7L470.5 168.9L470.9 168.9L471.3 168.8L471.7 169.0L472.1 168.9L472.5 169.3L472.9 169.2L473.3 169.5L473.7 169.7L474.1 169.4L474.5 169.5L474.9 169.0L475.3 169.0L475.7 168.7L476.1 168.6L476.5 168.8L476.9 168.7L477.3 168.9L477.7 169.0L478.1 168.6L478.5 168.3L478.9 168.0L479.3 168.4L479.7 168.6L480.1 168.6L480.5 168.6L480.9 168.9L481.3 168.6L481.7 168.1L482.1 168.5L482.5 168.0L482.9 168.4L483.3 168.7L483.7 168.9L484.1 168.0L484.5 168.2L484.9 168.4L485.3 168.7L485.7 168.4L486.1 168.1L486.5 168.6L486.9 168.6L487.3 168.6L487.7 168.5L488.1 169.0L488.5 168.7L488.9 169.1L489.3 168.9L489.7 168.7L490.1 168.8L490.5 168.8L490.9 168.6L491.3 168.6L491.7 168.9L492.1 168.6L492.5 168.9L492.9 168.9L493.3 169.2L493.7 169.5L494.1 169.3L494.5 169.7L494.9 169.1L495.3 169.1L495.7 168.9L496.1 168.7L496.5 168.9L496.9 168.3L497.3 168.8L497.7 168.4L498.1 168.7L498.5 168.4L498.9 168.4L499.3 169.0L499.7 168.7L500.1 168.5L500.5 168.5L500.9 168.4L501.3 168.8L501.7 168.7L502.1 168.2L502.5 168.7L502.9 168.7L503.3 168.4L503.7 167.9L504.1 168.1L504.5 169.0L504.9 168.9L505.3 169.0L505.7 168.5L506.1 168.7L506.5 168.6L506.9 168.0L507.3 168.7L507.7 168.9L508.1 168.8L508.5 168.6L508.9 168.6L509.3 168.6L509.7 168.9L510.1 168.5L510.5 168.2L510.9 168.7L511.3 168.9L511.7 168.4L512.1 169.1L512.5 168.7L512.9 168.4L513.3 168.9L513.7 168.6L514.1 168.5L514.5 168.4L514.9 168.4L515.3 168.5L515.7 168.3L516.1 168.4L516.5 168.9L516.9 168.7L517.3 168.4L517.7 168.5L518.1 168.5L518.5 168.4L518.9 168.9L519.3 168.8L519.7 168.8L520.1 169.0L520.5 169.1L520.9 169.1L521.3 168.8L521.7 169.0L522.1 168.5L522.5 168.6L522.9 168.3L523.3 168.7L523.7 168.6L524.1 168.6L524.5 168.6L524.9 168.5L525.3 168.8L525.7 168.4L526.1 168.8L526.5 168.5L526.9 168.4L527.3 169.2L527.7 169.1L528.1 169.0L528.5 168.9L528.9 168.8L529.3 169.2L529.7 169.3L530.1 168.9L530.5 169.1L530.9 169.5L531.3 169.0L531.7 168.6L532.1 168.9L532.5 168.9L532.9 168.1L533.3 169.1L533.7 169.0L534.1 168.4L534.5 168.3L534.9 168.1L535.3 167.5L535.7 167.7L536.1 167.6L536.5 168.2L536.9 168.5L537.3 168.6L537.7 168.2L538.1 167.8L538.5 167.8L538.9 167.5L539.3 167.8L539.7 167.8L540.1 167.8L540.5 167.1L540.9 167.5L541.3 167.1L541.7 167.3L542.1 167.3L542.5 166.8L542.9 166.9L543.3 166.9L543.7 166.8L544.1 166.2L544.5 167.0L544.9 166.8L545.3 166.9L545.7 167.0L546.1 166.2L546.5 167.0L546.9 166.1L547.3 166.3L547.7 166.0L548.1 165.5L548.5 165.5L548.9 165.2L549.3 165.2L549.7 164.7L550.1 165.1L550.5 165.5L550.9 165.2L551.3 164.7L551.7 164.7L552.1 164.7L552.5 165.1L552.9 164.6L553.3 165.1L553.7 164.7L554.1 165.3L554.5 164.9L554.9 164.5L555.3 164.6L555.7 164.9L556.1 164.4L556.5 164.5L556.9 164.2L557.3 164.0L557.7 164.3L558.1 164.5L558.5 164.3L558.9 163.7L559.3 164.2L559.7 164.1L560.1 165.0L560.5 165.4L560.9 165.3L561.3 165.0L561.7 165.4L562.1 165.2L562.5 165.1L562.9 164.9L563.3 165.0L563.7 165.1L564.1 165.7L564.5 165.7L564.9 165.6L565.3 165.6L565.7 165.6L566.1 166.6L566.5 166.9L566.9 166.6L567.3 167.0L567.7 166.7L568.1 166.1L568.5 166.0L568.9 165.9L569.3 166.5L569.7 166.4L570.1 166.8L570.5 166.7L570.9 167.8L571.3 168.1L571.7 168.1L572.1 168.6L572.5 168.3L572.9 168.3L573.3 168.2L573.7 168.2L574.1 167.4L574.5 167.9L574.9 168.0L575.3 167.9L575.7 167.7L576.1 168.0L576.5 167.3L576.9 167.9L577.3 167.8L577.7 168.0L578.1 168.4L578.5 168.1L578.9 168.1L579.3 168.3L579.7 168.7L580.1 168.8L580.5 168.3L580.9 168.2L581.3 168.6L581.7 168.4L582.1 168.4L582.5 169.2L582.9 168.6L583.3 169.2L583.7 168.4L584.1 168.7L584.5 168.8L584.9 168.0L585.3 168.4L585.7 168.3L586.1 168.6L586.5 168.5L586.9 168.4L587.3 168.2L587.7 168.4L588.1 168.9L588.5 169.5L588.9 168.7L589.3 168.9L589.7 168.9L590.1 169.0L590.5 168.9L590.9 168.7L591.3 169.3L591.7 169.1L592.1 169.1L592.5 168.8L592.9 168.7L593.3 168.5L593.7 168.3L594.1 168.1L594.5 168.8L594.9 168.6L595.3 168.6L595.7 168.6L596.1 168.9L596.5 168.3L596.9 168.8L597.3 168.5L597.7 168.7L598.1 169.2L598.5 168.6L598.9 169.0L599.3 168.2L599.7 168.0L600.1 168.1L600.5 167.8L600.9 168.5L601.3 169.1L601.7 169.1L602.1 169.1L602.5 169.1L602.9 168.8L603.3 168.5L603.7 168.4L604.1 167.7L604.5 167.9L604.9 168.1L605.3 168.4L605.7 168.3L606.1 168.0L606.5 168.2L606.9 168.3L607.3 168.5L607.7 168.7L608.1 168.0L608.5 168.6L608.9 168.5L609.3 168.9L609.7 168.4L610.1 168.5L610.5 168.2L610.9 168.6L611.3 168.5L611.7 168.5L612.1 168.2L612.5 168.3L612.9 168.0L613.3 168.4L613.7 168.5L614.1 168.5L614.5 168.3L614.9 168.1L615.3 168.5L615.7 168.5L616.1 168.9L616.5 168.4L616.9 168.1L617.3 168.4L617.7 168.1L618.1 168.5L618.5 168.2L618.9 168.3L619.3 168.1L619.7 168.4L620.1 168.0L620.5 167.8L620.9 168.5L621.3 168.5L621.7 168.3L622.1 168.0L622.5 167.9L622.9 167.9L623.3 168.0L623.7 168.0L624.1 167.9L624.5 167.6L624.9 168.4L625.3 167.8L625.7 168.5L626.1 168.5L626.5 168.6L626.9 168.5L627.3 168.1L627.7 167.7L628.1 168.2L628.5 168.5L628.9 167.9L629.3 167.9L629.7 168.2L630.1 168.1L630.5 168.2L630.9 168.0L631.3 168.0L631.7 168.2L632.1 168.6L632.5 168.7L632.9 168.2L633.3 168.9L633.7 169.0L634.1 168.4L634.5 168.6L634.9 168.6L635.3 168.3L635.7 168.7L636.1 169.1L636.5 168.8L636.9 169.0L637.3 168.4L637.7 168.5L638.1 168.8L638.5 168.8L638.9 168.7L639.3 168.4L639.7 168.7L640.1 168.8L640.5 169.2L640.9 168.1L641.3 168.3L641.7 167.9L642.1 168.2L642.5 168.4L642.9 168.0L643.3 167.8L643.7 168.1L644.1 167.6L644.5 168.1L644.9 168.4L645.3 167.9L645.7 168.2L646.1 168.1L646.5 167.6L646.9 167.5L647.3 167.6L647.7 167.8L648.1 167.9L648.5 168.5L648.9 168.7L649.3 168.4L649.7 168.3L650.1 168.4L650.5 168.6L650.9 168.0L651.3 168.1L651.7 168.4L652.1 168.4L652.5 168.4L652.9 168.2L653.3 167.9L653.7 167.5L654.1 168.2L654.5 168.1L654.9 168.5L655.3 168.4"/>
<path d="M378.5 184.0L378.9 184.6L379.3 184.6L379.7 184.5L380.1 183.8L380.5 183.7L380.9 184.1L381.3 184.0L381.7 182.9L382.1 183.2L382.5 183.4L382.9 183.4L383.3 184.0L383.7 183.7L384.1 184.1L384.5 183.9L384.9 184.3L385.3 183.7L385.7 183.5L386.1 183.5L386.5 183.0L386.9 182.4L387.3 182.7L387.7 182.0L388.1 181.5L388.5 181.1L388.9 180.4L389.3 179.6L389.7 177.8L390.1 176.5L390.5 173.4L390.9 171.2L391.3 169.4L391.7 170.2L392.1 171.7L392.5 173.5L392.9 175.6L393.3 176.9L393.7 177.6L394.1 178.2L394.5 178.7L394.9 179.5L395.3 180.4L395.7 180.1L396.1 180.5L396.5 179.9L396.9 180.0L397.3 179.5L397.7 178.2L398.1 177.4L398.5 175.9L398.9 174.8L399.3 173.0L399.7 171.3L400.1 170.6L400.5 169.7L400.9 170.1L401.3 171.3L401.7 174.4L402.1 175.7L402.5 177.5L402.9 178.6L403.3 179.1L403.7 179.6L404.1 180.3L404.5 180.5L404.9 180.4L405.3 181.0L405.7 181.3L406.1 181.5L406.5 182.0L406.9 182.0L407.3 181.7L407.7 181.5L408.1 181.4L408.5 181.4L408.9 181.1L409.3 181.9L409.7 181.4L410.1 180.9L410.5 181.3L410.9 181.1L411.3 181.5L411.7 181.2L412.1 181.2L412.5 182.0L412.9 181.9L413.3 181.1L413.7 181.3L414.1 181.3L414.5 180.7L414.9 180.7L415.3 179.9L415.7 179.5L416.1 178.8L416.5 178.4L416.9 178.1L417.3 177.8L417.7 177.3L418.1 177.5L418.5 177.7L418.9 178.1L419.3 178.8L419.7 178.2L420.1 178.9L420.5 179.8L420.9 179.6L421.3 179.3L421.7 179.9L422.1 180.1L422.5 180.8L422.9 180.8L423.3 181.3L423.7 181.0L424.1 182.0L424.5 182.3L424.9 181.4L425.3 181.1L425.7 181.2L426.1 181.4L426.5 180.8L426.9 180.9L427.3 181.4L427.7 181.7L428.1 182.6L428.5 182.6L428.9 182.4L429.3 182.1L429.7 181.9L430.1 182.2L430.5 181.9L430.9 182.5L431.3 181.4L431.7 181.0L432.1 181.4L432.5 181.4L432.9 181.5L433.3 181.8L433.7 181.9L434.1 182.6L434.5 182.8L434.9 183.2L435.3 182.8L435.7 182.8L436.1 182.3L436.5 182.6L436.9 182.5L437.3 182.5L437.7 181.7L438.1 182.2L438.5 181.6L438.9 181.4L439.3 182.1L439.7 181.7L440.1 182.0L440.5 181.4L440.9 181.8L441.3 182.2L441.7 182.8L442.1 182.0L442.5 182.1L442.9 181.3L443.3 181.1L443.7 181.4L444.1 180.4L444.5 180.8L444.9 180.7L445.3 181.6L445.7 180.9L446.1 180.3L446.5 180.8L446.9 181.5L447.3 181.0L447.7 180.2L448.1 180.2L448.5 180.6L448.9 180.9L449.3 180.8L449.7 180.6L450.1 179.9L450.5 180.5L450.9 180.5L451.3 180.4L451.7 180.8L452.1 180.1L452.5 180.2L452.9 180.0L453.3 180.7L453.7 180.5L454.1 180.4L454.5 179.8L454.9 180.1L455.3 179.3L455.7 180.6L456.1 180.8L456.5 180.4L456.9 180.5L457.3 181.0L457.7 180.5L458.1 180.4L458.5 180.8L458.9 180.0L459.3 181.0L459.7 180.6L460.1 180.9L460.5 181.3L460.9 180.3L461.3 180.9L461.7 181.3L462.1 181.6L462.5 181.2L462.9 181.6L463.3 181.6L463.7 181.3L464.1 181.6L464.5 181.6L464.9 181.9L465.3 181.5L465.7 181.1L466.1 181.0L466.5 181.4L466.9 181.5L467.3 181.9L467.7 182.3L468.1 182.2L468.5 181.7L468.9 182.0L469.3 181.4L469.7 181.4L470.1 181.9L470.5 182.6L470.9 181.8L471.3 181.8L471.7 181.9L472.1 181.9L472.5 181.9L472.9 181.9L473.3 182.4L473.7 182.0L474.1 182.9L474.5 182.6L474.9 182.5L475.3 182.8L475.7 183.0L476.1 182.6L476.5 182.5L476.9 182.8L477.3 182.1L477.7 182.1L478.1 182.7L478.5 183.1L478.9 182.7L479.3 182.5L479.7 183.7L480.1 183.3L480.5 183.9L480.9 183.4L481.3 183.5L481.7 183.4L482.1 183.2L482.5 183.6L482.9 183.2L483.3 183.8L483.7 183.3L484.1 182.8L484.5 182.1L484.9 182.9L485.3 183.8L485.7 183.3L486.1 184.3L486.5 183.4L486.9 184.8L487.3 183.4L487.7 184.1L488.1 184.1L488.5 184.8L488.9 183.7L489.3 183.0L489.7 183.2L490.1 182.5L490.5 182.4L490.9 182.0L491.3 184.2L491.7 184.8L492.1 184.0L492.5 184.0L492.9 184.3L493.3 185.2L493.7 183.1L494.1 184.7L494.5 185.7L494.9 184.3L495.3 184.0L495.7 186.5L496.1 186.3L496.5 185.5L496.9 184.8L497.3 185.3L497.7 184.6L498.1 183.3L498.5 183.6L498.9 183.7L499.3 182.0L499.7 184.4L500.1 184.6L500.5 186.4L500.9 184.5L501.3 187.0L501.7 186.3L502.1 185.8L502.5 188.0L502.9 187.0L503.3 189.8L503.7 189.6L504.1 186.4L504.5 188.7L504.9 187.4L505.3 186.5L505.7 187.6L506.1 187.5L506.5 187.3L506.9 187.1L507.3 186.0L507.7 185.6L508.1 186.5L508.5 185.2L508.9 185.5L509.3 186.1L509.7 187.0L510.1 188.2L510.5 186.3L510.9 185.8L511.3 185.9L511.7 187.4L512.1 185.2L512.5 185.2L512.9 184.4L513.3 183.9L513.7 184.7L514.1 183.6L514.5 183.8L514.9 184.0L515.3 184.2L515.7 186.7L516.1 184.8L516.5 186.8L516.9 185.2L517.3 186.6L517.7 186.3L518.1 185.1L518.5 187.1L518.9 184.9L519.3 184.4L519.7 184.7L520.1 184.3L520.5 184.5L520.9 185.4L521.3 185.9L521.7 185.1L522.1 187.1L522.5 187.0L522.9 186.0L523.3 186.1L523.7 186.2L524.1 186.6L524.5 186.0L524.9 183.8L525.3 185.8L525.7 184.6L526.1 184.1L526.5 184.8L526.9 185.1L527.3 185.8L527.7 186.4L528.1 187.7L528.5 188.0L528.9 186.8L529.3 185.9L529.7 185.9L530.1 185.4L530.5 184.0L530.9 182.9L531.3 183.1L531.7 185.9L532.1 184.9L532.5 186.9L532.9 186.5L533.3 184.8L533.7 183.9L534.1 184.7L534.5 185.6L534.9 184.9L535.3 185.4L535.7 186.5L536.1 184.2L536.5 184.0L536.9 186.2L537.3 186.6L537.7 185.6L538.1 184.7L538.5 182.6L538.9 184.4L539.3 183.3L539.7 185.1L540.1 185.4L540.5 186.0L540.9 183.0L541.3 183.0L541.7 182.7L542.1 183.3L542.5 180.5L542.9 180.3L543.3 179.6L543.7 181.4L544.1 181.3L544.5 183.2L544.9 180.0L545.3 180.1L545.7 181.2L546.1 180.3L546.5 181.2L546.9 177.8L547.3 179.6L547.7 181.0L548.1 181.6L548.5 181.3L548.9 182.0L549.3 183.2L549.7 181.7L550.1 181.8L550.5 180.5L550.9 180.5L551.3 180.0L551.7 180.5L552.1 183.8L552.5 182.5L552.9 184.4L553.3 179.9L553.7 179.2L554.1 182.0L554.5 180.1L554.9 179.7L555.3 177.7L555.7 178.4L556.1 179.5L556.5 180.1L556.9 177.5L557.3 179.7L557.7 176.4L558.1 177.6L558.5 178.1L558.9 177.2L559.3 177.1L559.7 181.6L560.1 180.0L560.5 182.8L560.9 180.4L561.3 181.8L561.7 181.2L562.1 180.7L562.5 178.9L562.9 181.7L563.3 180.7L563.7 183.7L564.1 183.4L564.5 182.5L564.9 180.4L565.3 179.5L565.7 181.9L566.1 179.8L566.5 178.0L566.9 180.1L567.3 179.7L567.7 181.1L568.1 183.1L568.5 181.1L568.9 182.4L569.3 184.4L569.7 181.8L570.1 182.4L570.5 181.1L570.9 181.0L571.3 182.5L571.7 184.2L572.1 183.6L572.5 183.8L572.9 183.4L573.3 185.3L573.7 183.4L574.1 183.7L574.5 185.6L574.9 185.2L575.3 184.0L575.7 186.9L576.1 184.8L576.5 185.6L576.9 186.4L577.3 184.1L577.7 184.3L578.1 184.7L578.5 184.8L578.9 182.7L579.3 181.6L579.7 183.9L580.1 183.7L580.5 184.5L580.9 184.7L581.3 184.2L581.7 185.3L582.1 186.0L582.5 185.5L582.9 185.0L583.3 184.8L583.7 185.7L584.1 182.1L584.5 181.2L584.9 181.8L585.3 184.0L585.7 184.2L586.1 185.2L586.5 183.7L586.9 183.9L587.3 185.3L587.7 185.8L588.1 185.1L588.5 186.1L588.9 184.7L589.3 182.7L589.7 183.3L590.1 184.4L590.5 184.4L590.9 186.6L591.3 185.7L591.7 184.0L592.1 184.9L592.5 182.9L592.9 184.0L593.3 183.6L593.7 180.1L594.1 182.8L594.5 181.0L594.9 180.5L595.3 180.7L595.7 179.5L596.1 179.5L596.5 180.0L596.9 180.8L597.3 180.9L597.7 180.2L598.1 181.9L598.5 181.8L598.9 180.7L599.3 179.1L599.7 179.7L600.1 179.7L600.5 180.8L600.9 180.8L601.3 179.0L601.7 178.7L602.1 178.7L602.5 178.9L602.9 180.5L603.3 181.3L603.7 180.1L604.1 181.9L604.5 181.3L604.9 181.2L605.3 181.0L605.7 177.9L606.1 178.2L606.5 180.2L606.9 179.1L607.3 180.8L607.7 178.1L608.1 178.9L608.5 179.4L608.9 183.0L609.3 182.4L609.7 178.3L610.1 182.6L610.5 181.4L610.9 181.7L611.3 181.4L611.7 180.9L612.1 180.0L612.5 184.3L612.9 183.8L613.3 184.0L613.7 183.1L614.1 184.5L614.5 183.1L614.9 183.2L615.3 185.1L615.7 183.6L616.1 184.3L616.5 181.4L616.9 183.7L617.3 183.3L617.7 181.8L618.1 179.5L618.5 179.4L618.9 179.8L619.3 179.4L619.7 179.4L620.1 179.2L620.5 181.6L620.9 181.7L621.3 182.2L621.7 184.3L622.1 183.5L622.5 183.8L622.9 184.3L623.3 184.9L623.7 183.1L624.1 184.1L624.5 182.3L624.9 182.7L625.3 184.4L625.7 183.5L626.1 184.6L626.5 184.8L626.9 185.3L627.3 185.4L627.7 185.5L628.1 182.8L628.5 182.2L628.9 183.6L629.3 181.9L629.7 182.4L630.1 181.4L630.5 182.1L630.9 181.4L631.3 185.5L631.7 182.6L632.1 182.9L632.5 181.2L632.9 182.1L633.3 181.3L633.7 182.2L634.1 182.0L634.5 181.6L634.9 180.8L635.3 180.8L635.7 181.5L636.1 179.3L636.5 180.6L636.9 181.1L637.3 177.4L637.7 178.2L638.1 178.2L638.5 177.9L638.9 178.9L639.3 177.3L639.7 179.8L640.1 180.6L640.5 179.9L640.9 179.9L641.3 180.0L641.7 176.7L642.1 177.5L642.5 175.7L642.9 173.9L643.3 177.7L643.7 177.0L644.1 175.6L644.5 176.9L644.9 176.5L645.3 176.6L645.7 177.3L646.1 175.9L646.5 176.5L646.9 178.7L647.3 178.4L647.7 178.9L648.1 177.5L648.5 176.4L648.9 176.9L649.3 179.9L649.7 177.0L650.1 180.3L650.5 179.5L650.9 178.4L651.3 177.3L651.7 176.9L652.1 176.9L652.5 178.0L652.9 179.8L653.3 181.3L653.7 179.0L654.1 177.6L654.5 179.5L654.9 179.7L655.3 176.8"/>
<path d="M378.5 202.4L378.9 202.9L379.3 202.9L379.7 202.1L380.1 202.8L380.5 203.0L380.9 203.1L381.3 203.1L381.7 203.7L382.1 204.0L382.5 203.7L382.9 204.1L383.3 203.0L383.7 203.2L384.1 202.3L384.5 202.6L384.9 202.3L385.3 202.1L385.7 201.6L386.1 201.8L386.5 202.2L386.9 201.8L387.3 202.2L387.7 202.2L388.1 201.3L388.5 200.6L388.9 199.9L389.3 198.8L389.7 196.3L390.1 194.6L390.5 192.0L390.9 189.8L391.3 187.6L391.7 187.6L392.1 190.0L392.5 192.7L392.9 195.2L393.3 196.7L393.7 197.8L394.1 198.5L394.5 199.1L394.9 198.9L395.3 198.5L395.7 199.4L396.1 198.8L396.5 198.7L396.9 198.7L397.3 198.3L397.7 197.7L398.1 196.7L398.5 194.8L398.9 193.2L399.3 191.7L399.7 190.0L400.1 188.5L400.5 188.2L400.9 187.9L401.3 188.5L401.7 189.8L402.1 191.0L402.5 192.4L402.9 194.1L403.3 195.3L403.7 196.4L404.1 197.0L404.5 198.0L404.9 198.4L405.3 198.9L405.7 199.5L406.1 199.2L406.5 200.2L406.9 201.0L407.3 200.7L407.7 200.4L408.1 201.0L408.5 201.2L408.9 201.9L409.3 200.8L409.7 200.4L410.1 201.2L410.5 201.1L410.9 201.0L411.3 201.6L411.7 200.9L412.1 200.7L412.5 200.6L412.9 200.2L413.3 200.9L413.7 200.2L414.1 200.1L414.5 199.7L414.9 200.0L415.3 200.0L415.7 198.4L416.1 198.6L416.5 198.8L416.9 197.8L417.3 196.9L417.7 196.6L418.1 196.5L418.5 195.5L418.9 196.3L419.3 196.7L419.7 197.0L420.1 197.1L420.5 197.7L420.9 198.4L421.3 198.9L421.7 199.7L422.1 200.5L422.5 200.0L422.9 200.9L423.3 201.6L423.7 201.6L424.1 202.4L424.5 202.2L424.9 202.0L425.3 202.6L425.7 202.4L426.1 202.5L426.5 202.5L426.9 202.8L427.3 203.3L427.7 202.5L428.1 202.7L428.5 202.0L428.9 202.4L429.3 202.4L429.7 202.0L430.1 201.9L430.5 202.0L430.9 201.8L431.3 202.7L431.7 202.5L432.1 202.5L432.5 202.2L432.9 202.4L433.3 202.6L433.7 202.6L434.1 203.5L434.5 202.6L434.9 202.6L435.3 202.7L435.7 203.3L436.1 202.8L436.5 202.5L436.9 202.9L437.3 203.1L437.7 202.5L438.1 203.0L438.5 202.6L438.9 202.5L439.3 203.0L439.7 203.1L440.1 202.1L440.5 202.3L440.9 202.3L441.3 202.1L441.7 202.4L442.1 202.4L442.5 202.7L442.9 202.2L443.3 202.2L443.7 202.8L444.1 202.7L444.5 202.4L444.9 202.4L445.3 202.3L445.7 202.0L446.1 201.8L446.5 200.9L446.9 201.7L447.3 201.1L447.7 201.4L448.1 201.1L448.5 200.7L448.9 200.0L449.3 199.9L449.7 199.9L450.1 199.2L450.5 199.4L450.9 199.3L451.3 199.1L451.7 200.1L452.1 199.8L452.5 199.9L452.9 200.2L453.3 200.5L453.7 200.9L454.1 201.4L454.5 201.8L454.9 202.4L455.3 201.9L455.7 202.3L456.1 202.1L456.5 202.3L456.9 202.0L457.3 202.4L457.7 202.5L458.1 202.6L458.5 202.4L458.9 203.0L459.3 202.9L459.7 203.1L460.1 202.7L460.5 203.2L460.9 202.8L461.3 202.5L461.7 202.1L462.1 202.3L462.5 202.5L462.9 202.6L463.3 202.3L463.7 202.0L464.1 202.7L464.5 203.1L464.9 203.2L465.3 204.1L465.7 203.9L466.1 203.4L466.5 203.4L466.9 203.2L467.3 203.7L467.7 204.0L468.1 204.1L468.5 203.9L468.9 204.2L469.3 203.4L469.7 203.8L470.1 203.5L470.5 203.6L470.9 203.5L471.3 203.4L471.7 203.0L472.1 203.1L472.5 203.6L472.9 203.3L473.3 203.4L473.7 203.1L474.1 202.8L474.5 203.6L474.9 203.4L475.3 203.6L475.7 203.5L476.1 203.2L476.5 202.6L476.9 203.3L477.3 203.5L477.7 203.3L478.1 203.4L478.5 203.4L478.9 203.7L479.3 203.3L479.7 203.1L480.1 203.4L480.5 203.5L480.9 203.5L481.3 203.7L481.7 203.0L482.1 203.4L482.5 204.0L482.9 204.3L483.3 203.9L483.7 204.2L484.1 203.4L484.5 204.2L484.9 203.9L485.3 203.9L485.7 204.4L486.1 203.3L486.5 203.3L486.9 203.1L487.3 203.5L487.7 202.9L488.1 203.1L488.5 203.0L488.9 203.8L489.3 203.4L489.7 203.5L490.1 203.5L490.5 203.4L490.9 203.5L491.3 204.0L491.7 203.8L492.1 203.4L492.5 203.0L492.9 203.3L493.3 203.1L493.7 203.6L494.1 203.5L494.5 203.8L494.9 203.6L495.3 203.8L495.7 203.4L496.1 203.8L496.5 203.5L496.9 203.9L497.3 203.2L497.7 203.2L498.1 203.5L498.5 203.3L498.9 204.2L499.3 203.9L499.7 204.2L500.1 204.1L500.5 203.2L500.9 203.4L501.3 202.6L501.7 202.8L502.1 203.2L502.5 203.4L502.9 203.7L503.3 203.4L503.7 204.2L504.1 203.9L504.5 203.7L504.9 204.3L505.3 203.8L505.7 203.9L506.1 203.6L506.5 203.8L506.9 204.1L507.3 203.9L507.7 204.3L508.1 203.9L508.5 204.0L508.9 203.8L509.3 203.3L509.7 203.2L510.1 202.9L510.5 203.1L510.9 203.3L511.3 203.3L511.7 202.6L512.1 202.6L512.5 203.1L512.9 203.2L513.3 203.5L513.7 203.2L514.1 204.4L514.5 203.5L514.9 203.4L515.3 203.7L515.7 203.7L516.1 203.5L516.5 203.4L516.9 203.6L517.3 203.4L517.7 203.9L518.1 204.2L518.5 204.3L518.9 203.5L519.3 204.5L519.7 203.8L520.1 204.1L520.5 203.7L520.9 204.1L521.3 203.5L521.7 203.5L522.1 203.1L522.5 203.5L522.9 203.3L523.3 203.3L523.7 203.1L524.1 203.4L524.5 203.2L524.9 203.2L525.3 203.2L525.7 203.4L526.1 203.3L526.5 203.1L526.9 203.0L527.3 203.2L527.7 202.7L528.1 203.2L528.5 203.6L528.9 203.5L529.3 203.7L529.7 202.9L530.1 203.4L530.5 203.0L530.9 202.7L531.3 203.0L531.7 202.5L532.1 202.8L532.5 203.0L532.9 203.2L533.3 202.9L533.7 202.2L534.1 202.1L534.5 202.3L534.9 202.0L535.3 202.2L535.7 202.0L536.1 201.7L536.5 201.9L536.9 202.0L537.3 202.1L537.7 202.3L538.1 202.3L538.5 201.8L538.9 201.4L539.3 201.7L539.7 202.1L540.1 201.7L540.5 201.1L540.9 201.8L541.3 201.2L541.7 201.0L542.1 201.3L542.5 200.9L542.9 200.6L543.3 200.5L543.7 200.5L544.1 199.8L544.5 199.9L544.9 200.0L545.3 199.7L545.7 199.8L546.1 199.7L546.5 199.1L546.9 199.0L547.3 198.8L547.7 198.2L548.1 198.4L548.5 198.7L548.9 199.1L549.3 199.2L549.7 199.5L550.1 199.5L550.5 198.8L550.9 199.6L551.3 198.6L551.7 198.6L552.1 198.6L552.5 197.9L552.9 197.9L553.3 198.2L553.7 198.3L554.1 198.3L554.5 198.6L554.9 198.8L555.3 198.2L555.7 198.9L556.1 198.5L556.5 198.5L556.9 197.8L557.3 198.0L557.7 197.7L558.1 198.0L558.5 197.7L558.9 197.3L559.3 198.2L559.7 198.9L560.1 198.7L560.5 199.2L560.9 198.8L561.3 199.3L561.7 198.6L562.1 199.3L562.5 199.1L562.9 198.9L563.3 198.5L563.7 198.7L564.1 199.1L564.5 199.2L564.9 199.9L565.3 200.4L565.7 200.9L566.1 200.1L566.5 200.1L566.9 201.1L567.3 201.4L567.7 201.1L568.1 200.8L568.5 200.6L568.9 200.8L569.3 201.1L569.7 200.9L570.1 201.0L570.5 201.2L570.9 201.3L571.3 201.5L571.7 202.3L572.1 201.9L572.5 202.4L572.9 201.7L573.3 202.5L573.7 202.0L574.1 201.8L574.5 201.5L574.9 201.7L575.3 202.4L575.7 202.1L576.1 202.0L576.5 202.0L576.9 202.2L577.3 201.7L577.7 202.1L578.1 202.2L578.5 202.6L578.9 203.0L579.3 202.7L579.7 203.1L580.1 203.3L580.5 203.0L580.9 202.6L581.3 203.5L581.7 202.5L582.1 202.6L582.5 203.0L582.9 202.9L583.3 202.6L583.7 203.3L584.1 203.7L584.5 203.5L584.9 203.3L585.3 203.1L585.7 203.2L586.1 203.7L586.5 203.6L586.9 203.8L587.3 203.9L587.7 203.9L588.1 204.0L588.5 203.7L588.9 204.0L589.3 204.4L589.7 204.0L590.1 204.0L590.5 204.0L590.9 204.0L591.3 203.6L591.7 203.7L592.1 203.9L592.5 203.0L592.9 203.4L593.3 203.1L593.7 203.2L594.1 203.2L594.5 203.6L594.9 203.2L595.3 203.3L595.7 203.6L596.1 203.6L596.5 204.2L596.9 203.9L597.3 204.4L597.7 204.6L598.1 204.3L598.5 204.4L598.9 203.9L599.3 204.0L599.7 204.2L600.1 203.4L600.5 203.3L600.9 203.8L601.3 203.5L601.7 204.1L602.1 203.4L602.5 203.9L602.9 203.9L603.3 204.1L603.7 203.2L604.1 203.2L604.5 203.2L604.9 202.8L605.3 203.5L605.7 203.2L606.1 203.4L606.5 203.2L606.9 203.6L607.3 203.9L607.7 203.2L608.1 202.9L608.5 203.3L608.9 203.1L609.3 202.7L609.7 203.3L610.1 202.8L610.5 202.9L610.9 202.4L611.3 202.6L611.7 202.4L612.1 202.1L612.5 202.5L612.9 202.6L613.3 202.5L613.7 202.9L614.1 202.7L614.5 202.7L614.9 202.2L615.3 201.8L615.7 202.2L616.1 202.6L616.5 202.4L616.9 202.6L617.3 202.7L617.7 202.9L618.1 203.3L618.5 202.5L618.9 203.1L619.3 202.5L619.7 202.5L620.1 202.8L620.5 202.9L620.9 202.8L621.3 202.5L621.7 202.6L622.1 203.0L622.5 203.0L622.9 202.5L623.3 202.8L623.7 202.9L624.1 202.8L624.5 202.6L624.9 202.3L625.3 203.4L625.7 202.8L626.1 202.9L626.5 202.0L626.9 201.9L627.3 201.6L627.7 202.0L628.1 202.1L628.5 202.2L628.9 202.6L629.3 202.3L629.7 203.1L630.1 202.3L630.5 202.2L630.9 202.4L631.3 202.8L631.7 202.4L632.1 202.2L632.5 202.1L632.9 202.8L633.3 203.0L633.7 201.9L634.1 202.1L634.5 202.6L634.9 202.2L635.3 202.4L635.7 202.5L636.1 202.5L636.5 202.5L636.9 203.3L637.3 202.7L637.7 203.5L638.1 202.8L638.5 203.3L638.9 202.9L639.3 202.8L639.7 202.8L640.1 202.9L640.5 202.5L640.9 202.7L641.3 203.1L641.7 202.5L642.1 202.8L642.5 201.6L642.9 201.7L643.3 202.5L643.7 201.7L644.1 201.5L644.5 202.2L644.9 201.9L645.3 201.9L645.7 202.6L646.1 202.1L646.5 202.2L646.9 202.6L647.3 202.5L647.7 202.1L648.1 201.8L648.5 202.2L648.9 202.3L649.3 202.4L649.7 202.1L650.1 202.4L650.5 202.4L650.9 201.7L651.3 202.1L651.7 201.4L652.1 201.3L652.5 201.8L652.9 201.9L653.3 202.0L653.7 202.1L654.1 201.1L654.5 201.0L654.9 201.0L655.3 201.5"/>
<path d="M378.5 219.3L378.9 219.8L379.3 220.5L379.7 219.4L380.1 219.7L380.5 219.6L380.9 220.1L381.3 220.1L381.7 219.9L382.1 220.3L382.5 220.3L382.9 221.3L383.3 221.0L383.7 220.9L384.1 220.9L384.5 220.2L384.9 220.3L385.3 220.1L385.7 220.0L386.1 219.9L386.5 219.9L386.9 219.4L387.3 219.0L387.7 218.7L388.1 218.3L388.5 217.3L388.9 215.9L389.3 214.7L389.7 213.3L390.1 210.5L390.5 209.1L390.9 205.6L391.3 204.5L391.7 205.3L392.1 207.3L392.5 210.0L392.9 211.8L393.3 213.8L393.7 214.9L394.1 214.7L394.5 214.7L394.9 215.1L395.3 215.9L395.7 215.0L396.1 215.3L396.5 216.1L396.9 215.9L397.3 215.3L397.7 214.9L398.1 214.1L398.5 212.9L398.9 211.7L399.3 210.1L399.7 207.9L400.1 207.1L400.5 206.8L400.9 205.5L401.3 206.9L401.7 208.0L402.1 209.6L402.5 211.4L402.9 212.2L403.3 213.6L403.7 215.0L404.1 215.5L404.5 216.4L404.9 216.2L405.3 216.4L405.7 216.4L406.1 216.6L406.5 216.2L406.9 217.5L407.3 218.2L407.7 217.7L408.1 217.5L408.5 217.8L408.9 217.7L409.3 217.3L409.7 217.7L410.1 218.0L410.5 217.7L410.9 217.5L411.3 217.5L411.7 218.2L412.1 217.7L412.5 217.6L412.9 217.9L413.3 217.9L413.7 217.2L414.1 217.3L414.5 217.4L414.9 217.3L415.3 215.9L415.7 216.1L416.1 216.4L416.5 215.6L416.9 215.6L417.3 215.6L417.7 215.7L418.1 215.2L418.5 214.9L418.9 214.0L419.3 214.5L419.7 215.6L420.1 215.5L420.5 216.3L420.9 216.2L421.3 217.1L421.7 217.0L422.1 217.3L422.5 217.6L422.9 217.3L423.3 217.5L423.7 218.0L424.1 217.7L424.5 218.2L424.9 217.6L425.3 218.5L425.7 217.6L426.1 217.3L426.5 218.0L426.9 217.6L427.3 218.1L427.7 218.1L428.1 218.4L428.5 217.9L428.9 218.3L429.3 218.1L429.7 218.7L430.1 217.8L430.5 218.0L430.9 217.7L431.3 218.9L431.7 218.4L432.1 218.9L432.5 219.4L432.9 219.0L433.3 218.6L433.7 218.9L434.1 218.6L434.5 219.0L434.9 218.2L435.3 218.7L435.7 219.0L436.1 218.9L436.5 219.3L436.9 220.4L437.3 219.9L437.7 219.4L438.1 220.0L438.5 219.1L438.9 218.7L439.3 219.0L439.7 219.1L440.1 218.5L440.5 219.6L440.9 219.0L441.3 218.4L441.7 218.0L442.1 218.6L442.5 218.4L442.9 218.4L443.3 218.1L443.7 218.2L444.1 217.9L444.5 218.3L444.9 217.9L445.3 218.2L445.7 217.5L446.1 216.6L446.5 216.9L446.9 217.2L447.3 216.8L447.7 216.6L448.1 217.0L448.5 216.6L448.9 217.4L449.3 216.7L449.7 216.2L450.1 216.1L450.5 215.7L450.9 215.6L451.3 215.4L451.7 215.5L452.1 216.5L452.5 216.7L452.9 217.0L453.3 217.3L453.7 217.6L454.1 217.1L454.5 218.0L454.9 218.7L455.3 218.0L455.7 218.7L456.1 218.6L456.5 218.6L456.9 218.5L457.3 217.9L457.7 217.9L458.1 218.5L458.5 218.4L458.9 218.2L459.3 219.1L459.7 219.6L460.1 219.7L460.5 219.3L460.9 219.2L461.3 219.7L461.7 219.6L462.1 219.1L462.5 219.4L462.9 219.3L463.3 219.5L463.7 219.9L464.1 219.6L464.5 220.7L464.9 219.1L465.3 219.4L465.7 219.3L466.1 218.6L466.5 218.5L466.9 217.8L467.3 219.0L467.7 219.0L468.1 219.1L468.5 219.0L468.9 219.5L469.3 219.4L469.7 219.2L470.1 219.4L470.5 220.4L470.9 219.3L471.3 218.8L471.7 218.5L472.1 218.9L472.5 219.0L472.9 217.9L473.3 218.3L473.7 218.3L474.1 218.9L474.5 218.6L474.9 217.9L475.3 218.4L475.7 218.6L476.1 218.4L476.5 218.0L476.9 218.8L477.3 218.1L477.7 218.7L478.1 218.7L478.5 218.9L478.9 219.0L479.3 219.8L479.7 219.9L480.1 219.3L480.5 219.2L480.9 218.7L481.3 219.9L481.7 219.4L482.1 219.3L482.5 219.0L482.9 219.1L483.3 219.5L483.7 218.6L484.1 219.3L484.5 218.8L484.9 218.9L485.3 218.6L485.7 218.3L486.1 218.0L486.5 218.1L486.9 218.7L487.3 217.7L487.7 218.1L488.1 218.1L488.5 218.8L488.9 218.3L489.3 218.4L489.7 218.6L490.1 218.7L490.5 218.1L490.9 218.3L491.3 218.4L491.7 218.3L492.1 219.2L492.5 218.3L492.9 218.1L493.3 217.7L493.7 218.1L494.1 218.1L494.5 219.5L494.9 219.6L495.3 220.2L495.7 219.9L496.1 218.3L496.5 219.7L496.9 219.3L497.3 218.0L497.7 219.1L498.1 219.2L498.5 220.1L498.9 219.7L499.3 220.3L499.7 219.2L500.1 219.9L500.5 218.9L500.9 219.3L501.3 218.3L501.7 218.8L502.1 219.5L502.5 218.6L502.9 218.2L503.3 219.0L503.7 218.6L504.1 218.2L504.5 218.5L504.9 219.3L505.3 218.7L505.7 219.8L506.1 220.7L506.5 219.5L506.9 220.6L507.3 221.3L507.7 220.5L508.1 221.0L508.5 221.9L508.9 221.4L509.3 221.2L509.7 221.2L510.1 220.8L510.5 220.3L510.9 218.8L511.3 219.0L511.7 219.0L512.1 219.8L512.5 219.7L512.9 220.3L513.3 219.5L513.7 218.8L514.1 218.6L514.5 219.0L514.9 219.5L515.3 218.9L515.7 218.8L516.1 217.8L516.5 219.0L516.9 218.7L517.3 219.6L517.7 218.2L518.1 218.6L518.5 217.6L518.9 217.6L519.3 217.4L519.7 217.8L520.1 216.8L520.5 219.7L520.9 220.3L521.3 218.6L521.7 218.4L522.1 218.9L522.5 218.5L522.9 219.4L523.3 220.2L523.7 219.9L524.1 220.8L524.5 219.8L524.9 220.5L525.3 220.5L525.7 220.6L526.1 220.1L526.5 220.1L526.9 220.9L527.3 220.3L527.7 219.8L528.1 219.4L528.5 219.3L528.9 219.5L529.3 219.4L529.7 219.6L530.1 219.8L530.5 219.3L530.9 218.2L531.3 217.3L531.7 218.3L532.1 219.2L532.5 221.0L532.9 220.1L533.3 220.0L533.7 220.0L534.1 219.5L534.5 219.6L534.9 219.1L535.3 220.1L535.7 217.8L536.1 219.6L536.5 219.9L536.9 219.8L537.3 219.1L537.7 217.9L538.1 219.0L538.5 217.9L538.9 218.2L539.3 217.4L539.7 215.8L540.1 217.5L540.5 216.1L540.9 215.1L541.3 216.6L541.7 217.0L542.1 216.9L542.5 216.6L542.9 217.5L543.3 217.1L543.7 216.6L544.1 218.5L544.5 216.6L544.9 217.2L545.3 218.0L545.7 217.0L546.1 217.6L546.5 216.2L546.9 216.4L547.3 216.8L547.7 216.6L548.1 216.9L548.5 216.2L548.9 217.3L549.3 215.2L549.7 216.2L550.1 215.6L550.5 215.7L550.9 215.7L551.3 216.3L551.7 215.5L552.1 215.8L552.5 215.1L552.9 215.6L553.3 216.4L553.7 215.4L554.1 214.7L554.5 215.2L554.9 214.4L555.3 215.6L555.7 215.8L556.1 213.3L556.5 215.2L556.9 214.0L557.3 214.2L557.7 216.0L558.1 216.2L558.5 215.0L558.9 215.7L559.3 215.7L559.7 215.2L560.1 215.7L560.5 214.3L560.9 213.9L561.3 215.1L561.7 216.8L562.1 215.5L562.5 215.8L562.9 216.2L563.3 217.5L563.7 217.3L564.1 217.8L564.5 218.5L564.9 217.3L565.3 218.3L565.7 217.6L566.1 216.0L566.5 216.6L566.9 216.8L567.3 217.6L567.7 216.9L568.1 218.0L568.5 218.5L568.9 218.2L569.3 219.5L569.7 218.7L570.1 218.0L570.5 219.5L570.9 219.0L571.3 220.1L571.7 218.5L572.1 219.8L572.5 218.2L572.9 218.3L573.3 220.5L573.7 219.2L574.1 218.4L574.5 218.9L574.9 219.8L575.3 218.5L575.7 220.1L576.1 219.9L576.5 220.9L576.9 220.6L577.3 219.9L577.7 220.0L578.1 219.7L578.5 218.6L578.9 219.0L579.3 218.3L579.7 219.6L580.1 218.0L580.5 219.3L580.9 219.4L581.3 220.1L581.7 220.8L582.1 219.6L582.5 221.1L582.9 220.7L583.3 221.6L583.7 221.1L584.1 220.4L584.5 220.9L584.9 222.0L585.3 222.4L585.7 221.6L586.1 221.1L586.5 223.4L586.9 222.0L587.3 221.4L587.7 222.9L588.1 223.4L588.5 223.4L588.9 221.9L589.3 222.4L589.7 222.1L590.1 221.0L590.5 221.6L590.9 221.9L591.3 220.5L591.7 220.8L592.1 219.8L592.5 220.1L592.9 219.3L593.3 218.9L593.7 218.8L594.1 221.1L594.5 221.8L594.9 220.5L595.3 219.5L595.7 219.7L596.1 219.3L596.5 219.4L596.9 219.7L597.3 219.7L597.7 219.8L598.1 219.9L598.5 222.0L598.9 221.6L599.3 220.5L599.7 219.2L600.1 220.9L600.5 221.2L600.9 220.6L601.3 219.2L601.7 220.0L602.1 221.0L602.5 221.5L602.9 220.9L603.3 222.6L603.7 221.9L604.1 221.7L604.5 222.3L604.9 222.5L605.3 223.6L605.7 221.8L606.1 220.5L606.5 221.0L606.9 220.9L607.3 221.2L607.7 221.4L608.1 220.6L608.5 219.6L608.9 220.9L609.3 219.7L609.7 220.0L610.1 221.0L610.5 221.9L610.9 220.4L611.3 222.3L611.7 220.8L612.1 221.7L612.5 222.4L612.9 222.8L613.3 221.8L613.7 220.6L614.1 221.5L614.5 222.0L614.9 221.8L615.3 220.2L615.7 221.2L616.1 221.5L616.5 221.9L616.9 221.5L617.3 221.7L617.7 221.5L618.1 223.0L618.5 221.9L618.9 221.4L619.3 221.0L619.7 220.1L620.1 219.7L620.5 218.6L620.9 219.2L621.3 219.4L621.7 220.1L622.1 220.9L622.5 221.7L622.9 222.2L623.3 223.2L623.7 222.6L624.1 221.6L624.5 221.6L624.9 220.8L625.3 219.9L625.7 220.6L626.1 220.2L626.5 220.6L626.9 217.9L627.3 219.6L627.7 218.1L628.1 220.5L628.5 220.0L628.9 220.5L629.3 220.5L629.7 221.0L630.1 219.7L630.5 222.0L630.9 220.0L631.3 221.2L631.7 219.0L632.1 218.1L632.5 218.6L632.9 218.1L633.3 218.3L633.7 218.0L634.1 217.6L634.5 218.1L634.9 217.8L635.3 219.1L635.7 216.5L636.1 217.4L636.5 216.9L636.9 216.9L637.3 218.1L637.7 217.4L638.1 217.4L638.5 215.5L638.9 216.6L639.3 215.4L639.7 216.9L640.1 215.7L640.5 215.6L640.9 215.7L641.3 215.9L641.7 213.2L642.1 214.3L642.5 215.2L642.9 216.7L643.3 215.9L643.7 215.5L644.1 215.9L644.5 216.0L644.9 214.2L645.3 216.2L645.7 215.5L646.1 215.8L646.5 216.0L646.9 216.7L647.3 216.3L647.7 217.3L648.1 217.5L648.5 218.1L648.9 217.3L649.3 217.7L649.7 217.4L650.1 218.2L650.5 217.4L650.9 217.3L651.3 218.5L651.7 217.6L652.1 217.1L652.5 216.6L652.9 216.8L653.3 217.9L653.7 217.4L654.1 216.7L654.5 215.3L654.9 216.7L655.3 215.6"/>
<path d="M378.5 237.0L378.9 238.2L379.3 237.7L379.7 237.3L380.1 236.9L380.5 236.8L380.9 237.5L381.3 236.5L381.7 237.1L382.1 237.1L382.5 238.0L382.9 237.8L383.3 238.0L383.7 237.6L384.1 236.8L384.5 236.9L384.9 237.1L385.3 236.8L385.7 236.4L386.1 236.8L386.5 236.4L386.9 235.6L387.3 235.6L387.7 235.4L388.1 234.6L388.5 233.7L388.9 233.6L389.3 232.2L389.7 230.2L390.1 228.8L390.5 225.7L390.9 223.4L391.3 221.9L391.7 221.8L392.1 224.6L392.5 227.4L392.9 229.1L393.3 230.6L393.7 232.0L394.1 232.0L394.5 232.8L394.9 232.4L395.3 232.3L395.7 232.7L396.1 233.3L396.5 232.5L396.9 232.9L397.3 232.7L397.7 231.4L398.1 230.0L398.5 229.3L398.9 227.9L399.3 225.7L399.7 224.4L400.1 222.6L400.5 221.7L400.9 223.5L401.3 223.5L401.7 225.4L402.1 226.8L402.5 229.4L402.9 230.7L403.3 231.9L403.7 233.4L404.1 233.4L404.5 234.9L404.9 234.3L405.3 235.3L405.7 235.5L406.1 235.6L406.5 235.3L406.9 234.1L407.3 234.2L407.7 234.8L408.1 235.2L408.5 234.9L408.9 235.2L409.3 235.2L409.7 235.8L410.1 235.8L410.5 235.2L410.9 235.4L411.3 235.6L411.7 235.3L412.1 234.5L412.5 234.3L412.9 235.0L413.3 234.6L413.7 234.3L414.1 234.4L414.5 234.0L414.9 233.6L415.3 232.6L415.7 233.1L416.1 232.3L416.5 232.3L416.9 231.8L417.3 232.4L417.7 232.4L418.1 232.3L418.5 232.0L418.9 232.2L419.3 233.3L419.7 234.0L420.1 234.5L420.5 234.2L420.9 234.4L421.3 235.0L421.7 235.3L422.1 235.2L422.5 236.2L422.9 236.2L423.3 236.9L423.7 235.8L424.1 235.9L424.5 236.5L424.9 236.0L425.3 236.9L425.7 237.9L426.1 237.7L426.5 238.3L426.9 237.8L427.3 237.9L427.7 238.6L428.1 237.9L428.5 238.3L428.9 238.5L429.3 238.0L429.7 237.6L430.1 237.7L430.5 237.7L430.9 237.1L431.3 237.3L431.7 237.0L432.1 237.9L432.5 238.3L432.9 238.1L433.3 237.3L433.7 237.5L434.1 237.6L434.5 238.2L434.9 237.8L435.3 238.1L435.7 237.9L436.1 237.8L436.5 238.5L436.9 237.7L437.3 237.8L437.7 238.0L438.1 238.4L438.5 238.3L438.9 237.9L439.3 238.6L439.7 237.4L440.1 237.4L440.5 237.0L440.9 236.9L441.3 237.9L441.7 237.8L442.1 237.1L442.5 237.1L442.9 237.2L443.3 237.2L443.7 237.7L444.1 237.3L444.5 236.9L444.9 236.0L445.3 236.7L445.7 237.0L446.1 236.8L446.5 235.9L446.9 236.5L447.3 236.1L447.7 235.0L448.1 234.2L448.5 235.1L448.9 233.9L449.3 234.2L449.7 234.0L450.1 233.6L450.5 233.8L450.9 233.7L451.3 234.7L451.7 235.6L452.1 236.1L452.5 235.8L452.9 236.6L453.3 237.1L453.7 237.2L454.1 237.3L454.5 236.7L454.9 237.1L455.3 237.2L455.7 236.8L456.1 236.7L456.5 237.1L456.9 236.8L457.3 237.0L457.7 237.4L458.1 237.5L458.5 237.5L458.9 237.4L459.3 237.2L459.7 237.3L460.1 237.0L460.5 236.3L460.9 237.5L461.3 237.0L461.7 237.9L462.1 238.1L462.5 238.0L462.9 237.8L463.3 237.8L463.7 237.3L464.1 237.5L464.5 237.6L464.9 237.5L465.3 236.8L465.7 237.9L466.1 238.1L466.5 239.0L466.9 238.5L467.3 237.7L467.7 237.8L468.1 237.5L468.5 237.8L468.9 237.2L469.3 237.6L469.7 237.7L470.1 237.8L470.5 237.9L470.9 237.3L471.3 236.9L471.7 237.4L472.1 238.0L472.5 237.8L472.9 238.0L473.3 237.9L473.7 237.9L474.1 238.2L474.5 237.7L474.9 238.5L475.3 238.7L475.7 238.3L476.1 238.2L476.5 237.0L476.9 237.3L477.3 237.3L477.7 238.3L478.1 237.3L478.5 237.2L478.9 237.5L479.3 236.1L479.7 236.3L480.1 237.0L480.5 236.8L480.9 237.8L481.3 237.7L481.7 237.7L482.1 237.9L482.5 238.7L482.9 237.5L483.3 237.2L483.7 238.3L484.1 237.9L484.5 237.3L484.9 238.4L485.3 237.7L485.7 238.5L486.1 238.2L486.5 237.8L486.9 238.8L487.3 238.1L487.7 237.9L488.1 238.2L488.5 238.3L488.9 237.0L489.3 237.9L489.7 238.2L490.1 237.8L490.5 237.5L490.9 237.7L491.3 237.8L491.7 237.9L492.1 237.2L492.5 238.1L492.9 237.6L493.3 237.6L493.7 237.5L494.1 237.2L494.5 238.1L494.9 238.6L495.3 237.8L495.7 238.9L496.1 238.0L496.5 237.9L496.9 237.9L497.3 237.0L497.7 237.7L498.1 237.3L498.5 237.9L498.9 237.7L499.3 237.0L499.7 236.9L500.1 237.0L500.5 237.8L500.9 237.4L501.3 237.7L501.7 237.7L502.1 237.8L502.5 237.6L502.9 237.4L503.3 237.3L503.7 237.4L504.1 237.2L504.5 237.2L504.9 237.5L505.3 237.9L505.7 238.6L506.1 238.1L506.5 238.7L506.9 238.4L507.3 238.8L507.7 239.0L508.1 238.0L508.5 238.0L508.9 237.7L509.3 236.9L509.7 237.1L510.1 237.4L510.5 237.9L510.9 237.6L511.3 238.1L511.7 237.7L512.1 237.7L512.5 237.9L512.9 238.2L513.3 237.0L513.7 237.6L514.1 236.7L514.5 237.1L514.9 236.2L515.3 237.3L515.7 237.3L516.1 237.4L516.5 237.6L516.9 236.5L517.3 238.0L517.7 238.0L518.1 237.9L518.5 238.5L518.9 238.5L519.3 238.7L519.7 238.4L520.1 237.6L520.5 238.2L520.9 237.9L521.3 236.8L521.7 237.7L522.1 237.2L522.5 237.8L522.9 237.5L523.3 237.7L523.7 238.4L524.1 238.8L524.5 237.7L524.9 238.6L525.3 238.3L525.7 237.8L526.1 238.0L526.5 237.1L526.9 237.1L527.3 237.2L527.7 237.6L528.1 238.3L528.5 238.8L528.9 238.2L529.3 238.1L529.7 239.1L530.1 238.4L530.5 237.9L530.9 238.4L531.3 238.0L531.7 237.8L532.1 237.7L532.5 238.5L532.9 237.0L533.3 236.9L533.7 236.7L534.1 236.1L534.5 236.7L534.9 237.3L535.3 236.9L535.7 237.2L536.1 237.3L536.5 236.9L536.9 237.8L537.3 236.6L537.7 236.8L538.1 237.3L538.5 237.1L538.9 237.4L539.3 236.9L539.7 237.8L540.1 237.6L540.5 236.6L540.9 236.3L541.3 236.1L541.7 235.9L542.1 235.9L542.5 235.1L542.9 235.1L543.3 235.4L543.7 235.1L544.1 234.6L544.5 235.1L544.9 235.3L545.3 235.6L545.7 234.9L546.1 233.7L546.5 234.5L546.9 233.6L547.3 233.6L547.7 234.6L548.1 234.2L548.5 233.9L548.9 233.7L549.3 233.5L549.7 233.8L550.1 233.4L550.5 233.9L550.9 234.1L551.3 234.6L551.7 235.3L552.1 234.6L552.5 234.2L552.9 233.6L553.3 233.9L553.7 233.5L554.1 234.3L554.5 234.2L554.9 233.7L555.3 233.5L555.7 234.4L556.1 234.4L556.5 233.8L556.9 234.4L557.3 235.1L557.7 234.9L558.1 234.4L558.5 234.6L558.9 233.5L559.3 233.6L559.7 234.1L560.1 233.9L560.5 233.4L560.9 234.6L561.3 234.1L561.7 234.8L562.1 235.6L562.5 234.6L562.9 235.0L563.3 234.9L563.7 235.4L564.1 234.4L564.5 235.7L564.9 235.7L565.3 235.9L565.7 236.5L566.1 235.5L566.5 235.9L566.9 236.0L567.3 236.0L567.7 236.6L568.1 236.6L568.5 236.6L568.9 236.5L569.3 236.7L569.7 236.0L570.1 236.2L570.5 236.4L570.9 236.1L571.3 237.0L571.7 237.2L572.1 237.3L572.5 236.9L572.9 237.3L573.3 237.3L573.7 237.8L574.1 236.9L574.5 236.7L574.9 237.4L575.3 236.8L575.7 237.0L576.1 236.7L576.5 236.6L576.9 236.8L577.3 237.2L577.7 237.0L578.1 237.4L578.5 237.2L578.9 237.7L579.3 237.1L579.7 238.5L580.1 238.0L580.5 238.6L580.9 238.8L581.3 238.4L581.7 238.1L582.1 237.3L582.5 237.8L582.9 237.7L583.3 237.8L583.7 237.9L584.1 237.6L584.5 237.8L584.9 237.6L585.3 237.7L585.7 237.7L586.1 237.2L586.5 237.9L586.9 237.9L587.3 237.7L587.7 238.8L588.1 238.9L588.5 238.7L588.9 238.0L589.3 238.2L589.7 239.2L590.1 238.5L590.5 238.8L590.9 237.5L591.3 237.8L591.7 238.4L592.1 237.5L592.5 238.0L592.9 237.2L593.3 238.8L593.7 238.4L594.1 238.1L594.5 238.6L594.9 237.9L595.3 238.1L595.7 237.5L596.1 237.5L596.5 237.4L596.9 237.1L597.3 237.0L597.7 237.0L598.1 237.5L598.5 238.1L598.9 237.5L599.3 237.2L599.7 237.9L600.1 237.9L600.5 238.1L600.9 237.3L601.3 237.2L601.7 238.0L602.1 237.6L602.5 237.8L602.9 237.7L603.3 237.0L603.7 237.6L604.1 237.6L604.5 237.9L604.9 238.0L605.3 238.0L605.7 238.0L606.1 238.1L606.5 237.4L606.9 237.1L607.3 237.5L607.7 238.2L608.1 237.9L608.5 238.4L608.9 238.1L609.3 237.7L609.7 237.4L610.1 236.4L610.5 236.9L610.9 236.7L611.3 237.2L611.7 237.6L612.1 236.4L612.5 236.7L612.9 236.6L613.3 236.5L613.7 236.8L614.1 237.2L614.5 237.4L614.9 237.6L615.3 238.1L615.7 237.8L616.1 237.4L616.5 236.9L616.9 237.1L617.3 237.4L617.7 236.7L618.1 235.4L618.5 236.2L618.9 237.1L619.3 237.6L619.7 237.5L620.1 236.9L620.5 237.5L620.9 237.1L621.3 236.9L621.7 236.6L622.1 236.3L622.5 237.0L622.9 236.9L623.3 237.6L623.7 237.1L624.1 237.2L624.5 237.1L624.9 237.8L625.3 237.1L625.7 237.0L626.1 237.1L626.5 237.4L626.9 236.9L627.3 237.2L627.7 236.4L628.1 236.5L628.5 236.5L628.9 237.2L629.3 236.9L629.7 236.9L630.1 237.2L630.5 237.5L630.9 236.7L631.3 237.5L631.7 236.9L632.1 237.0L632.5 236.7L632.9 237.2L633.3 236.3L633.7 237.1L634.1 237.1L634.5 237.6L634.9 237.4L635.3 237.3L635.7 236.3L636.1 236.3L636.5 236.9L636.9 236.7L637.3 236.7L637.7 236.4L638.1 236.5L638.5 236.2L638.9 235.4L639.3 236.9L639.7 235.9L640.1 236.0L640.5 236.4L640.9 235.3L641.3 235.3L641.7 235.7L642.1 235.6L642.5 235.1L642.9 235.3L643.3 235.2L643.7 235.7L644.1 236.2L644.5 236.2L644.9 235.8L645.3 235.4L645.7 235.5L646.1 235.6L646.5 235.3L646.9 235.4L647.3 235.3L647.7 235.3L648.1 235.9L648.5 235.8L648.9 235.9L649.3 236.0L649.7 236.3L650.1 235.3L650.5 235.9L650.9 235.7L651.3 236.1L651.7 236.4L652.1 235.8L652.5 236.0L652.9 236.2L653.3 236.6L653.7 236.2L654.1 236.1L654.5 235.2L654.9 235.1L655.3 235.2"/>
</g>
<g class="mk">
<circle cx="37.90" cy="64.20" r="2.4"/>
<circle cx="47.70" cy="62.50" r="2.4"/>
<path d="M64.70 67.70L67.90 70.90L64.70 74.10L61.50 70.90Z"/>
<rect x="96.05" y="69.55" width="4.30" height="4.30"/>
<circle cx="37.10" cy="79.90" r="2.4"/>
<circle cx="46.70" cy="80.50" r="2.4"/>
<path d="M65.50 85.50L68.70 88.70L65.50 91.90L62.30 88.70Z"/>
<rect x="100.35" y="86.95" width="4.30" height="4.30"/>
<circle cx="37.50" cy="101.50" r="2.4"/>
<circle cx="46.70" cy="101.50" r="2.4"/>
<path d="M63.80 101.20L67.00 104.40L63.80 107.60L60.60 104.40Z"/>
<circle cx="36.90" cy="114.40" r="2.4"/>
<circle cx="46.70" cy="117.50" r="2.4"/>
<path d="M64.10 121.90L67.30 125.10L64.10 128.30L60.90 125.10Z"/>
<circle cx="37.50" cy="131.80" r="2.4"/>
<circle cx="46.10" cy="135.30" r="2.4"/>
<path d="M64.70 140.30L67.90 143.50L64.70 146.70L61.50 143.50Z"/>
<rect x="95.80" y="141.70" width="4.30" height="4.30"/>
<path d="M42.70 158.10L45.90 161.30L42.70 164.50L39.50 161.30Z"/>
<path class="od" d="M51.20 153.10L53.80 155.70L51.20 158.30L48.60 155.70Z"/>
<path d="M65.00 152.00L68.20 155.20L65.00 158.40L61.80 155.20Z"/>
<path class="od" d="M90.70 158.10L93.30 160.70L90.70 163.30L88.10 160.70Z"/>
<path d="M118.00 145.40L121.20 148.60L118.00 151.80L114.80 148.60Z"/>
<path d="M42.60 175.00L45.80 178.20L42.60 181.40L39.40 178.20Z"/>
<path class="od" d="M52.20 163.50L54.80 166.10L52.20 168.70L49.60 166.10Z"/>
<path d="M64.70 165.70L67.90 168.90L64.70 172.10L61.50 168.90Z"/>
<path class="od" d="M90.30 174.90L92.90 177.50L90.30 180.10L87.70 177.50Z"/>
<path d="M117.20 163.00L120.40 166.20L117.20 169.40L114.00 166.20Z"/>
<path d="M43.20 184.30L46.40 187.50L43.20 190.70L40.00 187.50Z"/>
<path class="od" d="M51.20 189.70L53.80 192.30L51.20 194.90L48.60 192.30Z"/>
<path d="M64.70 179.80L67.90 183.00L64.70 186.20L61.50 183.00Z"/>
<path class="od" d="M90.70 193.10L93.30 195.70L90.70 198.30L88.10 195.70Z"/>
<path d="M113.60 188.00L116.80 191.20L113.60 194.40L110.40 191.20Z"/>
<path d="M208.30 187.30L211.50 190.50L208.30 193.70L205.10 190.50Z"/>
<path d="M43.60 203.60L46.80 206.80L43.60 210.00L40.40 206.80Z"/>
<path class="od" d="M51.20 206.60L53.80 209.20L51.20 211.80L48.60 209.20Z"/>
<path d="M64.60 197.50L67.80 200.70L64.60 203.90L61.40 200.70Z"/>
<path d="M113.60 203.80L116.80 207.00L113.60 210.20L110.40 207.00Z"/>
<path class="od" d="M160.00 209.50L162.60 212.10L160.00 214.70L157.40 212.10Z"/>
<path d="M209.60 204.70L212.80 207.90L209.60 211.10L206.40 207.90Z"/>
<path d="M43.30 226.00L46.50 229.20L43.30 232.40L40.10 229.20Z"/>
<path class="od" d="M51.10 224.20L53.70 226.80L51.10 229.40L48.50 226.80Z"/>
<path d="M65.10 214.50L68.30 217.70L65.10 220.90L61.90 217.70Z"/>
<path d="M112.80 221.20L116.00 224.40L112.80 227.60L109.60 224.40Z"/>
<path class="od" d="M161.90 225.90L164.50 228.50L161.90 231.10L159.30 228.50Z"/>
<path d="M207.60 224.10L210.80 227.30L207.60 230.50L204.40 227.30Z"/>
<rect x="211.65" y="224.65" width="4.30" height="4.30"/>
<circle cx="391.40" cy="70.20" r="2.4"/>
<path d="M396.50 58.80L399.70 62.00L396.50 65.20L393.30 62.00Z"/>
<path class="od" d="M404.10 62.70L406.70 65.30L404.10 67.90L401.50 65.30Z"/>
<path d="M419.40 61.00L422.60 64.20L419.40 67.40L416.20 64.20Z"/>
<path d="M465.00 58.00L468.20 61.20L465.00 64.40L461.80 61.20Z"/>
<path d="M562.00 59.00L565.20 62.20L562.00 65.40L558.80 62.20Z"/>
<path d="M396.50 82.00L399.70 85.20L396.50 88.40L393.30 85.20Z"/>
<path d="M419.00 84.30L422.20 87.50L419.00 90.70L415.80 87.50Z"/>
<path d="M467.50 75.40L470.70 78.60L467.50 81.80L464.30 78.60Z"/>
<path d="M565.00 82.40L568.20 85.60L565.00 88.80L561.80 85.60Z"/>
<path d="M396.50 93.00L399.70 96.20L396.50 99.40L393.30 96.20Z"/>
<path d="M419.40 101.60L422.60 104.80L419.40 108.00L416.20 104.80Z"/>
<path d="M468.00 97.90L471.20 101.10L468.00 104.30L464.80 101.10Z"/>
<path d="M565.00 99.30L568.20 102.50L565.00 105.70L561.80 102.50Z"/>
<path d="M396.50 110.00L399.70 113.20L396.50 116.40L393.30 113.20Z"/>
<path d="M418.30 118.80L421.50 122.00L418.30 125.20L415.10 122.00Z"/>
<path d="M468.70 114.50L471.90 117.70L468.70 120.90L465.50 117.70Z"/>
<path d="M565.30 116.80L568.50 120.00L565.30 123.20L562.10 120.00Z"/>
<path d="M396.50 127.80L399.70 131.00L396.50 134.20L393.30 131.00Z"/>
<path d="M418.30 132.90L421.50 136.10L418.30 139.30L415.10 136.10Z"/>
<path d="M469.00 130.40L472.20 133.60L469.00 136.80L465.80 133.60Z"/>
<path d="M565.30 133.50L568.50 136.70L565.30 139.90L562.10 136.70Z"/>
<circle cx="391.40" cy="149.80" r="2.4"/>
<circle cx="400.80" cy="149.80" r="2.4"/>
<path d="M418.30 155.20L421.50 158.40L418.30 161.60L415.10 158.40Z"/>
<rect x="447.35" y="158.25" width="4.30" height="4.30"/>
<circle cx="391.40" cy="167.00" r="2.4"/>
<circle cx="400.80" cy="167.00" r="2.4"/>
<path d="M418.30 168.90L421.50 172.10L418.30 175.30L415.10 172.10Z"/>
<circle cx="391.40" cy="184.20" r="2.4"/>
<circle cx="400.80" cy="184.20" r="2.4"/>
<path d="M418.30 189.60L421.50 192.80L418.30 196.00L415.10 192.80Z"/>
<rect x="448.85" y="192.25" width="4.30" height="4.30"/>
<circle cx="391.20" cy="201.60" r="2.4"/>
<circle cx="400.80" cy="202.60" r="2.4"/>
<path d="M419.40 208.20L422.60 211.40L419.40 214.60L416.20 211.40Z"/>
<rect x="448.85" y="210.05" width="4.30" height="4.30"/>
<circle cx="391.20" cy="218.80" r="2.4"/>
<circle cx="400.40" cy="219.80" r="2.4"/>
<path d="M419.40 224.40L422.60 227.60L419.40 230.80L416.20 227.60Z"/>
<rect x="448.85" y="228.15" width="4.30" height="4.30"/>
<circle cx="66.90" cy="45.90" r="2.4"/>
<text class="lg" x="71.40" y="49.00">FeS</text>
<path d="M103.70 42.70L106.90 45.90L103.70 49.10L100.50 45.90Z"/>
<text class="lg" x="109.20" y="49.00">γ-FeOOH</text>
<rect x="158.85" y="43.75" width="4.30" height="4.30"/>
<text class="lg" x="167.80" y="49.00">α-Fe<tspan class="sub" dy="1.5">2</tspan><tspan dy="-1.5">O</tspan><tspan class="sub" dy="1.5">3</tspan></text>
<path class="od" d="M214.40 43.30L217.00 45.90L214.40 48.50L211.80 45.90Z"/>
<text class="lg" x="220.30" y="49.00">α-FeO(OH)</text>
<circle cx="422.10" cy="45.80" r="2.4"/>
<text class="lg" x="426.60" y="48.90">FeS</text>
<path d="M458.90 42.60L462.10 45.80L458.90 49.00L455.70 45.80Z"/>
<text class="lg" x="464.40" y="48.90">γ-FeOOH</text>
<rect x="515.05" y="43.65" width="4.30" height="4.30"/>
<text class="lg" x="523.90" y="48.90">α-Fe<tspan class="sub" dy="1.5">2</tspan><tspan dy="-1.5">O</tspan><tspan class="sub" dy="1.5">3</tspan></text>
<path class="od" d="M568.60 43.20L571.20 45.80L568.60 48.40L566.00 45.80Z"/>
<text class="lg" x="573.30" y="48.90">α-FeO(OH)</text>
</g>
</svg></body></html>
